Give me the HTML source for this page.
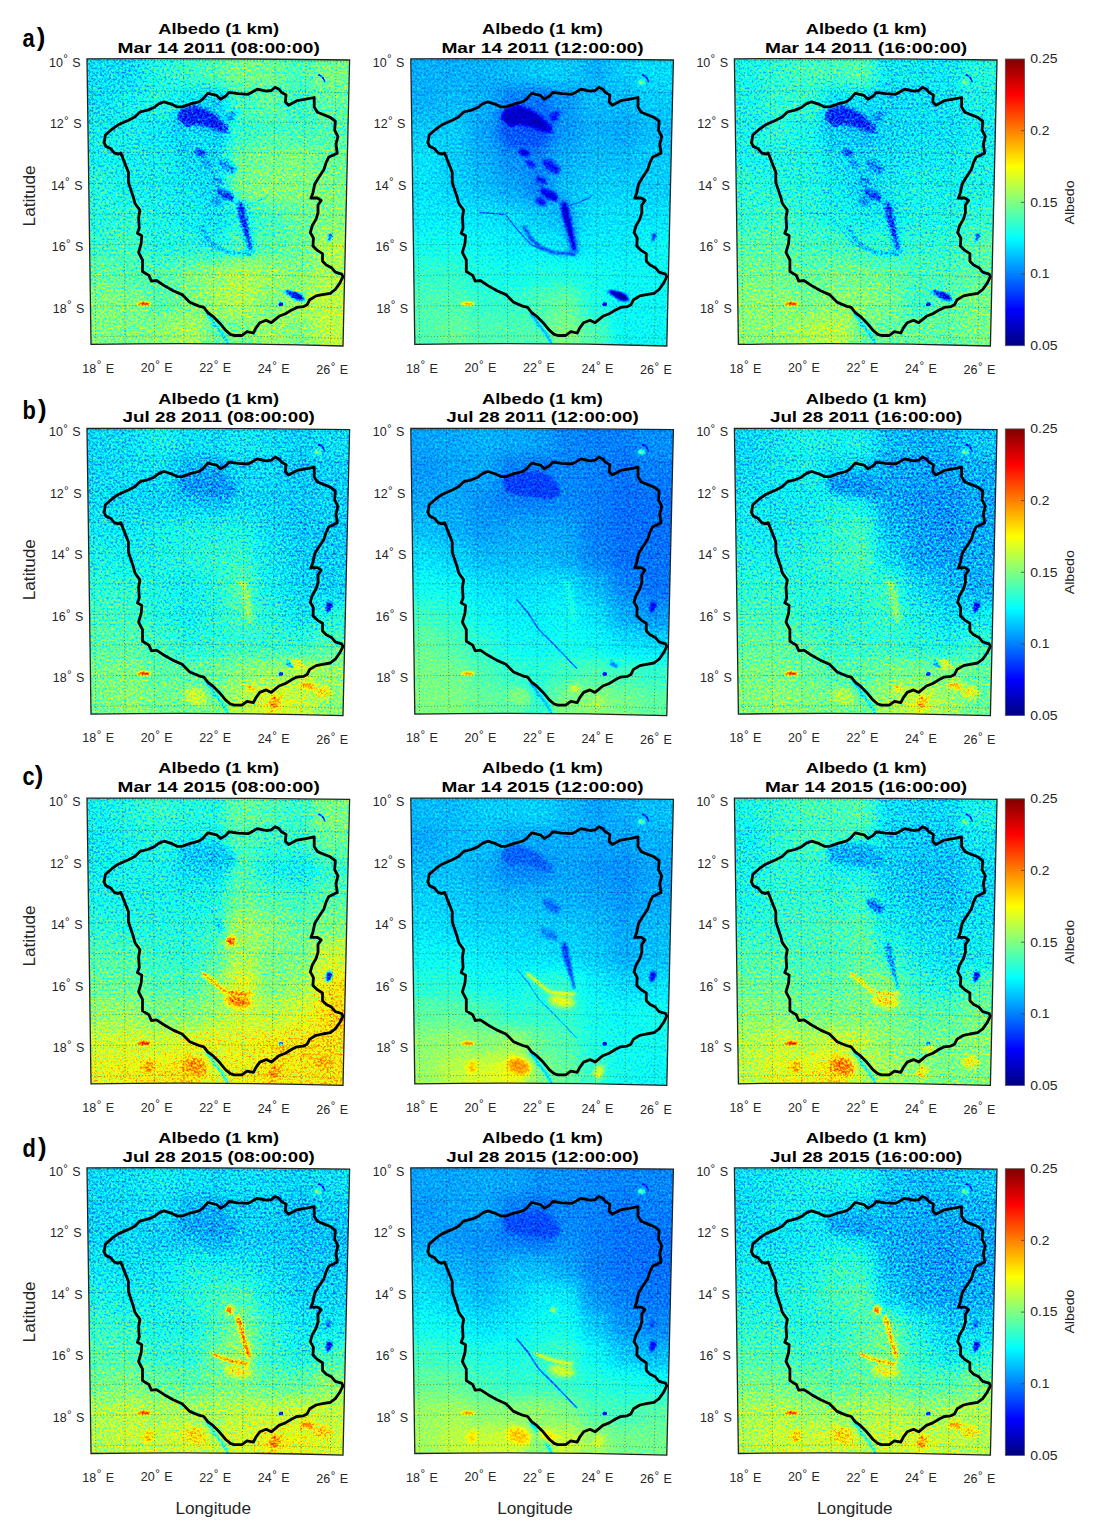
<!DOCTYPE html><html><head><meta charset="utf-8"><title>Albedo</title><style>
html,body{margin:0;padding:0;background:#fff;width:1094px;height:1529px;overflow:hidden}
svg{display:block;font-family:"Liberation Sans",sans-serif}
</style></head><body>
<svg width="1094" height="1529" viewBox="0 0 1094 1529">
<defs>
<filter id="jet" x="-5%" y="-5%" width="110%" height="110%" color-interpolation-filters="sRGB"><feTurbulence type="fractalNoise" baseFrequency="0.45" numOctaves="2" seed="7" result="n"/><feColorMatrix in="n" type="matrix" values="1 0 0 0 0 1 0 0 0 0 1 0 0 0 0 0 0 0 0 1" result="g"/><feComposite in="SourceGraphic" in2="g" operator="arithmetic" k1="0" k2="1" k3="0.420" k4="-0.210"/><feComponentTransfer><feFuncR type="table" tableValues="0 0 0 0 0.5 1 1 1 0.5"/><feFuncG type="table" tableValues="0 0 0.5 1 1 1 0.5 0 0"/><feFuncB type="table" tableValues="0.5 1 1 1 0.5 0 0 0 0"/></feComponentTransfer><feGaussianBlur stdDeviation="0.45"/></filter>
<filter id="jetm" x="-5%" y="-5%" width="110%" height="110%" color-interpolation-filters="sRGB"><feTurbulence type="fractalNoise" baseFrequency="0.45" numOctaves="2" seed="7" result="n"/><feColorMatrix in="n" type="matrix" values="1 0 0 0 0 1 0 0 0 0 1 0 0 0 0 0 0 0 0 1" result="g"/><feComposite in="SourceGraphic" in2="g" operator="arithmetic" k1="0" k2="1" k3="0.210" k4="-0.105"/><feComponentTransfer><feFuncR type="table" tableValues="0 0 0 0 0.5 1 1 1 0.5"/><feFuncG type="table" tableValues="0 0 0.5 1 1 1 0.5 0 0"/><feFuncB type="table" tableValues="0.5 1 1 1 0.5 0 0 0 0"/></feComponentTransfer><feGaussianBlur stdDeviation="0.45"/></filter>
<filter id="bl" x="-10%" y="-10%" width="120%" height="120%" color-interpolation-filters="sRGB"><feGaussianBlur stdDeviation="7.5"/></filter>
<filter id="b1" x="-50%" y="-50%" width="200%" height="200%" color-interpolation-filters="sRGB"><feGaussianBlur stdDeviation="1.2"/></filter>
<filter id="b2" x="-50%" y="-50%" width="200%" height="200%" color-interpolation-filters="sRGB"><feGaussianBlur stdDeviation="2.5"/></filter>
<filter id="b3" x="-50%" y="-50%" width="200%" height="200%" color-interpolation-filters="sRGB"><feGaussianBlur stdDeviation="5"/></filter>
<clipPath id="cq"><path d="M0,0Q131.7,-0.6 262.6,1.2L256,287.2Q130,283.6 4,285.6Z"/></clipPath>
<linearGradient id="cb" x1="0" y1="1" x2="0" y2="0"><stop offset="0.0000" stop-color="#000080"/><stop offset="0.1250" stop-color="#0000ff"/><stop offset="0.2500" stop-color="#0080ff"/><stop offset="0.3750" stop-color="#00ffff"/><stop offset="0.5000" stop-color="#80ff80"/><stop offset="0.6250" stop-color="#ffff00"/><stop offset="0.7500" stop-color="#ff8000"/><stop offset="0.8750" stop-color="#ff0000"/><stop offset="1.0000" stop-color="#800000"/></linearGradient>
<path id="ol" d="M17.1,83.9 18.4,76.2 24.8,70.5 31.2,66.0 41.4,61.5 47.8,58.3 52.9,53.2 60.6,51.3 67.0,48.7 72.1,44.9 77.2,43.0 84.9,45.5 90.0,48.1 95.1,48.1 104.1,44.9 111.8,43.0 115.6,40.4 120.7,34.6 129.7,36.6 133.5,40.4 138.7,37.2 142.1,33.6 151.0,34.9 161.3,35.5 170.2,30.4 179.2,32.3 184.3,31.7 188.1,28.5 192.0,30.4 194.5,33.6 199.0,36.2 198.4,43.2 201.6,46.4 209.9,41.9 217.6,40.6 227.2,38.7 227.2,48.3 230.4,53.4 236.8,56.0 243.2,58.6 248.3,62.4 247.7,71.3 250.9,77.7 249.0,85.4 250.2,94.4 241.9,98.2 239.3,103.3 236.8,111.0 231.7,118.7 227.8,125.1 225.9,134.1 224.0,139.2 230.4,139.2 234.2,141.7 231.0,146.2 231.0,153.9 229.1,160.3 225.3,166.7 223.3,173.7 226.5,179.5 225.9,187.2 230.4,191.6 235.5,194.8 235.5,202.5 239.3,206.3 244.5,208.9 248.3,213.4 254.7,215.3 256.0,217.9 252.8,224.3 248.3,230.7 243.2,234.5 235.5,235.8 229.1,237.1 222.7,240.9 220.1,246.0 216.3,247.9 209.9,248.6 204.8,251.1 198.4,255.0 192.0,257.5 184.3,263.9 179.2,261.4 172.8,263.9 169.0,269.1 166.4,274.2 160.0,272.9 154.9,276.7 147.2,276.7 143.4,275.5 138.7,271.6 132.3,263.9 125.9,257.5 120.7,253.7 116.9,248.6 111.8,247.3 102.8,243.5 95.1,235.8 86.2,231.9 77.2,226.8 69.5,221.7 64.4,222.3 61.9,216.6 55.5,212.7 55.5,201.2 51.6,193.6 54.2,184.6 54.8,176.9 50.4,174.4 52.3,169.2 51.6,159.0 52.9,151.3 49.1,146.2 47.8,144.1 46.5,138.9 44.0,131.3 41.4,123.6 41.4,113.3 38.8,106.9 36.3,100.5 33.7,94.1 31.2,95.4 27.3,94.1 23.5,89.7 19.0,87.7Z"/>
<filter id="f3_0" x="-100%" y="-100%" width="300%" height="300%" color-interpolation-filters="sRGB"><feGaussianBlur stdDeviation="3.0"/></filter>
<filter id="f2_6" x="-100%" y="-100%" width="300%" height="300%" color-interpolation-filters="sRGB"><feGaussianBlur stdDeviation="2.6"/></filter>
<filter id="f2_5" x="-100%" y="-100%" width="300%" height="300%" color-interpolation-filters="sRGB"><feGaussianBlur stdDeviation="2.5"/></filter>
<filter id="f2_2" x="-100%" y="-100%" width="300%" height="300%" color-interpolation-filters="sRGB"><feGaussianBlur stdDeviation="2.2"/></filter>
<filter id="f2_0" x="-100%" y="-100%" width="300%" height="300%" color-interpolation-filters="sRGB"><feGaussianBlur stdDeviation="2.0"/></filter>
<filter id="f1_8" x="-100%" y="-100%" width="300%" height="300%" color-interpolation-filters="sRGB"><feGaussianBlur stdDeviation="1.8"/></filter>
<filter id="f1_5" x="-100%" y="-100%" width="300%" height="300%" color-interpolation-filters="sRGB"><feGaussianBlur stdDeviation="1.5"/></filter>
<filter id="f1_3" x="-100%" y="-100%" width="300%" height="300%" color-interpolation-filters="sRGB"><feGaussianBlur stdDeviation="1.3"/></filter>
<filter id="f1_2" x="-100%" y="-100%" width="300%" height="300%" color-interpolation-filters="sRGB"><feGaussianBlur stdDeviation="1.2"/></filter>
<filter id="f1_1" x="-100%" y="-100%" width="300%" height="300%" color-interpolation-filters="sRGB"><feGaussianBlur stdDeviation="1.1"/></filter>
<filter id="f1_0" x="-100%" y="-100%" width="300%" height="300%" color-interpolation-filters="sRGB"><feGaussianBlur stdDeviation="1.0"/></filter>
<filter id="f0_9" x="-100%" y="-100%" width="300%" height="300%" color-interpolation-filters="sRGB"><feGaussianBlur stdDeviation="0.9"/></filter>
<filter id="f0_8" x="-100%" y="-100%" width="300%" height="300%" color-interpolation-filters="sRGB"><feGaussianBlur stdDeviation="0.8"/></filter>
<filter id="f0_7" x="-100%" y="-100%" width="300%" height="300%" color-interpolation-filters="sRGB"><feGaussianBlur stdDeviation="0.7"/></filter>
<filter id="f0_6" x="-100%" y="-100%" width="300%" height="300%" color-interpolation-filters="sRGB"><feGaussianBlur stdDeviation="0.6"/></filter>
</defs>
<g transform="translate(87.0,58.8)">
<g clip-path="url(#cq)"><g filter="url(#jet)">
<g filter="url(#bl)">
<rect x="-30.3" y="-29.1" width="30.6" height="29.4" fill="#595959"/>
<rect x="-0.3" y="-29.1" width="29.8" height="29.4" fill="#595959"/>
<rect x="28.9" y="-29.1" width="29.8" height="29.4" fill="#595959"/>
<rect x="58.1" y="-29.1" width="29.8" height="29.4" fill="#666666"/>
<rect x="87.3" y="-29.1" width="29.8" height="29.4" fill="#6c6c6c"/>
<rect x="116.5" y="-29.1" width="24.3" height="29.4" fill="#737373"/>
<rect x="140.2" y="-29.1" width="29.6" height="29.4" fill="#7d7d7d"/>
<rect x="169.2" y="-29.1" width="29.6" height="29.4" fill="#797979"/>
<rect x="198.2" y="-29.1" width="29.6" height="29.4" fill="#737373"/>
<rect x="227.2" y="-29.1" width="36.1" height="29.4" fill="#7d7d7d"/>
<rect x="262.7" y="-29.1" width="30.6" height="29.4" fill="#7d7d7d"/>
<rect x="-30.3" y="-0.3" width="30.6" height="29.4" fill="#595959"/>
<rect x="-0.3" y="-0.3" width="29.8" height="29.4" fill="#595959"/>
<rect x="28.9" y="-0.3" width="29.8" height="29.4" fill="#595959"/>
<rect x="58.1" y="-0.3" width="29.8" height="29.4" fill="#666666"/>
<rect x="87.3" y="-0.3" width="29.8" height="29.4" fill="#6c6c6c"/>
<rect x="116.5" y="-0.3" width="24.3" height="29.4" fill="#737373"/>
<rect x="140.2" y="-0.3" width="29.6" height="29.4" fill="#7d7d7d"/>
<rect x="169.2" y="-0.3" width="29.6" height="29.4" fill="#797979"/>
<rect x="198.2" y="-0.3" width="29.6" height="29.4" fill="#737373"/>
<rect x="227.2" y="-0.3" width="36.1" height="29.4" fill="#7d7d7d"/>
<rect x="262.7" y="-0.3" width="30.6" height="29.4" fill="#7d7d7d"/>
<rect x="-30.3" y="28.5" width="30.6" height="29.4" fill="#595959"/>
<rect x="-0.3" y="28.5" width="29.8" height="29.4" fill="#595959"/>
<rect x="28.9" y="28.5" width="29.8" height="29.4" fill="#606060"/>
<rect x="58.1" y="28.5" width="29.8" height="29.4" fill="#666666"/>
<rect x="87.3" y="28.5" width="29.8" height="29.4" fill="#5c5c5c"/>
<rect x="116.5" y="28.5" width="24.3" height="29.4" fill="#535353"/>
<rect x="140.2" y="28.5" width="29.6" height="29.4" fill="#707070"/>
<rect x="169.2" y="28.5" width="29.6" height="29.4" fill="#777777"/>
<rect x="198.2" y="28.5" width="29.6" height="29.4" fill="#6c6c6c"/>
<rect x="227.2" y="28.5" width="36.1" height="29.4" fill="#777777"/>
<rect x="262.7" y="28.5" width="30.6" height="29.4" fill="#777777"/>
<rect x="-30.3" y="57.3" width="30.6" height="29.4" fill="#606060"/>
<rect x="-0.3" y="57.3" width="29.8" height="29.4" fill="#606060"/>
<rect x="28.9" y="57.3" width="29.8" height="29.4" fill="#606060"/>
<rect x="58.1" y="57.3" width="29.8" height="29.4" fill="#5c5c5c"/>
<rect x="87.3" y="57.3" width="29.8" height="29.4" fill="#535353"/>
<rect x="116.5" y="57.3" width="24.3" height="29.4" fill="#4f4f4f"/>
<rect x="140.2" y="57.3" width="29.6" height="29.4" fill="#6c6c6c"/>
<rect x="169.2" y="57.3" width="29.6" height="29.4" fill="#707070"/>
<rect x="198.2" y="57.3" width="29.6" height="29.4" fill="#707070"/>
<rect x="227.2" y="57.3" width="36.1" height="29.4" fill="#737373"/>
<rect x="262.7" y="57.3" width="30.6" height="29.4" fill="#737373"/>
<rect x="-30.3" y="86.1" width="30.6" height="29.4" fill="#606060"/>
<rect x="-0.3" y="86.1" width="29.8" height="29.4" fill="#606060"/>
<rect x="28.9" y="86.1" width="29.8" height="29.4" fill="#606060"/>
<rect x="58.1" y="86.1" width="29.8" height="29.4" fill="#606060"/>
<rect x="87.3" y="86.1" width="29.8" height="29.4" fill="#575757"/>
<rect x="116.5" y="86.1" width="24.3" height="29.4" fill="#575757"/>
<rect x="140.2" y="86.1" width="29.6" height="29.4" fill="#797979"/>
<rect x="169.2" y="86.1" width="29.6" height="29.4" fill="#7d7d7d"/>
<rect x="198.2" y="86.1" width="29.6" height="29.4" fill="#7f7f7f"/>
<rect x="227.2" y="86.1" width="36.1" height="29.4" fill="#797979"/>
<rect x="262.7" y="86.1" width="30.6" height="29.4" fill="#797979"/>
<rect x="-30.3" y="114.9" width="30.6" height="29.4" fill="#666666"/>
<rect x="-0.3" y="114.9" width="29.8" height="29.4" fill="#666666"/>
<rect x="28.9" y="114.9" width="29.8" height="29.4" fill="#606060"/>
<rect x="58.1" y="114.9" width="29.8" height="29.4" fill="#606060"/>
<rect x="87.3" y="114.9" width="29.8" height="29.4" fill="#5c5c5c"/>
<rect x="116.5" y="114.9" width="24.3" height="29.4" fill="#575757"/>
<rect x="140.2" y="114.9" width="29.6" height="29.4" fill="#7d7d7d"/>
<rect x="169.2" y="114.9" width="29.6" height="29.4" fill="#828282"/>
<rect x="198.2" y="114.9" width="29.6" height="29.4" fill="#7f7f7f"/>
<rect x="227.2" y="114.9" width="36.1" height="29.4" fill="#7f7f7f"/>
<rect x="262.7" y="114.9" width="30.6" height="29.4" fill="#7f7f7f"/>
<rect x="-30.3" y="143.7" width="30.6" height="29.4" fill="#666666"/>
<rect x="-0.3" y="143.7" width="29.8" height="29.4" fill="#666666"/>
<rect x="28.9" y="143.7" width="29.8" height="29.4" fill="#6a6a6a"/>
<rect x="58.1" y="143.7" width="29.8" height="29.4" fill="#636363"/>
<rect x="87.3" y="143.7" width="29.8" height="29.4" fill="#606060"/>
<rect x="116.5" y="143.7" width="24.3" height="29.4" fill="#595959"/>
<rect x="140.2" y="143.7" width="29.6" height="29.4" fill="#666666"/>
<rect x="169.2" y="143.7" width="29.6" height="29.4" fill="#707070"/>
<rect x="198.2" y="143.7" width="29.6" height="29.4" fill="#797979"/>
<rect x="227.2" y="143.7" width="36.1" height="29.4" fill="#7f7f7f"/>
<rect x="262.7" y="143.7" width="30.6" height="29.4" fill="#7f7f7f"/>
<rect x="-30.3" y="172.5" width="30.6" height="29.4" fill="#6c6c6c"/>
<rect x="-0.3" y="172.5" width="29.8" height="29.4" fill="#6c6c6c"/>
<rect x="28.9" y="172.5" width="29.8" height="29.4" fill="#707070"/>
<rect x="58.1" y="172.5" width="29.8" height="29.4" fill="#666666"/>
<rect x="87.3" y="172.5" width="29.8" height="29.4" fill="#666666"/>
<rect x="116.5" y="172.5" width="24.3" height="29.4" fill="#636363"/>
<rect x="140.2" y="172.5" width="29.6" height="29.4" fill="#737373"/>
<rect x="169.2" y="172.5" width="29.6" height="29.4" fill="#737373"/>
<rect x="198.2" y="172.5" width="29.6" height="29.4" fill="#797979"/>
<rect x="227.2" y="172.5" width="36.1" height="29.4" fill="#8c8c8c"/>
<rect x="262.7" y="172.5" width="30.6" height="29.4" fill="#8c8c8c"/>
<rect x="-30.3" y="201.3" width="30.6" height="29.4" fill="#797979"/>
<rect x="-0.3" y="201.3" width="29.8" height="29.4" fill="#797979"/>
<rect x="28.9" y="201.3" width="29.8" height="29.4" fill="#737373"/>
<rect x="58.1" y="201.3" width="29.8" height="29.4" fill="#737373"/>
<rect x="87.3" y="201.3" width="29.8" height="29.4" fill="#7d7d7d"/>
<rect x="116.5" y="201.3" width="24.3" height="29.4" fill="#868686"/>
<rect x="140.2" y="201.3" width="29.6" height="29.4" fill="#8c8c8c"/>
<rect x="169.2" y="201.3" width="29.6" height="29.4" fill="#868686"/>
<rect x="198.2" y="201.3" width="29.6" height="29.4" fill="#7f7f7f"/>
<rect x="227.2" y="201.3" width="36.1" height="29.4" fill="#8a8a8a"/>
<rect x="262.7" y="201.3" width="30.6" height="29.4" fill="#8a8a8a"/>
<rect x="-30.3" y="230.1" width="30.6" height="29.4" fill="#7f7f7f"/>
<rect x="-0.3" y="230.1" width="29.8" height="29.4" fill="#7f7f7f"/>
<rect x="28.9" y="230.1" width="29.8" height="29.4" fill="#7f7f7f"/>
<rect x="58.1" y="230.1" width="29.8" height="29.4" fill="#757575"/>
<rect x="87.3" y="230.1" width="29.8" height="29.4" fill="#7d7d7d"/>
<rect x="116.5" y="230.1" width="24.3" height="29.4" fill="#868686"/>
<rect x="140.2" y="230.1" width="29.6" height="29.4" fill="#8c8c8c"/>
<rect x="169.2" y="230.1" width="29.6" height="29.4" fill="#7f7f7f"/>
<rect x="198.2" y="230.1" width="29.6" height="29.4" fill="#8a8a8a"/>
<rect x="227.2" y="230.1" width="36.1" height="29.4" fill="#8f8f8f"/>
<rect x="262.7" y="230.1" width="30.6" height="29.4" fill="#8f8f8f"/>
<rect x="-30.3" y="258.9" width="30.6" height="29.4" fill="#7f7f7f"/>
<rect x="-0.3" y="258.9" width="29.8" height="29.4" fill="#7f7f7f"/>
<rect x="28.9" y="258.9" width="29.8" height="29.4" fill="#7d7d7d"/>
<rect x="58.1" y="258.9" width="29.8" height="29.4" fill="#828282"/>
<rect x="87.3" y="258.9" width="29.8" height="29.4" fill="#8a8a8a"/>
<rect x="116.5" y="258.9" width="24.3" height="29.4" fill="#797979"/>
<rect x="140.2" y="258.9" width="29.6" height="29.4" fill="#7d7d7d"/>
<rect x="169.2" y="258.9" width="29.6" height="29.4" fill="#868686"/>
<rect x="198.2" y="258.9" width="29.6" height="29.4" fill="#7f7f7f"/>
<rect x="227.2" y="258.9" width="36.1" height="29.4" fill="#8f8f8f"/>
<rect x="262.7" y="258.9" width="30.6" height="29.4" fill="#8f8f8f"/>
<rect x="-30.3" y="287.7" width="30.6" height="29.4" fill="#7f7f7f"/>
<rect x="-0.3" y="287.7" width="29.8" height="29.4" fill="#7f7f7f"/>
<rect x="28.9" y="287.7" width="29.8" height="29.4" fill="#7d7d7d"/>
<rect x="58.1" y="287.7" width="29.8" height="29.4" fill="#828282"/>
<rect x="87.3" y="287.7" width="29.8" height="29.4" fill="#8a8a8a"/>
<rect x="116.5" y="287.7" width="24.3" height="29.4" fill="#797979"/>
<rect x="140.2" y="287.7" width="29.6" height="29.4" fill="#7d7d7d"/>
<rect x="169.2" y="287.7" width="29.6" height="29.4" fill="#868686"/>
<rect x="198.2" y="287.7" width="29.6" height="29.4" fill="#7f7f7f"/>
<rect x="227.2" y="287.7" width="36.1" height="29.4" fill="#8f8f8f"/>
<rect x="262.7" y="287.7" width="30.6" height="29.4" fill="#8f8f8f"/>
</g>
<polyline points="120.0,255.0 128.0,266.0 136.0,276.0 142.0,288.0" fill="none" stroke="#464646" stroke-width="2.2" stroke-linecap="round" stroke-linejoin="round" filter="url(#f1_0)"/>
<ellipse cx="57.0" cy="245.0" rx="6.8" ry="1.7" transform="rotate(0 57.0 245.0)" fill="#dfdfdf" filter="url(#f1_0)"/>
<ellipse cx="243.0" cy="178.0" rx="1.6" ry="4.5" transform="rotate(12 243.0 178.0)" fill="#202020" filter="url(#f0_8)"/>
<polyline points="232.0,16.0 236.0,19.0 238.0,23.0" fill="none" stroke="#262626" stroke-width="1.6" stroke-linecap="round" stroke-linejoin="round" filter="url(#f0_6)"/>
<ellipse cx="230.5" cy="23.5" rx="3.5" ry="1.8" transform="rotate(0 230.5 23.5)" fill="#8c8c8c" filter="url(#f1_0)"/>
<polygon points="90.0,68.0 120.0,70.0 130.0,78.0 126.0,90.0 100.0,88.0 93.0,80.0" fill="#595959" filter="url(#f3_0)"/>
<polygon points="94.8,50.1 105.9,45.7 119.3,50.1 131.5,59.0 140.4,67.9 141.5,73.5 131.5,72.4 119.3,67.9 108.1,65.7 99.2,67.9 95.9,64.6 89.2,59.0" fill="#292929" filter="url(#f1_5)"/>
<polygon points="138.0,55.0 149.3,51.2 147.1,60.1 141.0,64.0" fill="#494949" filter="url(#f1_5)"/>
<ellipse cx="113.6" cy="94.0" rx="6.0" ry="3.0" transform="rotate(15 113.6 94.0)" fill="#2d2d2d" filter="url(#f1_2)"/>
<ellipse cx="119.8" cy="105.2" rx="5.5" ry="2.6" transform="rotate(35 119.8 105.2)" fill="#454545" filter="url(#f1_2)"/>
<polygon points="131.5,100.2 140.4,101.3 149.3,109.1 148.2,115.7 140.4,113.5 133.7,108.0" fill="#474747" filter="url(#f1_5)"/>
<ellipse cx="130.4" cy="121.3" rx="6.0" ry="3.0" transform="rotate(30 130.4 121.3)" fill="#474747" filter="url(#f1_2)"/>
<polygon points="129.3,129.1 138.2,131.3 146.0,134.7 148.2,141.3 142.6,142.4 136.0,139.1 130.4,134.7" fill="#2d2d2d" filter="url(#f1_5)"/>
<ellipse cx="130.4" cy="143.0" rx="6.0" ry="3.5" transform="rotate(30 130.4 143.0)" fill="#474747" filter="url(#f1_2)"/>
<polyline points="153.0,144.5 156.0,156.0 159.5,172.0 163.5,191.0" fill="none" stroke="#525252" stroke-width="8.0" stroke-linecap="round" stroke-linejoin="round" filter="url(#f2_0)"/>
<polygon points="151.0,144.7 155.5,143.8 157.8,153.6 161.2,170.2 164.6,189.2 163.0,192.5 159.8,181.4 154.5,164.7 151.2,153.6" fill="#2a2a2a" filter="url(#f1_0)"/>
<polyline points="113.0,168.0 120.0,180.0 130.0,189.0 144.0,194.0 163.5,195.5" fill="none" stroke="#444444" stroke-width="2.6" stroke-linecap="round" stroke-linejoin="round" filter="url(#f0_9)"/>
<polyline points="69.2,153.6 94.8,155.8 105.9,170.2 120.4,185.8 131.5,191.0" fill="none" stroke="#595959" stroke-width="1.2" stroke-linecap="round" stroke-linejoin="round" filter="url(#f0_6)"/>
<polyline points="158.2,146.9 170.0,143.0 180.4,138.0" fill="none" stroke="#595959" stroke-width="1.2" stroke-linecap="round" stroke-linejoin="round" filter="url(#f0_6)"/>
<polygon points="195.7,232.2 203.9,231.8 212.2,234.1 216.7,237.7 218.6,241.4 214.0,242.3 208.5,241.4 203.9,237.7 199.4,235.0" fill="#202020" filter="url(#f1_0)"/>
<ellipse cx="193.9" cy="245.5" rx="2.3" ry="2.0" transform="rotate(0 193.9 245.5)" fill="#131313" filter="url(#f0_6)"/>
</g>
<path d="M5.1,0.0L8.9,285.6M35.6,0.2L38.2,285.8M66.1,0.3L67.5,286.0M96.7,0.4L96.8,286.2M127.2,0.6L126.1,286.4M157.8,0.7L155.4,286.6M188.3,0.9L184.7,286.7M218.9,1.0L214.0,286.9M249.4,1.1L243.3,287.1M0.0,1.9Q131.3,1.2 262.6,3.1M0.5,32.6Q131.2,31.6 261.8,33.8M0.9,63.3Q131.0,62.1 261.1,64.6M1.3,94.0Q130.9,92.6 260.4,95.3M1.7,124.7Q130.7,123.1 259.7,126.1M2.2,155.4Q130.6,153.5 259.0,156.8M2.6,186.1Q130.5,184.0 258.3,187.6M3.0,216.8Q130.3,214.5 257.6,218.3M3.5,247.5Q130.2,245.0 256.9,249.0M3.9,278.2Q130.0,275.5 256.2,279.8" fill="none" stroke="#222" stroke-width="0.9" stroke-dasharray="1.1 2.1" opacity="0.5"/>
</g>
<use href="#ol" fill="none" stroke="#000" stroke-width="2.8" stroke-linejoin="round"/>
<path d="M0,0Q131.7,-0.6 262.6,1.2L256,287.2Q130,283.6 4,285.6Z" fill="none" stroke="#222" stroke-width="1.3"/>
</g>
<g transform="translate(410.8,58.8)">
<g clip-path="url(#cq)"><g filter="url(#jetm)">
<g filter="url(#bl)">
<rect x="-30.3" y="-29.1" width="30.6" height="29.4" fill="#4c4c4c"/>
<rect x="-0.3" y="-29.1" width="29.8" height="29.4" fill="#4c4c4c"/>
<rect x="28.9" y="-29.1" width="29.8" height="29.4" fill="#4c4c4c"/>
<rect x="58.1" y="-29.1" width="29.8" height="29.4" fill="#4c4c4c"/>
<rect x="87.3" y="-29.1" width="29.8" height="29.4" fill="#4f4f4f"/>
<rect x="116.5" y="-29.1" width="24.3" height="29.4" fill="#535353"/>
<rect x="140.2" y="-29.1" width="29.6" height="29.4" fill="#535353"/>
<rect x="169.2" y="-29.1" width="29.6" height="29.4" fill="#4c4c4c"/>
<rect x="198.2" y="-29.1" width="29.6" height="29.4" fill="#535353"/>
<rect x="227.2" y="-29.1" width="36.1" height="29.4" fill="#575757"/>
<rect x="262.7" y="-29.1" width="30.6" height="29.4" fill="#575757"/>
<rect x="-30.3" y="-0.3" width="30.6" height="29.4" fill="#4c4c4c"/>
<rect x="-0.3" y="-0.3" width="29.8" height="29.4" fill="#4c4c4c"/>
<rect x="28.9" y="-0.3" width="29.8" height="29.4" fill="#4c4c4c"/>
<rect x="58.1" y="-0.3" width="29.8" height="29.4" fill="#4c4c4c"/>
<rect x="87.3" y="-0.3" width="29.8" height="29.4" fill="#4f4f4f"/>
<rect x="116.5" y="-0.3" width="24.3" height="29.4" fill="#535353"/>
<rect x="140.2" y="-0.3" width="29.6" height="29.4" fill="#535353"/>
<rect x="169.2" y="-0.3" width="29.6" height="29.4" fill="#4c4c4c"/>
<rect x="198.2" y="-0.3" width="29.6" height="29.4" fill="#535353"/>
<rect x="227.2" y="-0.3" width="36.1" height="29.4" fill="#575757"/>
<rect x="262.7" y="-0.3" width="30.6" height="29.4" fill="#575757"/>
<rect x="-30.3" y="28.5" width="30.6" height="29.4" fill="#4c4c4c"/>
<rect x="-0.3" y="28.5" width="29.8" height="29.4" fill="#4c4c4c"/>
<rect x="28.9" y="28.5" width="29.8" height="29.4" fill="#4f4f4f"/>
<rect x="58.1" y="28.5" width="29.8" height="29.4" fill="#4c4c4c"/>
<rect x="87.3" y="28.5" width="29.8" height="29.4" fill="#404040"/>
<rect x="116.5" y="28.5" width="24.3" height="29.4" fill="#3c3c3c"/>
<rect x="140.2" y="28.5" width="29.6" height="29.4" fill="#464646"/>
<rect x="169.2" y="28.5" width="29.6" height="29.4" fill="#4f4f4f"/>
<rect x="198.2" y="28.5" width="29.6" height="29.4" fill="#4f4f4f"/>
<rect x="227.2" y="28.5" width="36.1" height="29.4" fill="#535353"/>
<rect x="262.7" y="28.5" width="30.6" height="29.4" fill="#535353"/>
<rect x="-30.3" y="57.3" width="30.6" height="29.4" fill="#535353"/>
<rect x="-0.3" y="57.3" width="29.8" height="29.4" fill="#535353"/>
<rect x="28.9" y="57.3" width="29.8" height="29.4" fill="#535353"/>
<rect x="58.1" y="57.3" width="29.8" height="29.4" fill="#494949"/>
<rect x="87.3" y="57.3" width="29.8" height="29.4" fill="#393939"/>
<rect x="116.5" y="57.3" width="24.3" height="29.4" fill="#333333"/>
<rect x="140.2" y="57.3" width="29.6" height="29.4" fill="#464646"/>
<rect x="169.2" y="57.3" width="29.6" height="29.4" fill="#4c4c4c"/>
<rect x="198.2" y="57.3" width="29.6" height="29.4" fill="#4a4a4a"/>
<rect x="227.2" y="57.3" width="36.1" height="29.4" fill="#4f4f4f"/>
<rect x="262.7" y="57.3" width="30.6" height="29.4" fill="#4f4f4f"/>
<rect x="-30.3" y="86.1" width="30.6" height="29.4" fill="#595959"/>
<rect x="-0.3" y="86.1" width="29.8" height="29.4" fill="#595959"/>
<rect x="28.9" y="86.1" width="29.8" height="29.4" fill="#535353"/>
<rect x="58.1" y="86.1" width="29.8" height="29.4" fill="#4c4c4c"/>
<rect x="87.3" y="86.1" width="29.8" height="29.4" fill="#444444"/>
<rect x="116.5" y="86.1" width="24.3" height="29.4" fill="#424242"/>
<rect x="140.2" y="86.1" width="29.6" height="29.4" fill="#4c4c4c"/>
<rect x="169.2" y="86.1" width="29.6" height="29.4" fill="#4f4f4f"/>
<rect x="198.2" y="86.1" width="29.6" height="29.4" fill="#4f4f4f"/>
<rect x="227.2" y="86.1" width="36.1" height="29.4" fill="#535353"/>
<rect x="262.7" y="86.1" width="30.6" height="29.4" fill="#535353"/>
<rect x="-30.3" y="114.9" width="30.6" height="29.4" fill="#595959"/>
<rect x="-0.3" y="114.9" width="29.8" height="29.4" fill="#595959"/>
<rect x="28.9" y="114.9" width="29.8" height="29.4" fill="#555555"/>
<rect x="58.1" y="114.9" width="29.8" height="29.4" fill="#505050"/>
<rect x="87.3" y="114.9" width="29.8" height="29.4" fill="#4a4a4a"/>
<rect x="116.5" y="114.9" width="24.3" height="29.4" fill="#404040"/>
<rect x="140.2" y="114.9" width="29.6" height="29.4" fill="#505050"/>
<rect x="169.2" y="114.9" width="29.6" height="29.4" fill="#545454"/>
<rect x="198.2" y="114.9" width="29.6" height="29.4" fill="#545454"/>
<rect x="227.2" y="114.9" width="36.1" height="29.4" fill="#545454"/>
<rect x="262.7" y="114.9" width="30.6" height="29.4" fill="#545454"/>
<rect x="-30.3" y="143.7" width="30.6" height="29.4" fill="#5c5c5c"/>
<rect x="-0.3" y="143.7" width="29.8" height="29.4" fill="#5c5c5c"/>
<rect x="28.9" y="143.7" width="29.8" height="29.4" fill="#5c5c5c"/>
<rect x="58.1" y="143.7" width="29.8" height="29.4" fill="#595959"/>
<rect x="87.3" y="143.7" width="29.8" height="29.4" fill="#575757"/>
<rect x="116.5" y="143.7" width="24.3" height="29.4" fill="#535353"/>
<rect x="140.2" y="143.7" width="29.6" height="29.4" fill="#4f4f4f"/>
<rect x="169.2" y="143.7" width="29.6" height="29.4" fill="#595959"/>
<rect x="198.2" y="143.7" width="29.6" height="29.4" fill="#595959"/>
<rect x="227.2" y="143.7" width="36.1" height="29.4" fill="#595959"/>
<rect x="262.7" y="143.7" width="30.6" height="29.4" fill="#595959"/>
<rect x="-30.3" y="172.5" width="30.6" height="29.4" fill="#636363"/>
<rect x="-0.3" y="172.5" width="29.8" height="29.4" fill="#636363"/>
<rect x="28.9" y="172.5" width="29.8" height="29.4" fill="#636363"/>
<rect x="58.1" y="172.5" width="29.8" height="29.4" fill="#606060"/>
<rect x="87.3" y="172.5" width="29.8" height="29.4" fill="#5c5c5c"/>
<rect x="116.5" y="172.5" width="24.3" height="29.4" fill="#5c5c5c"/>
<rect x="140.2" y="172.5" width="29.6" height="29.4" fill="#595959"/>
<rect x="169.2" y="172.5" width="29.6" height="29.4" fill="#5c5c5c"/>
<rect x="198.2" y="172.5" width="29.6" height="29.4" fill="#5c5c5c"/>
<rect x="227.2" y="172.5" width="36.1" height="29.4" fill="#606060"/>
<rect x="262.7" y="172.5" width="30.6" height="29.4" fill="#606060"/>
<rect x="-30.3" y="201.3" width="30.6" height="29.4" fill="#6c6c6c"/>
<rect x="-0.3" y="201.3" width="29.8" height="29.4" fill="#6c6c6c"/>
<rect x="28.9" y="201.3" width="29.8" height="29.4" fill="#6c6c6c"/>
<rect x="58.1" y="201.3" width="29.8" height="29.4" fill="#666666"/>
<rect x="87.3" y="201.3" width="29.8" height="29.4" fill="#636363"/>
<rect x="116.5" y="201.3" width="24.3" height="29.4" fill="#666666"/>
<rect x="140.2" y="201.3" width="29.6" height="29.4" fill="#666666"/>
<rect x="169.2" y="201.3" width="29.6" height="29.4" fill="#636363"/>
<rect x="198.2" y="201.3" width="29.6" height="29.4" fill="#606060"/>
<rect x="227.2" y="201.3" width="36.1" height="29.4" fill="#606060"/>
<rect x="262.7" y="201.3" width="30.6" height="29.4" fill="#606060"/>
<rect x="-30.3" y="230.1" width="30.6" height="29.4" fill="#737373"/>
<rect x="-0.3" y="230.1" width="29.8" height="29.4" fill="#737373"/>
<rect x="28.9" y="230.1" width="29.8" height="29.4" fill="#737373"/>
<rect x="58.1" y="230.1" width="29.8" height="29.4" fill="#6c6c6c"/>
<rect x="87.3" y="230.1" width="29.8" height="29.4" fill="#6c6c6c"/>
<rect x="116.5" y="230.1" width="24.3" height="29.4" fill="#737373"/>
<rect x="140.2" y="230.1" width="29.6" height="29.4" fill="#797979"/>
<rect x="169.2" y="230.1" width="29.6" height="29.4" fill="#666666"/>
<rect x="198.2" y="230.1" width="29.6" height="29.4" fill="#606060"/>
<rect x="227.2" y="230.1" width="36.1" height="29.4" fill="#606060"/>
<rect x="262.7" y="230.1" width="30.6" height="29.4" fill="#606060"/>
<rect x="-30.3" y="258.9" width="30.6" height="29.4" fill="#737373"/>
<rect x="-0.3" y="258.9" width="29.8" height="29.4" fill="#737373"/>
<rect x="28.9" y="258.9" width="29.8" height="29.4" fill="#797979"/>
<rect x="58.1" y="258.9" width="29.8" height="29.4" fill="#737373"/>
<rect x="87.3" y="258.9" width="29.8" height="29.4" fill="#737373"/>
<rect x="116.5" y="258.9" width="24.3" height="29.4" fill="#737373"/>
<rect x="140.2" y="258.9" width="29.6" height="29.4" fill="#7f7f7f"/>
<rect x="169.2" y="258.9" width="29.6" height="29.4" fill="#737373"/>
<rect x="198.2" y="258.9" width="29.6" height="29.4" fill="#606060"/>
<rect x="227.2" y="258.9" width="36.1" height="29.4" fill="#606060"/>
<rect x="262.7" y="258.9" width="30.6" height="29.4" fill="#606060"/>
<rect x="-30.3" y="287.7" width="30.6" height="29.4" fill="#737373"/>
<rect x="-0.3" y="287.7" width="29.8" height="29.4" fill="#737373"/>
<rect x="28.9" y="287.7" width="29.8" height="29.4" fill="#797979"/>
<rect x="58.1" y="287.7" width="29.8" height="29.4" fill="#737373"/>
<rect x="87.3" y="287.7" width="29.8" height="29.4" fill="#737373"/>
<rect x="116.5" y="287.7" width="24.3" height="29.4" fill="#737373"/>
<rect x="140.2" y="287.7" width="29.6" height="29.4" fill="#7f7f7f"/>
<rect x="169.2" y="287.7" width="29.6" height="29.4" fill="#737373"/>
<rect x="198.2" y="287.7" width="29.6" height="29.4" fill="#606060"/>
<rect x="227.2" y="287.7" width="36.1" height="29.4" fill="#606060"/>
<rect x="262.7" y="287.7" width="30.6" height="29.4" fill="#606060"/>
</g>
<polyline points="120.0,255.0 128.0,266.0 136.0,276.0 142.0,288.0" fill="none" stroke="#393939" stroke-width="2.2" stroke-linecap="round" stroke-linejoin="round" filter="url(#f1_0)"/>
<ellipse cx="57.0" cy="245.0" rx="6.8" ry="1.7" transform="rotate(0 57.0 245.0)" fill="#bfbfbf" filter="url(#f1_0)"/>
<ellipse cx="243.0" cy="178.0" rx="1.6" ry="4.5" transform="rotate(12 243.0 178.0)" fill="#202020" filter="url(#f0_8)"/>
<polyline points="232.0,16.0 236.0,19.0 238.0,23.0" fill="none" stroke="#262626" stroke-width="1.6" stroke-linecap="round" stroke-linejoin="round" filter="url(#f0_6)"/>
<ellipse cx="230.5" cy="23.5" rx="3.5" ry="1.8" transform="rotate(0 230.5 23.5)" fill="#8c8c8c" filter="url(#f1_0)"/>
<polygon points="90.0,68.0 120.0,70.0 130.0,78.0 126.0,90.0 100.0,88.0 93.0,80.0" fill="#363636" filter="url(#f3_0)"/>
<polygon points="94.8,50.1 105.9,45.7 119.3,50.1 131.5,59.0 140.4,67.9 141.5,73.5 131.5,72.4 119.3,67.9 108.1,65.7 99.2,67.9 95.9,64.6 89.2,59.0" fill="#141414" filter="url(#f1_5)"/>
<polygon points="138.0,55.0 149.3,51.2 147.1,60.1 141.0,64.0" fill="#252525" filter="url(#f1_5)"/>
<ellipse cx="113.6" cy="94.0" rx="6.0" ry="3.0" transform="rotate(15 113.6 94.0)" fill="#181818" filter="url(#f1_2)"/>
<ellipse cx="119.8" cy="105.2" rx="5.5" ry="2.6" transform="rotate(35 119.8 105.2)" fill="#212121" filter="url(#f1_2)"/>
<polygon points="131.5,100.2 140.4,101.3 149.3,109.1 148.2,115.7 140.4,113.5 133.7,108.0" fill="#242424" filter="url(#f1_5)"/>
<ellipse cx="130.4" cy="121.3" rx="6.0" ry="3.0" transform="rotate(30 130.4 121.3)" fill="#242424" filter="url(#f1_2)"/>
<polygon points="129.3,129.1 138.2,131.3 146.0,134.7 148.2,141.3 142.6,142.4 136.0,139.1 130.4,134.7" fill="#181818" filter="url(#f1_5)"/>
<ellipse cx="130.4" cy="143.0" rx="6.0" ry="3.5" transform="rotate(30 130.4 143.0)" fill="#242424" filter="url(#f1_2)"/>
<polyline points="153.0,144.5 156.0,156.0 159.5,172.0 163.5,191.0" fill="none" stroke="#363636" stroke-width="8.0" stroke-linecap="round" stroke-linejoin="round" filter="url(#f2_0)"/>
<polygon points="151.0,144.7 155.5,143.8 157.8,153.6 161.2,170.2 164.6,189.2 163.0,192.5 159.8,181.4 154.5,164.7 151.2,153.6" fill="#161616" filter="url(#f1_0)"/>
<polyline points="113.0,168.0 120.0,180.0 130.0,189.0 144.0,194.0 163.5,195.5" fill="none" stroke="#282828" stroke-width="2.6" stroke-linecap="round" stroke-linejoin="round" filter="url(#f0_9)"/>
<polyline points="69.2,153.6 94.8,155.8 105.9,170.2 120.4,185.8 131.5,191.0" fill="none" stroke="#363636" stroke-width="1.2" stroke-linecap="round" stroke-linejoin="round" filter="url(#f0_6)"/>
<polyline points="158.2,146.9 170.0,143.0 180.4,138.0" fill="none" stroke="#363636" stroke-width="1.2" stroke-linecap="round" stroke-linejoin="round" filter="url(#f0_6)"/>
<polygon points="195.7,232.2 203.9,231.8 212.2,234.1 216.7,237.7 218.6,241.4 214.0,242.3 208.5,241.4 203.9,237.7 199.4,235.0" fill="#0b0b0b" filter="url(#f1_0)"/>
<ellipse cx="193.9" cy="245.5" rx="2.3" ry="2.0" transform="rotate(0 193.9 245.5)" fill="#131313" filter="url(#f0_6)"/>
</g>
<path d="M5.1,0.0L8.9,285.6M35.6,0.2L38.2,285.8M66.1,0.3L67.5,286.0M96.7,0.4L96.8,286.2M127.2,0.6L126.1,286.4M157.8,0.7L155.4,286.6M188.3,0.9L184.7,286.7M218.9,1.0L214.0,286.9M249.4,1.1L243.3,287.1M0.0,1.9Q131.3,1.2 262.6,3.1M0.5,32.6Q131.2,31.6 261.8,33.8M0.9,63.3Q131.0,62.1 261.1,64.6M1.3,94.0Q130.9,92.6 260.4,95.3M1.7,124.7Q130.7,123.1 259.7,126.1M2.2,155.4Q130.6,153.5 259.0,156.8M2.6,186.1Q130.5,184.0 258.3,187.6M3.0,216.8Q130.3,214.5 257.6,218.3M3.5,247.5Q130.2,245.0 256.9,249.0M3.9,278.2Q130.0,275.5 256.2,279.8" fill="none" stroke="#222" stroke-width="0.9" stroke-dasharray="1.1 2.1" opacity="0.5"/>
</g>
<use href="#ol" fill="none" stroke="#000" stroke-width="2.8" stroke-linejoin="round"/>
<path d="M0,0Q131.7,-0.6 262.6,1.2L256,287.2Q130,283.6 4,285.6Z" fill="none" stroke="#222" stroke-width="1.3"/>
</g>
<g transform="translate(734.4,58.8)">
<g clip-path="url(#cq)"><g filter="url(#jet)">
<g filter="url(#bl)">
<rect x="-30.3" y="-29.1" width="30.6" height="29.4" fill="#636363"/>
<rect x="-0.3" y="-29.1" width="29.8" height="29.4" fill="#636363"/>
<rect x="28.9" y="-29.1" width="29.8" height="29.4" fill="#6a6a6a"/>
<rect x="58.1" y="-29.1" width="29.8" height="29.4" fill="#707070"/>
<rect x="87.3" y="-29.1" width="29.8" height="29.4" fill="#707070"/>
<rect x="116.5" y="-29.1" width="24.3" height="29.4" fill="#757575"/>
<rect x="140.2" y="-29.1" width="29.6" height="29.4" fill="#5c5c5c"/>
<rect x="169.2" y="-29.1" width="29.6" height="29.4" fill="#5c5c5c"/>
<rect x="198.2" y="-29.1" width="29.6" height="29.4" fill="#5c5c5c"/>
<rect x="227.2" y="-29.1" width="36.1" height="29.4" fill="#666666"/>
<rect x="262.7" y="-29.1" width="30.6" height="29.4" fill="#666666"/>
<rect x="-30.3" y="-0.3" width="30.6" height="29.4" fill="#636363"/>
<rect x="-0.3" y="-0.3" width="29.8" height="29.4" fill="#636363"/>
<rect x="28.9" y="-0.3" width="29.8" height="29.4" fill="#6a6a6a"/>
<rect x="58.1" y="-0.3" width="29.8" height="29.4" fill="#707070"/>
<rect x="87.3" y="-0.3" width="29.8" height="29.4" fill="#707070"/>
<rect x="116.5" y="-0.3" width="24.3" height="29.4" fill="#757575"/>
<rect x="140.2" y="-0.3" width="29.6" height="29.4" fill="#5c5c5c"/>
<rect x="169.2" y="-0.3" width="29.6" height="29.4" fill="#5c5c5c"/>
<rect x="198.2" y="-0.3" width="29.6" height="29.4" fill="#5c5c5c"/>
<rect x="227.2" y="-0.3" width="36.1" height="29.4" fill="#666666"/>
<rect x="262.7" y="-0.3" width="30.6" height="29.4" fill="#666666"/>
<rect x="-30.3" y="28.5" width="30.6" height="29.4" fill="#626262"/>
<rect x="-0.3" y="28.5" width="29.8" height="29.4" fill="#626262"/>
<rect x="28.9" y="28.5" width="29.8" height="29.4" fill="#6a6a6a"/>
<rect x="58.1" y="28.5" width="29.8" height="29.4" fill="#6a6a6a"/>
<rect x="87.3" y="28.5" width="29.8" height="29.4" fill="#595959"/>
<rect x="116.5" y="28.5" width="24.3" height="29.4" fill="#595959"/>
<rect x="140.2" y="28.5" width="29.6" height="29.4" fill="#575757"/>
<rect x="169.2" y="28.5" width="29.6" height="29.4" fill="#595959"/>
<rect x="198.2" y="28.5" width="29.6" height="29.4" fill="#5c5c5c"/>
<rect x="227.2" y="28.5" width="36.1" height="29.4" fill="#626262"/>
<rect x="262.7" y="28.5" width="30.6" height="29.4" fill="#626262"/>
<rect x="-30.3" y="57.3" width="30.6" height="29.4" fill="#626262"/>
<rect x="-0.3" y="57.3" width="29.8" height="29.4" fill="#626262"/>
<rect x="28.9" y="57.3" width="29.8" height="29.4" fill="#696969"/>
<rect x="58.1" y="57.3" width="29.8" height="29.4" fill="#636363"/>
<rect x="87.3" y="57.3" width="29.8" height="29.4" fill="#535353"/>
<rect x="116.5" y="57.3" width="24.3" height="29.4" fill="#4c4c4c"/>
<rect x="140.2" y="57.3" width="29.6" height="29.4" fill="#575757"/>
<rect x="169.2" y="57.3" width="29.6" height="29.4" fill="#595959"/>
<rect x="198.2" y="57.3" width="29.6" height="29.4" fill="#595959"/>
<rect x="227.2" y="57.3" width="36.1" height="29.4" fill="#5e5e5e"/>
<rect x="262.7" y="57.3" width="30.6" height="29.4" fill="#5e5e5e"/>
<rect x="-30.3" y="86.1" width="30.6" height="29.4" fill="#626262"/>
<rect x="-0.3" y="86.1" width="29.8" height="29.4" fill="#626262"/>
<rect x="28.9" y="86.1" width="29.8" height="29.4" fill="#636363"/>
<rect x="58.1" y="86.1" width="29.8" height="29.4" fill="#636363"/>
<rect x="87.3" y="86.1" width="29.8" height="29.4" fill="#595959"/>
<rect x="116.5" y="86.1" width="24.3" height="29.4" fill="#595959"/>
<rect x="140.2" y="86.1" width="29.6" height="29.4" fill="#595959"/>
<rect x="169.2" y="86.1" width="29.6" height="29.4" fill="#5d5d5d"/>
<rect x="198.2" y="86.1" width="29.6" height="29.4" fill="#5d5d5d"/>
<rect x="227.2" y="86.1" width="36.1" height="29.4" fill="#626262"/>
<rect x="262.7" y="86.1" width="30.6" height="29.4" fill="#626262"/>
<rect x="-30.3" y="114.9" width="30.6" height="29.4" fill="#696969"/>
<rect x="-0.3" y="114.9" width="29.8" height="29.4" fill="#696969"/>
<rect x="28.9" y="114.9" width="29.8" height="29.4" fill="#666666"/>
<rect x="58.1" y="114.9" width="29.8" height="29.4" fill="#666666"/>
<rect x="87.3" y="114.9" width="29.8" height="29.4" fill="#5e5e5e"/>
<rect x="116.5" y="114.9" width="24.3" height="29.4" fill="#545454"/>
<rect x="140.2" y="114.9" width="29.6" height="29.4" fill="#5e5e5e"/>
<rect x="169.2" y="114.9" width="29.6" height="29.4" fill="#636363"/>
<rect x="198.2" y="114.9" width="29.6" height="29.4" fill="#606060"/>
<rect x="227.2" y="114.9" width="36.1" height="29.4" fill="#636363"/>
<rect x="262.7" y="114.9" width="30.6" height="29.4" fill="#636363"/>
<rect x="-30.3" y="143.7" width="30.6" height="29.4" fill="#6a6a6a"/>
<rect x="-0.3" y="143.7" width="29.8" height="29.4" fill="#6a6a6a"/>
<rect x="28.9" y="143.7" width="29.8" height="29.4" fill="#6f6f6f"/>
<rect x="58.1" y="143.7" width="29.8" height="29.4" fill="#696969"/>
<rect x="87.3" y="143.7" width="29.8" height="29.4" fill="#636363"/>
<rect x="116.5" y="143.7" width="24.3" height="29.4" fill="#5e5e5e"/>
<rect x="140.2" y="143.7" width="29.6" height="29.4" fill="#5e5e5e"/>
<rect x="169.2" y="143.7" width="29.6" height="29.4" fill="#636363"/>
<rect x="198.2" y="143.7" width="29.6" height="29.4" fill="#636363"/>
<rect x="227.2" y="143.7" width="36.1" height="29.4" fill="#6a6a6a"/>
<rect x="262.7" y="143.7" width="30.6" height="29.4" fill="#6a6a6a"/>
<rect x="-30.3" y="172.5" width="30.6" height="29.4" fill="#757575"/>
<rect x="-0.3" y="172.5" width="29.8" height="29.4" fill="#757575"/>
<rect x="28.9" y="172.5" width="29.8" height="29.4" fill="#757575"/>
<rect x="58.1" y="172.5" width="29.8" height="29.4" fill="#707070"/>
<rect x="87.3" y="172.5" width="29.8" height="29.4" fill="#6f6f6f"/>
<rect x="116.5" y="172.5" width="24.3" height="29.4" fill="#6a6a6a"/>
<rect x="140.2" y="172.5" width="29.6" height="29.4" fill="#6a6a6a"/>
<rect x="169.2" y="172.5" width="29.6" height="29.4" fill="#6a6a6a"/>
<rect x="198.2" y="172.5" width="29.6" height="29.4" fill="#6a6a6a"/>
<rect x="227.2" y="172.5" width="36.1" height="29.4" fill="#757575"/>
<rect x="262.7" y="172.5" width="30.6" height="29.4" fill="#757575"/>
<rect x="-30.3" y="201.3" width="30.6" height="29.4" fill="#7c7c7c"/>
<rect x="-0.3" y="201.3" width="29.8" height="29.4" fill="#7c7c7c"/>
<rect x="28.9" y="201.3" width="29.8" height="29.4" fill="#7c7c7c"/>
<rect x="58.1" y="201.3" width="29.8" height="29.4" fill="#777777"/>
<rect x="87.3" y="201.3" width="29.8" height="29.4" fill="#7c7c7c"/>
<rect x="116.5" y="201.3" width="24.3" height="29.4" fill="#7c7c7c"/>
<rect x="140.2" y="201.3" width="29.6" height="29.4" fill="#777777"/>
<rect x="169.2" y="201.3" width="29.6" height="29.4" fill="#707070"/>
<rect x="198.2" y="201.3" width="29.6" height="29.4" fill="#707070"/>
<rect x="227.2" y="201.3" width="36.1" height="29.4" fill="#777777"/>
<rect x="262.7" y="201.3" width="30.6" height="29.4" fill="#777777"/>
<rect x="-30.3" y="230.1" width="30.6" height="29.4" fill="#828282"/>
<rect x="-0.3" y="230.1" width="29.8" height="29.4" fill="#828282"/>
<rect x="28.9" y="230.1" width="29.8" height="29.4" fill="#828282"/>
<rect x="58.1" y="230.1" width="29.8" height="29.4" fill="#7d7d7d"/>
<rect x="87.3" y="230.1" width="29.8" height="29.4" fill="#828282"/>
<rect x="116.5" y="230.1" width="24.3" height="29.4" fill="#828282"/>
<rect x="140.2" y="230.1" width="29.6" height="29.4" fill="#7d7d7d"/>
<rect x="169.2" y="230.1" width="29.6" height="29.4" fill="#6c6c6c"/>
<rect x="198.2" y="230.1" width="29.6" height="29.4" fill="#777777"/>
<rect x="227.2" y="230.1" width="36.1" height="29.4" fill="#7d7d7d"/>
<rect x="262.7" y="230.1" width="30.6" height="29.4" fill="#7d7d7d"/>
<rect x="-30.3" y="258.9" width="30.6" height="29.4" fill="#828282"/>
<rect x="-0.3" y="258.9" width="29.8" height="29.4" fill="#828282"/>
<rect x="28.9" y="258.9" width="29.8" height="29.4" fill="#838383"/>
<rect x="58.1" y="258.9" width="29.8" height="29.4" fill="#8a8a8a"/>
<rect x="87.3" y="258.9" width="29.8" height="29.4" fill="#8f8f8f"/>
<rect x="116.5" y="258.9" width="24.3" height="29.4" fill="#797979"/>
<rect x="140.2" y="258.9" width="29.6" height="29.4" fill="#797979"/>
<rect x="169.2" y="258.9" width="29.6" height="29.4" fill="#797979"/>
<rect x="198.2" y="258.9" width="29.6" height="29.4" fill="#777777"/>
<rect x="227.2" y="258.9" width="36.1" height="29.4" fill="#7d7d7d"/>
<rect x="262.7" y="258.9" width="30.6" height="29.4" fill="#7d7d7d"/>
<rect x="-30.3" y="287.7" width="30.6" height="29.4" fill="#828282"/>
<rect x="-0.3" y="287.7" width="29.8" height="29.4" fill="#828282"/>
<rect x="28.9" y="287.7" width="29.8" height="29.4" fill="#838383"/>
<rect x="58.1" y="287.7" width="29.8" height="29.4" fill="#8a8a8a"/>
<rect x="87.3" y="287.7" width="29.8" height="29.4" fill="#8f8f8f"/>
<rect x="116.5" y="287.7" width="24.3" height="29.4" fill="#797979"/>
<rect x="140.2" y="287.7" width="29.6" height="29.4" fill="#797979"/>
<rect x="169.2" y="287.7" width="29.6" height="29.4" fill="#797979"/>
<rect x="198.2" y="287.7" width="29.6" height="29.4" fill="#777777"/>
<rect x="227.2" y="287.7" width="36.1" height="29.4" fill="#7d7d7d"/>
<rect x="262.7" y="287.7" width="30.6" height="29.4" fill="#7d7d7d"/>
</g>
<polyline points="120.0,255.0 128.0,266.0 136.0,276.0 142.0,288.0" fill="none" stroke="#464646" stroke-width="2.2" stroke-linecap="round" stroke-linejoin="round" filter="url(#f1_0)"/>
<ellipse cx="57.0" cy="245.0" rx="6.8" ry="1.7" transform="rotate(0 57.0 245.0)" fill="#dfdfdf" filter="url(#f1_0)"/>
<ellipse cx="243.0" cy="178.0" rx="1.6" ry="4.5" transform="rotate(12 243.0 178.0)" fill="#202020" filter="url(#f0_8)"/>
<polyline points="232.0,16.0 236.0,19.0 238.0,23.0" fill="none" stroke="#262626" stroke-width="1.6" stroke-linecap="round" stroke-linejoin="round" filter="url(#f0_6)"/>
<ellipse cx="230.5" cy="23.5" rx="3.5" ry="1.8" transform="rotate(0 230.5 23.5)" fill="#8c8c8c" filter="url(#f1_0)"/>
<polygon points="90.0,68.0 120.0,70.0 130.0,78.0 126.0,90.0 100.0,88.0 93.0,80.0" fill="#545454" filter="url(#f3_0)"/>
<polygon points="94.8,50.1 105.9,45.7 119.3,50.1 131.5,59.0 140.4,67.9 141.5,73.5 131.5,72.4 119.3,67.9 108.1,65.7 99.2,67.9 95.9,64.6 89.2,59.0" fill="#2b2b2b" filter="url(#f1_5)"/>
<polygon points="138.0,55.0 149.3,51.2 147.1,60.1 141.0,64.0" fill="#444444" filter="url(#f1_5)"/>
<ellipse cx="113.6" cy="94.0" rx="6.0" ry="3.0" transform="rotate(15 113.6 94.0)" fill="#2f2f2f" filter="url(#f1_2)"/>
<ellipse cx="119.8" cy="105.2" rx="5.5" ry="2.6" transform="rotate(35 119.8 105.2)" fill="#404040" filter="url(#f1_2)"/>
<polygon points="131.5,100.2 140.4,101.3 149.3,109.1 148.2,115.7 140.4,113.5 133.7,108.0" fill="#424242" filter="url(#f1_5)"/>
<ellipse cx="130.4" cy="121.3" rx="6.0" ry="3.0" transform="rotate(30 130.4 121.3)" fill="#424242" filter="url(#f1_2)"/>
<polygon points="129.3,129.1 138.2,131.3 146.0,134.7 148.2,141.3 142.6,142.4 136.0,139.1 130.4,134.7" fill="#2f2f2f" filter="url(#f1_5)"/>
<ellipse cx="130.4" cy="143.0" rx="6.0" ry="3.5" transform="rotate(30 130.4 143.0)" fill="#424242" filter="url(#f1_2)"/>
<polyline points="153.0,144.5 156.0,156.0 159.5,172.0 163.5,191.0" fill="none" stroke="#505050" stroke-width="8.0" stroke-linecap="round" stroke-linejoin="round" filter="url(#f2_0)"/>
<polygon points="151.0,144.7 155.5,143.8 157.8,153.6 161.2,170.2 164.6,189.2 163.0,192.5 159.8,181.4 154.5,164.7 151.2,153.6" fill="#2d2d2d" filter="url(#f1_0)"/>
<polyline points="113.0,168.0 120.0,180.0 130.0,189.0 144.0,194.0 163.5,195.5" fill="none" stroke="#424242" stroke-width="2.6" stroke-linecap="round" stroke-linejoin="round" filter="url(#f0_9)"/>
<polyline points="69.2,153.6 94.8,155.8 105.9,170.2 120.4,185.8 131.5,191.0" fill="none" stroke="#545454" stroke-width="1.2" stroke-linecap="round" stroke-linejoin="round" filter="url(#f0_6)"/>
<polyline points="158.2,146.9 170.0,143.0 180.4,138.0" fill="none" stroke="#545454" stroke-width="1.2" stroke-linecap="round" stroke-linejoin="round" filter="url(#f0_6)"/>
<polygon points="195.7,232.2 203.9,231.8 212.2,234.1 216.7,237.7 218.6,241.4 214.0,242.3 208.5,241.4 203.9,237.7 199.4,235.0" fill="#222222" filter="url(#f1_0)"/>
<ellipse cx="193.9" cy="245.5" rx="2.3" ry="2.0" transform="rotate(0 193.9 245.5)" fill="#131313" filter="url(#f0_6)"/>
</g>
<path d="M5.1,0.0L8.9,285.6M35.6,0.2L38.2,285.8M66.1,0.3L67.5,286.0M96.7,0.4L96.8,286.2M127.2,0.6L126.1,286.4M157.8,0.7L155.4,286.6M188.3,0.9L184.7,286.7M218.9,1.0L214.0,286.9M249.4,1.1L243.3,287.1M0.0,1.9Q131.3,1.2 262.6,3.1M0.5,32.6Q131.2,31.6 261.8,33.8M0.9,63.3Q131.0,62.1 261.1,64.6M1.3,94.0Q130.9,92.6 260.4,95.3M1.7,124.7Q130.7,123.1 259.7,126.1M2.2,155.4Q130.6,153.5 259.0,156.8M2.6,186.1Q130.5,184.0 258.3,187.6M3.0,216.8Q130.3,214.5 257.6,218.3M3.5,247.5Q130.2,245.0 256.9,249.0M3.9,278.2Q130.0,275.5 256.2,279.8" fill="none" stroke="#222" stroke-width="0.9" stroke-dasharray="1.1 2.1" opacity="0.5"/>
</g>
<use href="#ol" fill="none" stroke="#000" stroke-width="2.8" stroke-linejoin="round"/>
<path d="M0,0Q131.7,-0.6 262.6,1.2L256,287.2Q130,283.6 4,285.6Z" fill="none" stroke="#222" stroke-width="1.3"/>
</g>
<g transform="translate(87.0,428.5)">
<g clip-path="url(#cq)"><g filter="url(#jet)">
<g filter="url(#bl)">
<rect x="-30.3" y="-29.1" width="30.6" height="29.4" fill="#575757"/>
<rect x="-0.3" y="-29.1" width="29.8" height="29.4" fill="#575757"/>
<rect x="28.9" y="-29.1" width="29.8" height="29.4" fill="#595959"/>
<rect x="58.1" y="-29.1" width="29.8" height="29.4" fill="#606060"/>
<rect x="87.3" y="-29.1" width="29.8" height="29.4" fill="#595959"/>
<rect x="116.5" y="-29.1" width="24.3" height="29.4" fill="#595959"/>
<rect x="140.2" y="-29.1" width="29.6" height="29.4" fill="#5c5c5c"/>
<rect x="169.2" y="-29.1" width="29.6" height="29.4" fill="#595959"/>
<rect x="198.2" y="-29.1" width="29.6" height="29.4" fill="#555555"/>
<rect x="227.2" y="-29.1" width="36.1" height="29.4" fill="#595959"/>
<rect x="262.7" y="-29.1" width="30.6" height="29.4" fill="#595959"/>
<rect x="-30.3" y="-0.3" width="30.6" height="29.4" fill="#575757"/>
<rect x="-0.3" y="-0.3" width="29.8" height="29.4" fill="#575757"/>
<rect x="28.9" y="-0.3" width="29.8" height="29.4" fill="#595959"/>
<rect x="58.1" y="-0.3" width="29.8" height="29.4" fill="#606060"/>
<rect x="87.3" y="-0.3" width="29.8" height="29.4" fill="#595959"/>
<rect x="116.5" y="-0.3" width="24.3" height="29.4" fill="#595959"/>
<rect x="140.2" y="-0.3" width="29.6" height="29.4" fill="#5c5c5c"/>
<rect x="169.2" y="-0.3" width="29.6" height="29.4" fill="#595959"/>
<rect x="198.2" y="-0.3" width="29.6" height="29.4" fill="#555555"/>
<rect x="227.2" y="-0.3" width="36.1" height="29.4" fill="#595959"/>
<rect x="262.7" y="-0.3" width="30.6" height="29.4" fill="#595959"/>
<rect x="-30.3" y="28.5" width="30.6" height="29.4" fill="#575757"/>
<rect x="-0.3" y="28.5" width="29.8" height="29.4" fill="#575757"/>
<rect x="28.9" y="28.5" width="29.8" height="29.4" fill="#595959"/>
<rect x="58.1" y="28.5" width="29.8" height="29.4" fill="#595959"/>
<rect x="87.3" y="28.5" width="29.8" height="29.4" fill="#4f4f4f"/>
<rect x="116.5" y="28.5" width="24.3" height="29.4" fill="#4c4c4c"/>
<rect x="140.2" y="28.5" width="29.6" height="29.4" fill="#575757"/>
<rect x="169.2" y="28.5" width="29.6" height="29.4" fill="#575757"/>
<rect x="198.2" y="28.5" width="29.6" height="29.4" fill="#535353"/>
<rect x="227.2" y="28.5" width="36.1" height="29.4" fill="#555555"/>
<rect x="262.7" y="28.5" width="30.6" height="29.4" fill="#555555"/>
<rect x="-30.3" y="57.3" width="30.6" height="29.4" fill="#595959"/>
<rect x="-0.3" y="57.3" width="29.8" height="29.4" fill="#595959"/>
<rect x="28.9" y="57.3" width="29.8" height="29.4" fill="#575757"/>
<rect x="58.1" y="57.3" width="29.8" height="29.4" fill="#555555"/>
<rect x="87.3" y="57.3" width="29.8" height="29.4" fill="#535353"/>
<rect x="116.5" y="57.3" width="24.3" height="29.4" fill="#4f4f4f"/>
<rect x="140.2" y="57.3" width="29.6" height="29.4" fill="#575757"/>
<rect x="169.2" y="57.3" width="29.6" height="29.4" fill="#555555"/>
<rect x="198.2" y="57.3" width="29.6" height="29.4" fill="#535353"/>
<rect x="227.2" y="57.3" width="36.1" height="29.4" fill="#555555"/>
<rect x="262.7" y="57.3" width="30.6" height="29.4" fill="#555555"/>
<rect x="-30.3" y="86.1" width="30.6" height="29.4" fill="#5c5c5c"/>
<rect x="-0.3" y="86.1" width="29.8" height="29.4" fill="#5c5c5c"/>
<rect x="28.9" y="86.1" width="29.8" height="29.4" fill="#5c5c5c"/>
<rect x="58.1" y="86.1" width="29.8" height="29.4" fill="#606060"/>
<rect x="87.3" y="86.1" width="29.8" height="29.4" fill="#636363"/>
<rect x="116.5" y="86.1" width="24.3" height="29.4" fill="#636363"/>
<rect x="140.2" y="86.1" width="29.6" height="29.4" fill="#636363"/>
<rect x="169.2" y="86.1" width="29.6" height="29.4" fill="#595959"/>
<rect x="198.2" y="86.1" width="29.6" height="29.4" fill="#535353"/>
<rect x="227.2" y="86.1" width="36.1" height="29.4" fill="#535353"/>
<rect x="262.7" y="86.1" width="30.6" height="29.4" fill="#535353"/>
<rect x="-30.3" y="114.9" width="30.6" height="29.4" fill="#626262"/>
<rect x="-0.3" y="114.9" width="29.8" height="29.4" fill="#626262"/>
<rect x="28.9" y="114.9" width="29.8" height="29.4" fill="#606060"/>
<rect x="58.1" y="114.9" width="29.8" height="29.4" fill="#636363"/>
<rect x="87.3" y="114.9" width="29.8" height="29.4" fill="#666666"/>
<rect x="116.5" y="114.9" width="24.3" height="29.4" fill="#6a6a6a"/>
<rect x="140.2" y="114.9" width="29.6" height="29.4" fill="#6c6c6c"/>
<rect x="169.2" y="114.9" width="29.6" height="29.4" fill="#5d5d5d"/>
<rect x="198.2" y="114.9" width="29.6" height="29.4" fill="#555555"/>
<rect x="227.2" y="114.9" width="36.1" height="29.4" fill="#555555"/>
<rect x="262.7" y="114.9" width="30.6" height="29.4" fill="#555555"/>
<rect x="-30.3" y="143.7" width="30.6" height="29.4" fill="#696969"/>
<rect x="-0.3" y="143.7" width="29.8" height="29.4" fill="#696969"/>
<rect x="28.9" y="143.7" width="29.8" height="29.4" fill="#696969"/>
<rect x="58.1" y="143.7" width="29.8" height="29.4" fill="#636363"/>
<rect x="87.3" y="143.7" width="29.8" height="29.4" fill="#606060"/>
<rect x="116.5" y="143.7" width="24.3" height="29.4" fill="#666666"/>
<rect x="140.2" y="143.7" width="29.6" height="29.4" fill="#737373"/>
<rect x="169.2" y="143.7" width="29.6" height="29.4" fill="#606060"/>
<rect x="198.2" y="143.7" width="29.6" height="29.4" fill="#575757"/>
<rect x="227.2" y="143.7" width="36.1" height="29.4" fill="#555555"/>
<rect x="262.7" y="143.7" width="30.6" height="29.4" fill="#555555"/>
<rect x="-30.3" y="172.5" width="30.6" height="29.4" fill="#6f6f6f"/>
<rect x="-0.3" y="172.5" width="29.8" height="29.4" fill="#6f6f6f"/>
<rect x="28.9" y="172.5" width="29.8" height="29.4" fill="#6f6f6f"/>
<rect x="58.1" y="172.5" width="29.8" height="29.4" fill="#666666"/>
<rect x="87.3" y="172.5" width="29.8" height="29.4" fill="#606060"/>
<rect x="116.5" y="172.5" width="24.3" height="29.4" fill="#666666"/>
<rect x="140.2" y="172.5" width="29.6" height="29.4" fill="#6f6f6f"/>
<rect x="169.2" y="172.5" width="29.6" height="29.4" fill="#666666"/>
<rect x="198.2" y="172.5" width="29.6" height="29.4" fill="#5c5c5c"/>
<rect x="227.2" y="172.5" width="36.1" height="29.4" fill="#666666"/>
<rect x="262.7" y="172.5" width="30.6" height="29.4" fill="#666666"/>
<rect x="-30.3" y="201.3" width="30.6" height="29.4" fill="#757575"/>
<rect x="-0.3" y="201.3" width="29.8" height="29.4" fill="#757575"/>
<rect x="28.9" y="201.3" width="29.8" height="29.4" fill="#757575"/>
<rect x="58.1" y="201.3" width="29.8" height="29.4" fill="#6f6f6f"/>
<rect x="87.3" y="201.3" width="29.8" height="29.4" fill="#666666"/>
<rect x="116.5" y="201.3" width="24.3" height="29.4" fill="#6a6a6a"/>
<rect x="140.2" y="201.3" width="29.6" height="29.4" fill="#6c6c6c"/>
<rect x="169.2" y="201.3" width="29.6" height="29.4" fill="#6a6a6a"/>
<rect x="198.2" y="201.3" width="29.6" height="29.4" fill="#6a6a6a"/>
<rect x="227.2" y="201.3" width="36.1" height="29.4" fill="#737373"/>
<rect x="262.7" y="201.3" width="30.6" height="29.4" fill="#737373"/>
<rect x="-30.3" y="230.1" width="30.6" height="29.4" fill="#7c7c7c"/>
<rect x="-0.3" y="230.1" width="29.8" height="29.4" fill="#7c7c7c"/>
<rect x="28.9" y="230.1" width="29.8" height="29.4" fill="#7f7f7f"/>
<rect x="58.1" y="230.1" width="29.8" height="29.4" fill="#777777"/>
<rect x="87.3" y="230.1" width="29.8" height="29.4" fill="#777777"/>
<rect x="116.5" y="230.1" width="24.3" height="29.4" fill="#797979"/>
<rect x="140.2" y="230.1" width="29.6" height="29.4" fill="#828282"/>
<rect x="169.2" y="230.1" width="29.6" height="29.4" fill="#868686"/>
<rect x="198.2" y="230.1" width="29.6" height="29.4" fill="#8c8c8c"/>
<rect x="227.2" y="230.1" width="36.1" height="29.4" fill="#868686"/>
<rect x="262.7" y="230.1" width="30.6" height="29.4" fill="#868686"/>
<rect x="-30.3" y="258.9" width="30.6" height="29.4" fill="#7c7c7c"/>
<rect x="-0.3" y="258.9" width="29.8" height="29.4" fill="#7c7c7c"/>
<rect x="28.9" y="258.9" width="29.8" height="29.4" fill="#828282"/>
<rect x="58.1" y="258.9" width="29.8" height="29.4" fill="#7c7c7c"/>
<rect x="87.3" y="258.9" width="29.8" height="29.4" fill="#7c7c7c"/>
<rect x="116.5" y="258.9" width="24.3" height="29.4" fill="#7d7d7d"/>
<rect x="140.2" y="258.9" width="29.6" height="29.4" fill="#8c8c8c"/>
<rect x="169.2" y="258.9" width="29.6" height="29.4" fill="#999999"/>
<rect x="198.2" y="258.9" width="29.6" height="29.4" fill="#939393"/>
<rect x="227.2" y="258.9" width="36.1" height="29.4" fill="#828282"/>
<rect x="262.7" y="258.9" width="30.6" height="29.4" fill="#828282"/>
<rect x="-30.3" y="287.7" width="30.6" height="29.4" fill="#7c7c7c"/>
<rect x="-0.3" y="287.7" width="29.8" height="29.4" fill="#7c7c7c"/>
<rect x="28.9" y="287.7" width="29.8" height="29.4" fill="#828282"/>
<rect x="58.1" y="287.7" width="29.8" height="29.4" fill="#7c7c7c"/>
<rect x="87.3" y="287.7" width="29.8" height="29.4" fill="#7c7c7c"/>
<rect x="116.5" y="287.7" width="24.3" height="29.4" fill="#7d7d7d"/>
<rect x="140.2" y="287.7" width="29.6" height="29.4" fill="#8c8c8c"/>
<rect x="169.2" y="287.7" width="29.6" height="29.4" fill="#999999"/>
<rect x="198.2" y="287.7" width="29.6" height="29.4" fill="#939393"/>
<rect x="227.2" y="287.7" width="36.1" height="29.4" fill="#828282"/>
<rect x="262.7" y="287.7" width="30.6" height="29.4" fill="#828282"/>
</g>
<polyline points="120.0,255.0 128.0,266.0 136.0,276.0 142.0,288.0" fill="none" stroke="#4c4c4c" stroke-width="2.2" stroke-linecap="round" stroke-linejoin="round" filter="url(#f1_0)"/>
<ellipse cx="57.0" cy="245.0" rx="6.8" ry="1.7" transform="rotate(0 57.0 245.0)" fill="#dfdfdf" filter="url(#f1_0)"/>
<ellipse cx="243.0" cy="178.0" rx="1.6" ry="4.5" transform="rotate(12 243.0 178.0)" fill="#202020" filter="url(#f0_8)"/>
<polyline points="232.0,16.0 236.0,19.0 238.0,23.0" fill="none" stroke="#262626" stroke-width="1.6" stroke-linecap="round" stroke-linejoin="round" filter="url(#f0_6)"/>
<ellipse cx="230.5" cy="23.5" rx="3.5" ry="1.8" transform="rotate(0 230.5 23.5)" fill="#8c8c8c" filter="url(#f1_0)"/>
<ellipse cx="241.5" cy="178.0" rx="2.6" ry="5.5" transform="rotate(12 241.5 178.0)" fill="#202020" filter="url(#f1_0)"/>
<ellipse cx="193.9" cy="245.5" rx="2.3" ry="2.0" transform="rotate(0 193.9 245.5)" fill="#1a1a1a" filter="url(#f0_6)"/>
<ellipse cx="203.0" cy="236.0" rx="5.0" ry="2.0" transform="rotate(25 203.0 236.0)" fill="#393939" filter="url(#f1_2)"/>
<polygon points="92.0,47.0 110.0,44.0 124.0,43.0 140.0,48.0 148.0,58.0 150.0,66.0 140.0,71.0 124.0,69.0 108.0,67.0 95.0,63.0" fill="#464646" filter="url(#f3_0)"/>
<polyline points="156.0,154.0 159.0,170.0 163.0,190.0" fill="none" stroke="#909090" stroke-width="5.0" stroke-linecap="round" stroke-linejoin="round" filter="url(#f2_6)"/>
<ellipse cx="211.0" cy="236.0" rx="7.0" ry="3.0" transform="rotate(20 211.0 236.0)" fill="#b3b3b3" filter="url(#f2_2)"/>
<ellipse cx="221.0" cy="257.0" rx="8.0" ry="3.5" transform="rotate(10 221.0 257.0)" fill="#b9b9b9" filter="url(#f2_2)"/>
<ellipse cx="188.0" cy="274.0" rx="4.0" ry="7.5" transform="rotate(15 188.0 274.0)" fill="#bfbfbf" filter="url(#f2_2)"/>
<ellipse cx="164.0" cy="260.0" rx="6.0" ry="4.0" transform="rotate(0 164.0 260.0)" fill="#a6a6a6" filter="url(#f2_2)"/>
<ellipse cx="236.0" cy="264.0" rx="8.0" ry="6.0" transform="rotate(0 236.0 264.0)" fill="#a6a6a6" filter="url(#f2_2)"/>
<ellipse cx="108.0" cy="268.0" rx="12.0" ry="8.0" transform="rotate(20 108.0 268.0)" fill="#939393" filter="url(#f2_2)"/>
</g>
<path d="M5.1,0.0L8.9,285.6M35.6,0.2L38.2,285.8M66.1,0.3L67.5,286.0M96.7,0.4L96.8,286.2M127.2,0.6L126.1,286.4M157.8,0.7L155.4,286.6M188.3,0.9L184.7,286.7M218.9,1.0L214.0,286.9M249.4,1.1L243.3,287.1M0.0,1.9Q131.3,1.2 262.6,3.1M0.5,32.6Q131.2,31.6 261.8,33.8M0.9,63.3Q131.0,62.1 261.1,64.6M1.3,94.0Q130.9,92.6 260.4,95.3M1.7,124.7Q130.7,123.1 259.7,126.1M2.2,155.4Q130.6,153.5 259.0,156.8M2.6,186.1Q130.5,184.0 258.3,187.6M3.0,216.8Q130.3,214.5 257.6,218.3M3.5,247.5Q130.2,245.0 256.9,249.0M3.9,278.2Q130.0,275.5 256.2,279.8" fill="none" stroke="#222" stroke-width="0.9" stroke-dasharray="1.1 2.1" opacity="0.5"/>
</g>
<use href="#ol" fill="none" stroke="#000" stroke-width="2.8" stroke-linejoin="round"/>
<path d="M0,0Q131.7,-0.6 262.6,1.2L256,287.2Q130,283.6 4,285.6Z" fill="none" stroke="#222" stroke-width="1.3"/>
</g>
<g transform="translate(410.8,428.5)">
<g clip-path="url(#cq)"><g filter="url(#jetm)">
<g filter="url(#bl)">
<rect x="-30.3" y="-29.1" width="30.6" height="29.4" fill="#494949"/>
<rect x="-0.3" y="-29.1" width="29.8" height="29.4" fill="#494949"/>
<rect x="28.9" y="-29.1" width="29.8" height="29.4" fill="#4a4a4a"/>
<rect x="58.1" y="-29.1" width="29.8" height="29.4" fill="#4c4c4c"/>
<rect x="87.3" y="-29.1" width="29.8" height="29.4" fill="#4a4a4a"/>
<rect x="116.5" y="-29.1" width="24.3" height="29.4" fill="#494949"/>
<rect x="140.2" y="-29.1" width="29.6" height="29.4" fill="#424242"/>
<rect x="169.2" y="-29.1" width="29.6" height="29.4" fill="#404040"/>
<rect x="198.2" y="-29.1" width="29.6" height="29.4" fill="#404040"/>
<rect x="227.2" y="-29.1" width="36.1" height="29.4" fill="#444444"/>
<rect x="262.7" y="-29.1" width="30.6" height="29.4" fill="#444444"/>
<rect x="-30.3" y="-0.3" width="30.6" height="29.4" fill="#494949"/>
<rect x="-0.3" y="-0.3" width="29.8" height="29.4" fill="#494949"/>
<rect x="28.9" y="-0.3" width="29.8" height="29.4" fill="#4a4a4a"/>
<rect x="58.1" y="-0.3" width="29.8" height="29.4" fill="#4c4c4c"/>
<rect x="87.3" y="-0.3" width="29.8" height="29.4" fill="#4a4a4a"/>
<rect x="116.5" y="-0.3" width="24.3" height="29.4" fill="#494949"/>
<rect x="140.2" y="-0.3" width="29.6" height="29.4" fill="#424242"/>
<rect x="169.2" y="-0.3" width="29.6" height="29.4" fill="#404040"/>
<rect x="198.2" y="-0.3" width="29.6" height="29.4" fill="#404040"/>
<rect x="227.2" y="-0.3" width="36.1" height="29.4" fill="#444444"/>
<rect x="262.7" y="-0.3" width="30.6" height="29.4" fill="#444444"/>
<rect x="-30.3" y="28.5" width="30.6" height="29.4" fill="#464646"/>
<rect x="-0.3" y="28.5" width="29.8" height="29.4" fill="#464646"/>
<rect x="28.9" y="28.5" width="29.8" height="29.4" fill="#494949"/>
<rect x="58.1" y="28.5" width="29.8" height="29.4" fill="#4a4a4a"/>
<rect x="87.3" y="28.5" width="29.8" height="29.4" fill="#404040"/>
<rect x="116.5" y="28.5" width="24.3" height="29.4" fill="#3d3d3d"/>
<rect x="140.2" y="28.5" width="29.6" height="29.4" fill="#424242"/>
<rect x="169.2" y="28.5" width="29.6" height="29.4" fill="#404040"/>
<rect x="198.2" y="28.5" width="29.6" height="29.4" fill="#3d3d3d"/>
<rect x="227.2" y="28.5" width="36.1" height="29.4" fill="#404040"/>
<rect x="262.7" y="28.5" width="30.6" height="29.4" fill="#404040"/>
<rect x="-30.3" y="57.3" width="30.6" height="29.4" fill="#4a4a4a"/>
<rect x="-0.3" y="57.3" width="29.8" height="29.4" fill="#4a4a4a"/>
<rect x="28.9" y="57.3" width="29.8" height="29.4" fill="#4a4a4a"/>
<rect x="58.1" y="57.3" width="29.8" height="29.4" fill="#454545"/>
<rect x="87.3" y="57.3" width="29.8" height="29.4" fill="#404040"/>
<rect x="116.5" y="57.3" width="24.3" height="29.4" fill="#404040"/>
<rect x="140.2" y="57.3" width="29.6" height="29.4" fill="#424242"/>
<rect x="169.2" y="57.3" width="29.6" height="29.4" fill="#404040"/>
<rect x="198.2" y="57.3" width="29.6" height="29.4" fill="#3c3c3c"/>
<rect x="227.2" y="57.3" width="36.1" height="29.4" fill="#3c3c3c"/>
<rect x="262.7" y="57.3" width="30.6" height="29.4" fill="#3c3c3c"/>
<rect x="-30.3" y="86.1" width="30.6" height="29.4" fill="#505050"/>
<rect x="-0.3" y="86.1" width="29.8" height="29.4" fill="#505050"/>
<rect x="28.9" y="86.1" width="29.8" height="29.4" fill="#4c4c4c"/>
<rect x="58.1" y="86.1" width="29.8" height="29.4" fill="#474747"/>
<rect x="87.3" y="86.1" width="29.8" height="29.4" fill="#4a4a4a"/>
<rect x="116.5" y="86.1" width="24.3" height="29.4" fill="#4a4a4a"/>
<rect x="140.2" y="86.1" width="29.6" height="29.4" fill="#494949"/>
<rect x="169.2" y="86.1" width="29.6" height="29.4" fill="#404040"/>
<rect x="198.2" y="86.1" width="29.6" height="29.4" fill="#3c3c3c"/>
<rect x="227.2" y="86.1" width="36.1" height="29.4" fill="#3c3c3c"/>
<rect x="262.7" y="86.1" width="30.6" height="29.4" fill="#3c3c3c"/>
<rect x="-30.3" y="114.9" width="30.6" height="29.4" fill="#595959"/>
<rect x="-0.3" y="114.9" width="29.8" height="29.4" fill="#595959"/>
<rect x="28.9" y="114.9" width="29.8" height="29.4" fill="#555555"/>
<rect x="58.1" y="114.9" width="29.8" height="29.4" fill="#4f4f4f"/>
<rect x="87.3" y="114.9" width="29.8" height="29.4" fill="#4f4f4f"/>
<rect x="116.5" y="114.9" width="24.3" height="29.4" fill="#4f4f4f"/>
<rect x="140.2" y="114.9" width="29.6" height="29.4" fill="#4c4c4c"/>
<rect x="169.2" y="114.9" width="29.6" height="29.4" fill="#424242"/>
<rect x="198.2" y="114.9" width="29.6" height="29.4" fill="#3c3c3c"/>
<rect x="227.2" y="114.9" width="36.1" height="29.4" fill="#3d3d3d"/>
<rect x="262.7" y="114.9" width="30.6" height="29.4" fill="#3d3d3d"/>
<rect x="-30.3" y="143.7" width="30.6" height="29.4" fill="#626262"/>
<rect x="-0.3" y="143.7" width="29.8" height="29.4" fill="#626262"/>
<rect x="28.9" y="143.7" width="29.8" height="29.4" fill="#606060"/>
<rect x="58.1" y="143.7" width="29.8" height="29.4" fill="#595959"/>
<rect x="87.3" y="143.7" width="29.8" height="29.4" fill="#575757"/>
<rect x="116.5" y="143.7" width="24.3" height="29.4" fill="#595959"/>
<rect x="140.2" y="143.7" width="29.6" height="29.4" fill="#595959"/>
<rect x="169.2" y="143.7" width="29.6" height="29.4" fill="#4f4f4f"/>
<rect x="198.2" y="143.7" width="29.6" height="29.4" fill="#424242"/>
<rect x="227.2" y="143.7" width="36.1" height="29.4" fill="#3d3d3d"/>
<rect x="262.7" y="143.7" width="30.6" height="29.4" fill="#3d3d3d"/>
<rect x="-30.3" y="172.5" width="30.6" height="29.4" fill="#6f6f6f"/>
<rect x="-0.3" y="172.5" width="29.8" height="29.4" fill="#6f6f6f"/>
<rect x="28.9" y="172.5" width="29.8" height="29.4" fill="#6a6a6a"/>
<rect x="58.1" y="172.5" width="29.8" height="29.4" fill="#606060"/>
<rect x="87.3" y="172.5" width="29.8" height="29.4" fill="#5d5d5d"/>
<rect x="116.5" y="172.5" width="24.3" height="29.4" fill="#5d5d5d"/>
<rect x="140.2" y="172.5" width="29.6" height="29.4" fill="#606060"/>
<rect x="169.2" y="172.5" width="29.6" height="29.4" fill="#595959"/>
<rect x="198.2" y="172.5" width="29.6" height="29.4" fill="#4c4c4c"/>
<rect x="227.2" y="172.5" width="36.1" height="29.4" fill="#464646"/>
<rect x="262.7" y="172.5" width="30.6" height="29.4" fill="#464646"/>
<rect x="-30.3" y="201.3" width="30.6" height="29.4" fill="#797979"/>
<rect x="-0.3" y="201.3" width="29.8" height="29.4" fill="#797979"/>
<rect x="28.9" y="201.3" width="29.8" height="29.4" fill="#737373"/>
<rect x="58.1" y="201.3" width="29.8" height="29.4" fill="#6a6a6a"/>
<rect x="87.3" y="201.3" width="29.8" height="29.4" fill="#626262"/>
<rect x="116.5" y="201.3" width="24.3" height="29.4" fill="#606060"/>
<rect x="140.2" y="201.3" width="29.6" height="29.4" fill="#636363"/>
<rect x="169.2" y="201.3" width="29.6" height="29.4" fill="#606060"/>
<rect x="198.2" y="201.3" width="29.6" height="29.4" fill="#595959"/>
<rect x="227.2" y="201.3" width="36.1" height="29.4" fill="#575757"/>
<rect x="262.7" y="201.3" width="30.6" height="29.4" fill="#575757"/>
<rect x="-30.3" y="230.1" width="30.6" height="29.4" fill="#7d7d7d"/>
<rect x="-0.3" y="230.1" width="29.8" height="29.4" fill="#7d7d7d"/>
<rect x="28.9" y="230.1" width="29.8" height="29.4" fill="#7c7c7c"/>
<rect x="58.1" y="230.1" width="29.8" height="29.4" fill="#737373"/>
<rect x="87.3" y="230.1" width="29.8" height="29.4" fill="#6c6c6c"/>
<rect x="116.5" y="230.1" width="24.3" height="29.4" fill="#6a6a6a"/>
<rect x="140.2" y="230.1" width="29.6" height="29.4" fill="#6f6f6f"/>
<rect x="169.2" y="230.1" width="29.6" height="29.4" fill="#737373"/>
<rect x="198.2" y="230.1" width="29.6" height="29.4" fill="#707070"/>
<rect x="227.2" y="230.1" width="36.1" height="29.4" fill="#6c6c6c"/>
<rect x="262.7" y="230.1" width="30.6" height="29.4" fill="#6c6c6c"/>
<rect x="-30.3" y="258.9" width="30.6" height="29.4" fill="#7f7f7f"/>
<rect x="-0.3" y="258.9" width="29.8" height="29.4" fill="#7f7f7f"/>
<rect x="28.9" y="258.9" width="29.8" height="29.4" fill="#7f7f7f"/>
<rect x="58.1" y="258.9" width="29.8" height="29.4" fill="#797979"/>
<rect x="87.3" y="258.9" width="29.8" height="29.4" fill="#777777"/>
<rect x="116.5" y="258.9" width="24.3" height="29.4" fill="#6a6a6a"/>
<rect x="140.2" y="258.9" width="29.6" height="29.4" fill="#7f7f7f"/>
<rect x="169.2" y="258.9" width="29.6" height="29.4" fill="#828282"/>
<rect x="198.2" y="258.9" width="29.6" height="29.4" fill="#7d7d7d"/>
<rect x="227.2" y="258.9" width="36.1" height="29.4" fill="#777777"/>
<rect x="262.7" y="258.9" width="30.6" height="29.4" fill="#777777"/>
<rect x="-30.3" y="287.7" width="30.6" height="29.4" fill="#7f7f7f"/>
<rect x="-0.3" y="287.7" width="29.8" height="29.4" fill="#7f7f7f"/>
<rect x="28.9" y="287.7" width="29.8" height="29.4" fill="#7f7f7f"/>
<rect x="58.1" y="287.7" width="29.8" height="29.4" fill="#797979"/>
<rect x="87.3" y="287.7" width="29.8" height="29.4" fill="#777777"/>
<rect x="116.5" y="287.7" width="24.3" height="29.4" fill="#6a6a6a"/>
<rect x="140.2" y="287.7" width="29.6" height="29.4" fill="#7f7f7f"/>
<rect x="169.2" y="287.7" width="29.6" height="29.4" fill="#828282"/>
<rect x="198.2" y="287.7" width="29.6" height="29.4" fill="#7d7d7d"/>
<rect x="227.2" y="287.7" width="36.1" height="29.4" fill="#777777"/>
<rect x="262.7" y="287.7" width="30.6" height="29.4" fill="#777777"/>
</g>
<polyline points="120.0,255.0 128.0,266.0 136.0,276.0 142.0,288.0" fill="none" stroke="#404040" stroke-width="2.2" stroke-linecap="round" stroke-linejoin="round" filter="url(#f1_0)"/>
<ellipse cx="57.0" cy="245.0" rx="6.8" ry="1.7" transform="rotate(0 57.0 245.0)" fill="#bfbfbf" filter="url(#f1_0)"/>
<ellipse cx="243.0" cy="178.0" rx="1.6" ry="4.5" transform="rotate(12 243.0 178.0)" fill="#202020" filter="url(#f0_8)"/>
<polyline points="232.0,16.0 236.0,19.0 238.0,23.0" fill="none" stroke="#262626" stroke-width="1.6" stroke-linecap="round" stroke-linejoin="round" filter="url(#f0_6)"/>
<ellipse cx="230.5" cy="23.5" rx="3.5" ry="1.8" transform="rotate(0 230.5 23.5)" fill="#8c8c8c" filter="url(#f1_0)"/>
<ellipse cx="241.5" cy="178.0" rx="2.6" ry="5.5" transform="rotate(12 241.5 178.0)" fill="#202020" filter="url(#f1_0)"/>
<ellipse cx="193.9" cy="245.5" rx="2.3" ry="2.0" transform="rotate(0 193.9 245.5)" fill="#1a1a1a" filter="url(#f0_6)"/>
<ellipse cx="203.0" cy="236.0" rx="5.0" ry="2.0" transform="rotate(25 203.0 236.0)" fill="#393939" filter="url(#f1_2)"/>
<polygon points="92.0,47.0 110.0,44.0 124.0,43.0 140.0,48.0 148.0,58.0 150.0,66.0 140.0,71.0 124.0,69.0 108.0,67.0 95.0,63.0" fill="#303030" filter="url(#f1_2)"/>
<polyline points="106.0,171.0 117.0,184.0 128.0,201.0 145.0,218.0 166.0,240.0" fill="none" stroke="#393939" stroke-width="1.6" stroke-linecap="round" stroke-linejoin="round" filter="url(#f0_6)"/>
<polyline points="156.0,154.0 159.0,170.0 163.0,190.0" fill="none" stroke="#6c6c6c" stroke-width="4.0" stroke-linecap="round" stroke-linejoin="round" filter="url(#f2_0)"/>
<ellipse cx="164.0" cy="260.0" rx="6.0" ry="4.0" transform="rotate(0 164.0 260.0)" fill="#939393" filter="url(#f2_2)"/>
<ellipse cx="188.0" cy="274.0" rx="4.0" ry="7.5" transform="rotate(15 188.0 274.0)" fill="#8c8c8c" filter="url(#f2_2)"/>
<ellipse cx="108.0" cy="268.0" rx="12.0" ry="8.0" transform="rotate(20 108.0 268.0)" fill="#7f7f7f" filter="url(#f2_2)"/>
</g>
<path d="M5.1,0.0L8.9,285.6M35.6,0.2L38.2,285.8M66.1,0.3L67.5,286.0M96.7,0.4L96.8,286.2M127.2,0.6L126.1,286.4M157.8,0.7L155.4,286.6M188.3,0.9L184.7,286.7M218.9,1.0L214.0,286.9M249.4,1.1L243.3,287.1M0.0,1.9Q131.3,1.2 262.6,3.1M0.5,32.6Q131.2,31.6 261.8,33.8M0.9,63.3Q131.0,62.1 261.1,64.6M1.3,94.0Q130.9,92.6 260.4,95.3M1.7,124.7Q130.7,123.1 259.7,126.1M2.2,155.4Q130.6,153.5 259.0,156.8M2.6,186.1Q130.5,184.0 258.3,187.6M3.0,216.8Q130.3,214.5 257.6,218.3M3.5,247.5Q130.2,245.0 256.9,249.0M3.9,278.2Q130.0,275.5 256.2,279.8" fill="none" stroke="#222" stroke-width="0.9" stroke-dasharray="1.1 2.1" opacity="0.5"/>
</g>
<use href="#ol" fill="none" stroke="#000" stroke-width="2.8" stroke-linejoin="round"/>
<path d="M0,0Q131.7,-0.6 262.6,1.2L256,287.2Q130,283.6 4,285.6Z" fill="none" stroke="#222" stroke-width="1.3"/>
</g>
<g transform="translate(734.4,428.5)">
<g clip-path="url(#cq)"><g filter="url(#jet)">
<g filter="url(#bl)">
<rect x="-30.3" y="-29.1" width="30.6" height="29.4" fill="#575757"/>
<rect x="-0.3" y="-29.1" width="29.8" height="29.4" fill="#575757"/>
<rect x="28.9" y="-29.1" width="29.8" height="29.4" fill="#5c5c5c"/>
<rect x="58.1" y="-29.1" width="29.8" height="29.4" fill="#626262"/>
<rect x="87.3" y="-29.1" width="29.8" height="29.4" fill="#606060"/>
<rect x="116.5" y="-29.1" width="24.3" height="29.4" fill="#626262"/>
<rect x="140.2" y="-29.1" width="29.6" height="29.4" fill="#505050"/>
<rect x="169.2" y="-29.1" width="29.6" height="29.4" fill="#4c4c4c"/>
<rect x="198.2" y="-29.1" width="29.6" height="29.4" fill="#4c4c4c"/>
<rect x="227.2" y="-29.1" width="36.1" height="29.4" fill="#525252"/>
<rect x="262.7" y="-29.1" width="30.6" height="29.4" fill="#525252"/>
<rect x="-30.3" y="-0.3" width="30.6" height="29.4" fill="#575757"/>
<rect x="-0.3" y="-0.3" width="29.8" height="29.4" fill="#575757"/>
<rect x="28.9" y="-0.3" width="29.8" height="29.4" fill="#5c5c5c"/>
<rect x="58.1" y="-0.3" width="29.8" height="29.4" fill="#626262"/>
<rect x="87.3" y="-0.3" width="29.8" height="29.4" fill="#606060"/>
<rect x="116.5" y="-0.3" width="24.3" height="29.4" fill="#626262"/>
<rect x="140.2" y="-0.3" width="29.6" height="29.4" fill="#505050"/>
<rect x="169.2" y="-0.3" width="29.6" height="29.4" fill="#4c4c4c"/>
<rect x="198.2" y="-0.3" width="29.6" height="29.4" fill="#4c4c4c"/>
<rect x="227.2" y="-0.3" width="36.1" height="29.4" fill="#525252"/>
<rect x="262.7" y="-0.3" width="30.6" height="29.4" fill="#525252"/>
<rect x="-30.3" y="28.5" width="30.6" height="29.4" fill="#575757"/>
<rect x="-0.3" y="28.5" width="29.8" height="29.4" fill="#575757"/>
<rect x="28.9" y="28.5" width="29.8" height="29.4" fill="#5c5c5c"/>
<rect x="58.1" y="28.5" width="29.8" height="29.4" fill="#606060"/>
<rect x="87.3" y="28.5" width="29.8" height="29.4" fill="#575757"/>
<rect x="116.5" y="28.5" width="24.3" height="29.4" fill="#575757"/>
<rect x="140.2" y="28.5" width="29.6" height="29.4" fill="#4a4a4a"/>
<rect x="169.2" y="28.5" width="29.6" height="29.4" fill="#494949"/>
<rect x="198.2" y="28.5" width="29.6" height="29.4" fill="#494949"/>
<rect x="227.2" y="28.5" width="36.1" height="29.4" fill="#4c4c4c"/>
<rect x="262.7" y="28.5" width="30.6" height="29.4" fill="#4c4c4c"/>
<rect x="-30.3" y="57.3" width="30.6" height="29.4" fill="#5c5c5c"/>
<rect x="-0.3" y="57.3" width="29.8" height="29.4" fill="#5c5c5c"/>
<rect x="28.9" y="57.3" width="29.8" height="29.4" fill="#5c5c5c"/>
<rect x="58.1" y="57.3" width="29.8" height="29.4" fill="#5d5d5d"/>
<rect x="87.3" y="57.3" width="29.8" height="29.4" fill="#636363"/>
<rect x="116.5" y="57.3" width="24.3" height="29.4" fill="#606060"/>
<rect x="140.2" y="57.3" width="29.6" height="29.4" fill="#4a4a4a"/>
<rect x="169.2" y="57.3" width="29.6" height="29.4" fill="#464646"/>
<rect x="198.2" y="57.3" width="29.6" height="29.4" fill="#454545"/>
<rect x="227.2" y="57.3" width="36.1" height="29.4" fill="#4a4a4a"/>
<rect x="262.7" y="57.3" width="30.6" height="29.4" fill="#4a4a4a"/>
<rect x="-30.3" y="86.1" width="30.6" height="29.4" fill="#5d5d5d"/>
<rect x="-0.3" y="86.1" width="29.8" height="29.4" fill="#5d5d5d"/>
<rect x="28.9" y="86.1" width="29.8" height="29.4" fill="#5d5d5d"/>
<rect x="58.1" y="86.1" width="29.8" height="29.4" fill="#606060"/>
<rect x="87.3" y="86.1" width="29.8" height="29.4" fill="#6a6a6a"/>
<rect x="116.5" y="86.1" width="24.3" height="29.4" fill="#6f6f6f"/>
<rect x="140.2" y="86.1" width="29.6" height="29.4" fill="#505050"/>
<rect x="169.2" y="86.1" width="29.6" height="29.4" fill="#494949"/>
<rect x="198.2" y="86.1" width="29.6" height="29.4" fill="#454545"/>
<rect x="227.2" y="86.1" width="36.1" height="29.4" fill="#4a4a4a"/>
<rect x="262.7" y="86.1" width="30.6" height="29.4" fill="#4a4a4a"/>
<rect x="-30.3" y="114.9" width="30.6" height="29.4" fill="#626262"/>
<rect x="-0.3" y="114.9" width="29.8" height="29.4" fill="#626262"/>
<rect x="28.9" y="114.9" width="29.8" height="29.4" fill="#626262"/>
<rect x="58.1" y="114.9" width="29.8" height="29.4" fill="#666666"/>
<rect x="87.3" y="114.9" width="29.8" height="29.4" fill="#6c6c6c"/>
<rect x="116.5" y="114.9" width="24.3" height="29.4" fill="#737373"/>
<rect x="140.2" y="114.9" width="29.6" height="29.4" fill="#595959"/>
<rect x="169.2" y="114.9" width="29.6" height="29.4" fill="#4a4a4a"/>
<rect x="198.2" y="114.9" width="29.6" height="29.4" fill="#494949"/>
<rect x="227.2" y="114.9" width="36.1" height="29.4" fill="#4c4c4c"/>
<rect x="262.7" y="114.9" width="30.6" height="29.4" fill="#4c4c4c"/>
<rect x="-30.3" y="143.7" width="30.6" height="29.4" fill="#696969"/>
<rect x="-0.3" y="143.7" width="29.8" height="29.4" fill="#696969"/>
<rect x="28.9" y="143.7" width="29.8" height="29.4" fill="#696969"/>
<rect x="58.1" y="143.7" width="29.8" height="29.4" fill="#666666"/>
<rect x="87.3" y="143.7" width="29.8" height="29.4" fill="#696969"/>
<rect x="116.5" y="143.7" width="24.3" height="29.4" fill="#6a6a6a"/>
<rect x="140.2" y="143.7" width="29.6" height="29.4" fill="#6c6c6c"/>
<rect x="169.2" y="143.7" width="29.6" height="29.4" fill="#595959"/>
<rect x="198.2" y="143.7" width="29.6" height="29.4" fill="#505050"/>
<rect x="227.2" y="143.7" width="36.1" height="29.4" fill="#4c4c4c"/>
<rect x="262.7" y="143.7" width="30.6" height="29.4" fill="#4c4c4c"/>
<rect x="-30.3" y="172.5" width="30.6" height="29.4" fill="#707070"/>
<rect x="-0.3" y="172.5" width="29.8" height="29.4" fill="#707070"/>
<rect x="28.9" y="172.5" width="29.8" height="29.4" fill="#6f6f6f"/>
<rect x="58.1" y="172.5" width="29.8" height="29.4" fill="#696969"/>
<rect x="87.3" y="172.5" width="29.8" height="29.4" fill="#666666"/>
<rect x="116.5" y="172.5" width="24.3" height="29.4" fill="#696969"/>
<rect x="140.2" y="172.5" width="29.6" height="29.4" fill="#6c6c6c"/>
<rect x="169.2" y="172.5" width="29.6" height="29.4" fill="#626262"/>
<rect x="198.2" y="172.5" width="29.6" height="29.4" fill="#595959"/>
<rect x="227.2" y="172.5" width="36.1" height="29.4" fill="#5d5d5d"/>
<rect x="262.7" y="172.5" width="30.6" height="29.4" fill="#5d5d5d"/>
<rect x="-30.3" y="201.3" width="30.6" height="29.4" fill="#777777"/>
<rect x="-0.3" y="201.3" width="29.8" height="29.4" fill="#777777"/>
<rect x="28.9" y="201.3" width="29.8" height="29.4" fill="#777777"/>
<rect x="58.1" y="201.3" width="29.8" height="29.4" fill="#737373"/>
<rect x="87.3" y="201.3" width="29.8" height="29.4" fill="#6c6c6c"/>
<rect x="116.5" y="201.3" width="24.3" height="29.4" fill="#6c6c6c"/>
<rect x="140.2" y="201.3" width="29.6" height="29.4" fill="#6c6c6c"/>
<rect x="169.2" y="201.3" width="29.6" height="29.4" fill="#666666"/>
<rect x="198.2" y="201.3" width="29.6" height="29.4" fill="#636363"/>
<rect x="227.2" y="201.3" width="36.1" height="29.4" fill="#6c6c6c"/>
<rect x="262.7" y="201.3" width="30.6" height="29.4" fill="#6c6c6c"/>
<rect x="-30.3" y="230.1" width="30.6" height="29.4" fill="#7d7d7d"/>
<rect x="-0.3" y="230.1" width="29.8" height="29.4" fill="#7d7d7d"/>
<rect x="28.9" y="230.1" width="29.8" height="29.4" fill="#7d7d7d"/>
<rect x="58.1" y="230.1" width="29.8" height="29.4" fill="#797979"/>
<rect x="87.3" y="230.1" width="29.8" height="29.4" fill="#737373"/>
<rect x="116.5" y="230.1" width="24.3" height="29.4" fill="#777777"/>
<rect x="140.2" y="230.1" width="29.6" height="29.4" fill="#7d7d7d"/>
<rect x="169.2" y="230.1" width="29.6" height="29.4" fill="#7d7d7d"/>
<rect x="198.2" y="230.1" width="29.6" height="29.4" fill="#7f7f7f"/>
<rect x="227.2" y="230.1" width="36.1" height="29.4" fill="#797979"/>
<rect x="262.7" y="230.1" width="30.6" height="29.4" fill="#797979"/>
<rect x="-30.3" y="258.9" width="30.6" height="29.4" fill="#7f7f7f"/>
<rect x="-0.3" y="258.9" width="29.8" height="29.4" fill="#7f7f7f"/>
<rect x="28.9" y="258.9" width="29.8" height="29.4" fill="#838383"/>
<rect x="58.1" y="258.9" width="29.8" height="29.4" fill="#7f7f7f"/>
<rect x="87.3" y="258.9" width="29.8" height="29.4" fill="#7d7d7d"/>
<rect x="116.5" y="258.9" width="24.3" height="29.4" fill="#797979"/>
<rect x="140.2" y="258.9" width="29.6" height="29.4" fill="#888888"/>
<rect x="169.2" y="258.9" width="29.6" height="29.4" fill="#939393"/>
<rect x="198.2" y="258.9" width="29.6" height="29.4" fill="#888888"/>
<rect x="227.2" y="258.9" width="36.1" height="29.4" fill="#797979"/>
<rect x="262.7" y="258.9" width="30.6" height="29.4" fill="#797979"/>
<rect x="-30.3" y="287.7" width="30.6" height="29.4" fill="#7f7f7f"/>
<rect x="-0.3" y="287.7" width="29.8" height="29.4" fill="#7f7f7f"/>
<rect x="28.9" y="287.7" width="29.8" height="29.4" fill="#838383"/>
<rect x="58.1" y="287.7" width="29.8" height="29.4" fill="#7f7f7f"/>
<rect x="87.3" y="287.7" width="29.8" height="29.4" fill="#7d7d7d"/>
<rect x="116.5" y="287.7" width="24.3" height="29.4" fill="#797979"/>
<rect x="140.2" y="287.7" width="29.6" height="29.4" fill="#888888"/>
<rect x="169.2" y="287.7" width="29.6" height="29.4" fill="#939393"/>
<rect x="198.2" y="287.7" width="29.6" height="29.4" fill="#888888"/>
<rect x="227.2" y="287.7" width="36.1" height="29.4" fill="#797979"/>
<rect x="262.7" y="287.7" width="30.6" height="29.4" fill="#797979"/>
</g>
<polyline points="120.0,255.0 128.0,266.0 136.0,276.0 142.0,288.0" fill="none" stroke="#4c4c4c" stroke-width="2.2" stroke-linecap="round" stroke-linejoin="round" filter="url(#f1_0)"/>
<ellipse cx="57.0" cy="245.0" rx="6.8" ry="1.7" transform="rotate(0 57.0 245.0)" fill="#dfdfdf" filter="url(#f1_0)"/>
<ellipse cx="243.0" cy="178.0" rx="1.6" ry="4.5" transform="rotate(12 243.0 178.0)" fill="#202020" filter="url(#f0_8)"/>
<polyline points="232.0,16.0 236.0,19.0 238.0,23.0" fill="none" stroke="#262626" stroke-width="1.6" stroke-linecap="round" stroke-linejoin="round" filter="url(#f0_6)"/>
<ellipse cx="230.5" cy="23.5" rx="3.5" ry="1.8" transform="rotate(0 230.5 23.5)" fill="#8c8c8c" filter="url(#f1_0)"/>
<ellipse cx="241.5" cy="178.0" rx="2.6" ry="5.5" transform="rotate(12 241.5 178.0)" fill="#202020" filter="url(#f1_0)"/>
<ellipse cx="193.9" cy="245.5" rx="2.3" ry="2.0" transform="rotate(0 193.9 245.5)" fill="#1a1a1a" filter="url(#f0_6)"/>
<ellipse cx="203.0" cy="236.0" rx="5.0" ry="2.0" transform="rotate(25 203.0 236.0)" fill="#393939" filter="url(#f1_2)"/>
<polygon points="92.0,47.0 110.0,44.0 124.0,43.0 140.0,48.0 148.0,58.0 150.0,66.0 140.0,71.0 124.0,69.0 108.0,67.0 95.0,63.0" fill="#464646" filter="url(#f3_0)"/>
<polyline points="156.0,154.0 159.0,170.0 163.0,190.0" fill="none" stroke="#909090" stroke-width="5.0" stroke-linecap="round" stroke-linejoin="round" filter="url(#f2_6)"/>
<ellipse cx="211.0" cy="236.0" rx="7.0" ry="3.0" transform="rotate(20 211.0 236.0)" fill="#acacac" filter="url(#f2_2)"/>
<ellipse cx="221.0" cy="257.0" rx="8.0" ry="3.5" transform="rotate(10 221.0 257.0)" fill="#b3b3b3" filter="url(#f2_2)"/>
<ellipse cx="188.0" cy="274.0" rx="4.0" ry="7.5" transform="rotate(15 188.0 274.0)" fill="#b9b9b9" filter="url(#f2_2)"/>
<ellipse cx="164.0" cy="260.0" rx="6.0" ry="4.0" transform="rotate(0 164.0 260.0)" fill="#9f9f9f" filter="url(#f2_2)"/>
<ellipse cx="236.0" cy="264.0" rx="8.0" ry="6.0" transform="rotate(0 236.0 264.0)" fill="#9f9f9f" filter="url(#f2_2)"/>
<ellipse cx="108.0" cy="268.0" rx="12.0" ry="8.0" transform="rotate(20 108.0 268.0)" fill="#8c8c8c" filter="url(#f2_2)"/>
</g>
<path d="M5.1,0.0L8.9,285.6M35.6,0.2L38.2,285.8M66.1,0.3L67.5,286.0M96.7,0.4L96.8,286.2M127.2,0.6L126.1,286.4M157.8,0.7L155.4,286.6M188.3,0.9L184.7,286.7M218.9,1.0L214.0,286.9M249.4,1.1L243.3,287.1M0.0,1.9Q131.3,1.2 262.6,3.1M0.5,32.6Q131.2,31.6 261.8,33.8M0.9,63.3Q131.0,62.1 261.1,64.6M1.3,94.0Q130.9,92.6 260.4,95.3M1.7,124.7Q130.7,123.1 259.7,126.1M2.2,155.4Q130.6,153.5 259.0,156.8M2.6,186.1Q130.5,184.0 258.3,187.6M3.0,216.8Q130.3,214.5 257.6,218.3M3.5,247.5Q130.2,245.0 256.9,249.0M3.9,278.2Q130.0,275.5 256.2,279.8" fill="none" stroke="#222" stroke-width="0.9" stroke-dasharray="1.1 2.1" opacity="0.5"/>
</g>
<use href="#ol" fill="none" stroke="#000" stroke-width="2.8" stroke-linejoin="round"/>
<path d="M0,0Q131.7,-0.6 262.6,1.2L256,287.2Q130,283.6 4,285.6Z" fill="none" stroke="#222" stroke-width="1.3"/>
</g>
<g transform="translate(87.0,798.2)">
<g clip-path="url(#cq)"><g filter="url(#jet)">
<g filter="url(#bl)">
<rect x="-30.3" y="-29.1" width="30.6" height="29.4" fill="#606060"/>
<rect x="-0.3" y="-29.1" width="29.8" height="29.4" fill="#606060"/>
<rect x="28.9" y="-29.1" width="29.8" height="29.4" fill="#666666"/>
<rect x="58.1" y="-29.1" width="29.8" height="29.4" fill="#6c6c6c"/>
<rect x="87.3" y="-29.1" width="29.8" height="29.4" fill="#666666"/>
<rect x="116.5" y="-29.1" width="24.3" height="29.4" fill="#666666"/>
<rect x="140.2" y="-29.1" width="29.6" height="29.4" fill="#797979"/>
<rect x="169.2" y="-29.1" width="29.6" height="29.4" fill="#737373"/>
<rect x="198.2" y="-29.1" width="29.6" height="29.4" fill="#6c6c6c"/>
<rect x="227.2" y="-29.1" width="36.1" height="29.4" fill="#7f7f7f"/>
<rect x="262.7" y="-29.1" width="30.6" height="29.4" fill="#7f7f7f"/>
<rect x="-30.3" y="-0.3" width="30.6" height="29.4" fill="#606060"/>
<rect x="-0.3" y="-0.3" width="29.8" height="29.4" fill="#606060"/>
<rect x="28.9" y="-0.3" width="29.8" height="29.4" fill="#666666"/>
<rect x="58.1" y="-0.3" width="29.8" height="29.4" fill="#6c6c6c"/>
<rect x="87.3" y="-0.3" width="29.8" height="29.4" fill="#666666"/>
<rect x="116.5" y="-0.3" width="24.3" height="29.4" fill="#666666"/>
<rect x="140.2" y="-0.3" width="29.6" height="29.4" fill="#797979"/>
<rect x="169.2" y="-0.3" width="29.6" height="29.4" fill="#737373"/>
<rect x="198.2" y="-0.3" width="29.6" height="29.4" fill="#6c6c6c"/>
<rect x="227.2" y="-0.3" width="36.1" height="29.4" fill="#7f7f7f"/>
<rect x="262.7" y="-0.3" width="30.6" height="29.4" fill="#7f7f7f"/>
<rect x="-30.3" y="28.5" width="30.6" height="29.4" fill="#5c5c5c"/>
<rect x="-0.3" y="28.5" width="29.8" height="29.4" fill="#5c5c5c"/>
<rect x="28.9" y="28.5" width="29.8" height="29.4" fill="#626262"/>
<rect x="58.1" y="28.5" width="29.8" height="29.4" fill="#666666"/>
<rect x="87.3" y="28.5" width="29.8" height="29.4" fill="#626262"/>
<rect x="116.5" y="28.5" width="24.3" height="29.4" fill="#636363"/>
<rect x="140.2" y="28.5" width="29.6" height="29.4" fill="#737373"/>
<rect x="169.2" y="28.5" width="29.6" height="29.4" fill="#6c6c6c"/>
<rect x="198.2" y="28.5" width="29.6" height="29.4" fill="#6c6c6c"/>
<rect x="227.2" y="28.5" width="36.1" height="29.4" fill="#797979"/>
<rect x="262.7" y="28.5" width="30.6" height="29.4" fill="#797979"/>
<rect x="-30.3" y="57.3" width="30.6" height="29.4" fill="#606060"/>
<rect x="-0.3" y="57.3" width="29.8" height="29.4" fill="#606060"/>
<rect x="28.9" y="57.3" width="29.8" height="29.4" fill="#626262"/>
<rect x="58.1" y="57.3" width="29.8" height="29.4" fill="#626262"/>
<rect x="87.3" y="57.3" width="29.8" height="29.4" fill="#595959"/>
<rect x="116.5" y="57.3" width="24.3" height="29.4" fill="#575757"/>
<rect x="140.2" y="57.3" width="29.6" height="29.4" fill="#737373"/>
<rect x="169.2" y="57.3" width="29.6" height="29.4" fill="#626262"/>
<rect x="198.2" y="57.3" width="29.6" height="29.4" fill="#5d5d5d"/>
<rect x="227.2" y="57.3" width="36.1" height="29.4" fill="#6c6c6c"/>
<rect x="262.7" y="57.3" width="30.6" height="29.4" fill="#6c6c6c"/>
<rect x="-30.3" y="86.1" width="30.6" height="29.4" fill="#626262"/>
<rect x="-0.3" y="86.1" width="29.8" height="29.4" fill="#626262"/>
<rect x="28.9" y="86.1" width="29.8" height="29.4" fill="#626262"/>
<rect x="58.1" y="86.1" width="29.8" height="29.4" fill="#626262"/>
<rect x="87.3" y="86.1" width="29.8" height="29.4" fill="#626262"/>
<rect x="116.5" y="86.1" width="24.3" height="29.4" fill="#636363"/>
<rect x="140.2" y="86.1" width="29.6" height="29.4" fill="#797979"/>
<rect x="169.2" y="86.1" width="29.6" height="29.4" fill="#737373"/>
<rect x="198.2" y="86.1" width="29.6" height="29.4" fill="#6f6f6f"/>
<rect x="227.2" y="86.1" width="36.1" height="29.4" fill="#757575"/>
<rect x="262.7" y="86.1" width="30.6" height="29.4" fill="#757575"/>
<rect x="-30.3" y="114.9" width="30.6" height="29.4" fill="#696969"/>
<rect x="-0.3" y="114.9" width="29.8" height="29.4" fill="#696969"/>
<rect x="28.9" y="114.9" width="29.8" height="29.4" fill="#666666"/>
<rect x="58.1" y="114.9" width="29.8" height="29.4" fill="#666666"/>
<rect x="87.3" y="114.9" width="29.8" height="29.4" fill="#666666"/>
<rect x="116.5" y="114.9" width="24.3" height="29.4" fill="#6c6c6c"/>
<rect x="140.2" y="114.9" width="29.6" height="29.4" fill="#8c8c8c"/>
<rect x="169.2" y="114.9" width="29.6" height="29.4" fill="#828282"/>
<rect x="198.2" y="114.9" width="29.6" height="29.4" fill="#797979"/>
<rect x="227.2" y="114.9" width="36.1" height="29.4" fill="#7f7f7f"/>
<rect x="262.7" y="114.9" width="30.6" height="29.4" fill="#7f7f7f"/>
<rect x="-30.3" y="143.7" width="30.6" height="29.4" fill="#737373"/>
<rect x="-0.3" y="143.7" width="29.8" height="29.4" fill="#737373"/>
<rect x="28.9" y="143.7" width="29.8" height="29.4" fill="#737373"/>
<rect x="58.1" y="143.7" width="29.8" height="29.4" fill="#6c6c6c"/>
<rect x="87.3" y="143.7" width="29.8" height="29.4" fill="#696969"/>
<rect x="116.5" y="143.7" width="24.3" height="29.4" fill="#737373"/>
<rect x="140.2" y="143.7" width="29.6" height="29.4" fill="#8c8c8c"/>
<rect x="169.2" y="143.7" width="29.6" height="29.4" fill="#7d7d7d"/>
<rect x="198.2" y="143.7" width="29.6" height="29.4" fill="#7d7d7d"/>
<rect x="227.2" y="143.7" width="36.1" height="29.4" fill="#939393"/>
<rect x="262.7" y="143.7" width="30.6" height="29.4" fill="#939393"/>
<rect x="-30.3" y="172.5" width="30.6" height="29.4" fill="#797979"/>
<rect x="-0.3" y="172.5" width="29.8" height="29.4" fill="#797979"/>
<rect x="28.9" y="172.5" width="29.8" height="29.4" fill="#797979"/>
<rect x="58.1" y="172.5" width="29.8" height="29.4" fill="#737373"/>
<rect x="87.3" y="172.5" width="29.8" height="29.4" fill="#737373"/>
<rect x="116.5" y="172.5" width="24.3" height="29.4" fill="#7f7f7f"/>
<rect x="140.2" y="172.5" width="29.6" height="29.4" fill="#999999"/>
<rect x="169.2" y="172.5" width="29.6" height="29.4" fill="#7f7f7f"/>
<rect x="198.2" y="172.5" width="29.6" height="29.4" fill="#868686"/>
<rect x="227.2" y="172.5" width="36.1" height="29.4" fill="#a3a3a3"/>
<rect x="262.7" y="172.5" width="30.6" height="29.4" fill="#a3a3a3"/>
<rect x="-30.3" y="201.3" width="30.6" height="29.4" fill="#868686"/>
<rect x="-0.3" y="201.3" width="29.8" height="29.4" fill="#868686"/>
<rect x="28.9" y="201.3" width="29.8" height="29.4" fill="#868686"/>
<rect x="58.1" y="201.3" width="29.8" height="29.4" fill="#7f7f7f"/>
<rect x="87.3" y="201.3" width="29.8" height="29.4" fill="#7f7f7f"/>
<rect x="116.5" y="201.3" width="24.3" height="29.4" fill="#868686"/>
<rect x="140.2" y="201.3" width="29.6" height="29.4" fill="#939393"/>
<rect x="169.2" y="201.3" width="29.6" height="29.4" fill="#8c8c8c"/>
<rect x="198.2" y="201.3" width="29.6" height="29.4" fill="#969696"/>
<rect x="227.2" y="201.3" width="36.1" height="29.4" fill="#a8a8a8"/>
<rect x="262.7" y="201.3" width="30.6" height="29.4" fill="#a8a8a8"/>
<rect x="-30.3" y="230.1" width="30.6" height="29.4" fill="#939393"/>
<rect x="-0.3" y="230.1" width="29.8" height="29.4" fill="#939393"/>
<rect x="28.9" y="230.1" width="29.8" height="29.4" fill="#969696"/>
<rect x="58.1" y="230.1" width="29.8" height="29.4" fill="#939393"/>
<rect x="87.3" y="230.1" width="29.8" height="29.4" fill="#999999"/>
<rect x="116.5" y="230.1" width="24.3" height="29.4" fill="#9c9c9c"/>
<rect x="140.2" y="230.1" width="29.6" height="29.4" fill="#9c9c9c"/>
<rect x="169.2" y="230.1" width="29.6" height="29.4" fill="#a3a3a3"/>
<rect x="198.2" y="230.1" width="29.6" height="29.4" fill="#a6a6a6"/>
<rect x="227.2" y="230.1" width="36.1" height="29.4" fill="#a6a6a6"/>
<rect x="262.7" y="230.1" width="30.6" height="29.4" fill="#a6a6a6"/>
<rect x="-30.3" y="258.9" width="30.6" height="29.4" fill="#9c9c9c"/>
<rect x="-0.3" y="258.9" width="29.8" height="29.4" fill="#9c9c9c"/>
<rect x="28.9" y="258.9" width="29.8" height="29.4" fill="#9f9f9f"/>
<rect x="58.1" y="258.9" width="29.8" height="29.4" fill="#a2a2a2"/>
<rect x="87.3" y="258.9" width="29.8" height="29.4" fill="#a8a8a8"/>
<rect x="116.5" y="258.9" width="24.3" height="29.4" fill="#999999"/>
<rect x="140.2" y="258.9" width="29.6" height="29.4" fill="#9f9f9f"/>
<rect x="169.2" y="258.9" width="29.6" height="29.4" fill="#a6a6a6"/>
<rect x="198.2" y="258.9" width="29.6" height="29.4" fill="#a2a2a2"/>
<rect x="227.2" y="258.9" width="36.1" height="29.4" fill="#a6a6a6"/>
<rect x="262.7" y="258.9" width="30.6" height="29.4" fill="#a6a6a6"/>
<rect x="-30.3" y="287.7" width="30.6" height="29.4" fill="#9c9c9c"/>
<rect x="-0.3" y="287.7" width="29.8" height="29.4" fill="#9c9c9c"/>
<rect x="28.9" y="287.7" width="29.8" height="29.4" fill="#9f9f9f"/>
<rect x="58.1" y="287.7" width="29.8" height="29.4" fill="#a2a2a2"/>
<rect x="87.3" y="287.7" width="29.8" height="29.4" fill="#a8a8a8"/>
<rect x="116.5" y="287.7" width="24.3" height="29.4" fill="#999999"/>
<rect x="140.2" y="287.7" width="29.6" height="29.4" fill="#9f9f9f"/>
<rect x="169.2" y="287.7" width="29.6" height="29.4" fill="#a6a6a6"/>
<rect x="198.2" y="287.7" width="29.6" height="29.4" fill="#a2a2a2"/>
<rect x="227.2" y="287.7" width="36.1" height="29.4" fill="#a6a6a6"/>
<rect x="262.7" y="287.7" width="30.6" height="29.4" fill="#a6a6a6"/>
</g>
<polyline points="120.0,255.0 128.0,266.0 136.0,276.0 142.0,288.0" fill="none" stroke="#4c4c4c" stroke-width="2.2" stroke-linecap="round" stroke-linejoin="round" filter="url(#f1_0)"/>
<ellipse cx="57.0" cy="245.0" rx="6.8" ry="1.7" transform="rotate(0 57.0 245.0)" fill="#dfdfdf" filter="url(#f1_0)"/>
<ellipse cx="243.0" cy="178.0" rx="1.6" ry="4.5" transform="rotate(12 243.0 178.0)" fill="#202020" filter="url(#f0_8)"/>
<polyline points="232.0,16.0 236.0,19.0 238.0,23.0" fill="none" stroke="#262626" stroke-width="1.6" stroke-linecap="round" stroke-linejoin="round" filter="url(#f0_6)"/>
<ellipse cx="230.5" cy="23.5" rx="3.5" ry="1.8" transform="rotate(0 230.5 23.5)" fill="#8c8c8c" filter="url(#f1_0)"/>
<ellipse cx="241.5" cy="178.0" rx="2.6" ry="5.5" transform="rotate(12 241.5 178.0)" fill="#202020" filter="url(#f1_0)"/>
<ellipse cx="193.9" cy="245.5" rx="2.3" ry="2.0" transform="rotate(0 193.9 245.5)" fill="#1a1a1a" filter="url(#f0_6)"/>
<polygon points="92.0,47.0 110.0,44.0 124.0,43.0 140.0,48.0 148.0,58.0 150.0,66.0 140.0,71.0 124.0,69.0 108.0,67.0 95.0,63.0" fill="#535353" filter="url(#f3_0)"/>
<polyline points="117.0,176.0 139.0,194.0 163.0,196.0" fill="none" stroke="#b9b9b9" stroke-width="3.5" stroke-linecap="round" stroke-linejoin="round" filter="url(#f1_3)"/>
<polygon points="140.0,124.0 172.0,124.0 172.0,156.0 140.0,156.0" fill="#868686" filter="url(#f3_0)"/>
<ellipse cx="144.0" cy="143.0" rx="4.5" ry="4.5" transform="rotate(0 144.0 143.0)" fill="#cccccc" filter="url(#f1_5)"/>
<ellipse cx="133.0" cy="128.0" rx="3.0" ry="9.0" transform="rotate(-30 133.0 128.0)" fill="#535353" filter="url(#f2_0)"/>
<ellipse cx="151.0" cy="203.0" rx="13.0" ry="6.0" transform="rotate(10 151.0 203.0)" fill="#bfbfbf" filter="url(#f2_2)"/>
<ellipse cx="108.0" cy="268.0" rx="12.0" ry="8.0" transform="rotate(20 108.0 268.0)" fill="#b9b9b9" filter="url(#f2_2)"/>
<ellipse cx="61.0" cy="269.0" rx="3.5" ry="7.0" transform="rotate(10 61.0 269.0)" fill="#bfbfbf" filter="url(#f2_2)"/>
<ellipse cx="188.0" cy="274.0" rx="4.0" ry="7.5" transform="rotate(15 188.0 274.0)" fill="#bfbfbf" filter="url(#f2_2)"/>
<ellipse cx="195.0" cy="250.0" rx="6.0" ry="3.5" transform="rotate(0 195.0 250.0)" fill="#b3b3b3" filter="url(#f2_2)"/>
<ellipse cx="236.0" cy="264.0" rx="8.0" ry="6.0" transform="rotate(0 236.0 264.0)" fill="#b3b3b3" filter="url(#f2_2)"/>
<ellipse cx="221.0" cy="257.0" rx="8.0" ry="3.5" transform="rotate(10 221.0 257.0)" fill="#acacac" filter="url(#f2_2)"/>
</g>
<path d="M5.1,0.0L8.9,285.6M35.6,0.2L38.2,285.8M66.1,0.3L67.5,286.0M96.7,0.4L96.8,286.2M127.2,0.6L126.1,286.4M157.8,0.7L155.4,286.6M188.3,0.9L184.7,286.7M218.9,1.0L214.0,286.9M249.4,1.1L243.3,287.1M0.0,1.9Q131.3,1.2 262.6,3.1M0.5,32.6Q131.2,31.6 261.8,33.8M0.9,63.3Q131.0,62.1 261.1,64.6M1.3,94.0Q130.9,92.6 260.4,95.3M1.7,124.7Q130.7,123.1 259.7,126.1M2.2,155.4Q130.6,153.5 259.0,156.8M2.6,186.1Q130.5,184.0 258.3,187.6M3.0,216.8Q130.3,214.5 257.6,218.3M3.5,247.5Q130.2,245.0 256.9,249.0M3.9,278.2Q130.0,275.5 256.2,279.8" fill="none" stroke="#222" stroke-width="0.9" stroke-dasharray="1.1 2.1" opacity="0.5"/>
</g>
<use href="#ol" fill="none" stroke="#000" stroke-width="2.8" stroke-linejoin="round"/>
<path d="M0,0Q131.7,-0.6 262.6,1.2L256,287.2Q130,283.6 4,285.6Z" fill="none" stroke="#222" stroke-width="1.3"/>
</g>
<g transform="translate(410.8,798.2)">
<g clip-path="url(#cq)"><g filter="url(#jetm)">
<g filter="url(#bl)">
<rect x="-30.3" y="-29.1" width="30.6" height="29.4" fill="#4f4f4f"/>
<rect x="-0.3" y="-29.1" width="29.8" height="29.4" fill="#4f4f4f"/>
<rect x="28.9" y="-29.1" width="29.8" height="29.4" fill="#4f4f4f"/>
<rect x="58.1" y="-29.1" width="29.8" height="29.4" fill="#535353"/>
<rect x="87.3" y="-29.1" width="29.8" height="29.4" fill="#535353"/>
<rect x="116.5" y="-29.1" width="24.3" height="29.4" fill="#555555"/>
<rect x="140.2" y="-29.1" width="29.6" height="29.4" fill="#4f4f4f"/>
<rect x="169.2" y="-29.1" width="29.6" height="29.4" fill="#494949"/>
<rect x="198.2" y="-29.1" width="29.6" height="29.4" fill="#4c4c4c"/>
<rect x="227.2" y="-29.1" width="36.1" height="29.4" fill="#505050"/>
<rect x="262.7" y="-29.1" width="30.6" height="29.4" fill="#505050"/>
<rect x="-30.3" y="-0.3" width="30.6" height="29.4" fill="#4f4f4f"/>
<rect x="-0.3" y="-0.3" width="29.8" height="29.4" fill="#4f4f4f"/>
<rect x="28.9" y="-0.3" width="29.8" height="29.4" fill="#4f4f4f"/>
<rect x="58.1" y="-0.3" width="29.8" height="29.4" fill="#535353"/>
<rect x="87.3" y="-0.3" width="29.8" height="29.4" fill="#535353"/>
<rect x="116.5" y="-0.3" width="24.3" height="29.4" fill="#555555"/>
<rect x="140.2" y="-0.3" width="29.6" height="29.4" fill="#4f4f4f"/>
<rect x="169.2" y="-0.3" width="29.6" height="29.4" fill="#494949"/>
<rect x="198.2" y="-0.3" width="29.6" height="29.4" fill="#4c4c4c"/>
<rect x="227.2" y="-0.3" width="36.1" height="29.4" fill="#505050"/>
<rect x="262.7" y="-0.3" width="30.6" height="29.4" fill="#505050"/>
<rect x="-30.3" y="28.5" width="30.6" height="29.4" fill="#4a4a4a"/>
<rect x="-0.3" y="28.5" width="29.8" height="29.4" fill="#4a4a4a"/>
<rect x="28.9" y="28.5" width="29.8" height="29.4" fill="#4f4f4f"/>
<rect x="58.1" y="28.5" width="29.8" height="29.4" fill="#505050"/>
<rect x="87.3" y="28.5" width="29.8" height="29.4" fill="#4a4a4a"/>
<rect x="116.5" y="28.5" width="24.3" height="29.4" fill="#4a4a4a"/>
<rect x="140.2" y="28.5" width="29.6" height="29.4" fill="#4a4a4a"/>
<rect x="169.2" y="28.5" width="29.6" height="29.4" fill="#494949"/>
<rect x="198.2" y="28.5" width="29.6" height="29.4" fill="#494949"/>
<rect x="227.2" y="28.5" width="36.1" height="29.4" fill="#4c4c4c"/>
<rect x="262.7" y="28.5" width="30.6" height="29.4" fill="#4c4c4c"/>
<rect x="-30.3" y="57.3" width="30.6" height="29.4" fill="#505050"/>
<rect x="-0.3" y="57.3" width="29.8" height="29.4" fill="#505050"/>
<rect x="28.9" y="57.3" width="29.8" height="29.4" fill="#505050"/>
<rect x="58.1" y="57.3" width="29.8" height="29.4" fill="#4c4c4c"/>
<rect x="87.3" y="57.3" width="29.8" height="29.4" fill="#424242"/>
<rect x="116.5" y="57.3" width="24.3" height="29.4" fill="#424242"/>
<rect x="140.2" y="57.3" width="29.6" height="29.4" fill="#494949"/>
<rect x="169.2" y="57.3" width="29.6" height="29.4" fill="#464646"/>
<rect x="198.2" y="57.3" width="29.6" height="29.4" fill="#444444"/>
<rect x="227.2" y="57.3" width="36.1" height="29.4" fill="#494949"/>
<rect x="262.7" y="57.3" width="30.6" height="29.4" fill="#494949"/>
<rect x="-30.3" y="86.1" width="30.6" height="29.4" fill="#555555"/>
<rect x="-0.3" y="86.1" width="29.8" height="29.4" fill="#555555"/>
<rect x="28.9" y="86.1" width="29.8" height="29.4" fill="#535353"/>
<rect x="58.1" y="86.1" width="29.8" height="29.4" fill="#505050"/>
<rect x="87.3" y="86.1" width="29.8" height="29.4" fill="#4f4f4f"/>
<rect x="116.5" y="86.1" width="24.3" height="29.4" fill="#4f4f4f"/>
<rect x="140.2" y="86.1" width="29.6" height="29.4" fill="#4c4c4c"/>
<rect x="169.2" y="86.1" width="29.6" height="29.4" fill="#4a4a4a"/>
<rect x="198.2" y="86.1" width="29.6" height="29.4" fill="#464646"/>
<rect x="227.2" y="86.1" width="36.1" height="29.4" fill="#4a4a4a"/>
<rect x="262.7" y="86.1" width="30.6" height="29.4" fill="#4a4a4a"/>
<rect x="-30.3" y="114.9" width="30.6" height="29.4" fill="#595959"/>
<rect x="-0.3" y="114.9" width="29.8" height="29.4" fill="#595959"/>
<rect x="28.9" y="114.9" width="29.8" height="29.4" fill="#575757"/>
<rect x="58.1" y="114.9" width="29.8" height="29.4" fill="#555555"/>
<rect x="87.3" y="114.9" width="29.8" height="29.4" fill="#555555"/>
<rect x="116.5" y="114.9" width="24.3" height="29.4" fill="#535353"/>
<rect x="140.2" y="114.9" width="29.6" height="29.4" fill="#535353"/>
<rect x="169.2" y="114.9" width="29.6" height="29.4" fill="#505050"/>
<rect x="198.2" y="114.9" width="29.6" height="29.4" fill="#4a4a4a"/>
<rect x="227.2" y="114.9" width="36.1" height="29.4" fill="#4f4f4f"/>
<rect x="262.7" y="114.9" width="30.6" height="29.4" fill="#4f4f4f"/>
<rect x="-30.3" y="143.7" width="30.6" height="29.4" fill="#606060"/>
<rect x="-0.3" y="143.7" width="29.8" height="29.4" fill="#606060"/>
<rect x="28.9" y="143.7" width="29.8" height="29.4" fill="#606060"/>
<rect x="58.1" y="143.7" width="29.8" height="29.4" fill="#5c5c5c"/>
<rect x="87.3" y="143.7" width="29.8" height="29.4" fill="#595959"/>
<rect x="116.5" y="143.7" width="24.3" height="29.4" fill="#595959"/>
<rect x="140.2" y="143.7" width="29.6" height="29.4" fill="#575757"/>
<rect x="169.2" y="143.7" width="29.6" height="29.4" fill="#535353"/>
<rect x="198.2" y="143.7" width="29.6" height="29.4" fill="#4c4c4c"/>
<rect x="227.2" y="143.7" width="36.1" height="29.4" fill="#505050"/>
<rect x="262.7" y="143.7" width="30.6" height="29.4" fill="#505050"/>
<rect x="-30.3" y="172.5" width="30.6" height="29.4" fill="#696969"/>
<rect x="-0.3" y="172.5" width="29.8" height="29.4" fill="#696969"/>
<rect x="28.9" y="172.5" width="29.8" height="29.4" fill="#696969"/>
<rect x="58.1" y="172.5" width="29.8" height="29.4" fill="#636363"/>
<rect x="87.3" y="172.5" width="29.8" height="29.4" fill="#626262"/>
<rect x="116.5" y="172.5" width="24.3" height="29.4" fill="#696969"/>
<rect x="140.2" y="172.5" width="29.6" height="29.4" fill="#6c6c6c"/>
<rect x="169.2" y="172.5" width="29.6" height="29.4" fill="#5d5d5d"/>
<rect x="198.2" y="172.5" width="29.6" height="29.4" fill="#575757"/>
<rect x="227.2" y="172.5" width="36.1" height="29.4" fill="#595959"/>
<rect x="262.7" y="172.5" width="30.6" height="29.4" fill="#595959"/>
<rect x="-30.3" y="201.3" width="30.6" height="29.4" fill="#777777"/>
<rect x="-0.3" y="201.3" width="29.8" height="29.4" fill="#777777"/>
<rect x="28.9" y="201.3" width="29.8" height="29.4" fill="#777777"/>
<rect x="58.1" y="201.3" width="29.8" height="29.4" fill="#737373"/>
<rect x="87.3" y="201.3" width="29.8" height="29.4" fill="#6a6a6a"/>
<rect x="116.5" y="201.3" width="24.3" height="29.4" fill="#6a6a6a"/>
<rect x="140.2" y="201.3" width="29.6" height="29.4" fill="#6c6c6c"/>
<rect x="169.2" y="201.3" width="29.6" height="29.4" fill="#636363"/>
<rect x="198.2" y="201.3" width="29.6" height="29.4" fill="#606060"/>
<rect x="227.2" y="201.3" width="36.1" height="29.4" fill="#636363"/>
<rect x="262.7" y="201.3" width="30.6" height="29.4" fill="#636363"/>
<rect x="-30.3" y="230.1" width="30.6" height="29.4" fill="#838383"/>
<rect x="-0.3" y="230.1" width="29.8" height="29.4" fill="#838383"/>
<rect x="28.9" y="230.1" width="29.8" height="29.4" fill="#868686"/>
<rect x="58.1" y="230.1" width="29.8" height="29.4" fill="#828282"/>
<rect x="87.3" y="230.1" width="29.8" height="29.4" fill="#868686"/>
<rect x="116.5" y="230.1" width="24.3" height="29.4" fill="#797979"/>
<rect x="140.2" y="230.1" width="29.6" height="29.4" fill="#737373"/>
<rect x="169.2" y="230.1" width="29.6" height="29.4" fill="#666666"/>
<rect x="198.2" y="230.1" width="29.6" height="29.4" fill="#626262"/>
<rect x="227.2" y="230.1" width="36.1" height="29.4" fill="#626262"/>
<rect x="262.7" y="230.1" width="30.6" height="29.4" fill="#626262"/>
<rect x="-30.3" y="258.9" width="30.6" height="29.4" fill="#868686"/>
<rect x="-0.3" y="258.9" width="29.8" height="29.4" fill="#868686"/>
<rect x="28.9" y="258.9" width="29.8" height="29.4" fill="#8f8f8f"/>
<rect x="58.1" y="258.9" width="29.8" height="29.4" fill="#969696"/>
<rect x="87.3" y="258.9" width="29.8" height="29.4" fill="#9c9c9c"/>
<rect x="116.5" y="258.9" width="24.3" height="29.4" fill="#7f7f7f"/>
<rect x="140.2" y="258.9" width="29.6" height="29.4" fill="#797979"/>
<rect x="169.2" y="258.9" width="29.6" height="29.4" fill="#6c6c6c"/>
<rect x="198.2" y="258.9" width="29.6" height="29.4" fill="#636363"/>
<rect x="227.2" y="258.9" width="36.1" height="29.4" fill="#606060"/>
<rect x="262.7" y="258.9" width="30.6" height="29.4" fill="#606060"/>
<rect x="-30.3" y="287.7" width="30.6" height="29.4" fill="#868686"/>
<rect x="-0.3" y="287.7" width="29.8" height="29.4" fill="#868686"/>
<rect x="28.9" y="287.7" width="29.8" height="29.4" fill="#8f8f8f"/>
<rect x="58.1" y="287.7" width="29.8" height="29.4" fill="#969696"/>
<rect x="87.3" y="287.7" width="29.8" height="29.4" fill="#9c9c9c"/>
<rect x="116.5" y="287.7" width="24.3" height="29.4" fill="#7f7f7f"/>
<rect x="140.2" y="287.7" width="29.6" height="29.4" fill="#797979"/>
<rect x="169.2" y="287.7" width="29.6" height="29.4" fill="#6c6c6c"/>
<rect x="198.2" y="287.7" width="29.6" height="29.4" fill="#636363"/>
<rect x="227.2" y="287.7" width="36.1" height="29.4" fill="#606060"/>
<rect x="262.7" y="287.7" width="30.6" height="29.4" fill="#606060"/>
</g>
<polyline points="120.0,255.0 128.0,266.0 136.0,276.0 142.0,288.0" fill="none" stroke="#404040" stroke-width="2.2" stroke-linecap="round" stroke-linejoin="round" filter="url(#f1_0)"/>
<ellipse cx="57.0" cy="245.0" rx="6.8" ry="1.7" transform="rotate(0 57.0 245.0)" fill="#c6c6c6" filter="url(#f1_0)"/>
<ellipse cx="243.0" cy="178.0" rx="1.6" ry="4.5" transform="rotate(12 243.0 178.0)" fill="#202020" filter="url(#f0_8)"/>
<polyline points="232.0,16.0 236.0,19.0 238.0,23.0" fill="none" stroke="#262626" stroke-width="1.6" stroke-linecap="round" stroke-linejoin="round" filter="url(#f0_6)"/>
<ellipse cx="230.5" cy="23.5" rx="3.5" ry="1.8" transform="rotate(0 230.5 23.5)" fill="#8c8c8c" filter="url(#f1_0)"/>
<ellipse cx="241.5" cy="178.0" rx="2.6" ry="5.5" transform="rotate(12 241.5 178.0)" fill="#202020" filter="url(#f1_0)"/>
<ellipse cx="193.9" cy="245.5" rx="2.3" ry="2.0" transform="rotate(0 193.9 245.5)" fill="#1a1a1a" filter="url(#f0_6)"/>
<polygon points="94.8,50.1 105.9,45.7 119.3,50.1 131.5,59.0 140.4,67.9 141.5,73.5 131.5,72.4 119.3,67.9 108.1,65.7 99.2,67.9 95.9,64.6 89.2,59.0" fill="#393939" filter="url(#f1_8)"/>
<polygon points="131.5,100.2 140.4,101.3 149.3,109.1 148.2,115.7 140.4,113.5 133.7,108.0" fill="#3b3b3b" filter="url(#f1_5)"/>
<polygon points="129.3,129.1 138.2,131.3 146.0,134.7 148.2,141.3 142.6,142.4 136.0,139.1 130.4,134.7" fill="#404040" filter="url(#f1_5)"/>
<polygon points="151.0,144.7 155.5,143.8 157.8,153.6 161.2,170.2 164.6,189.2 163.0,192.5 159.8,181.4 154.5,164.7 151.2,153.6" fill="#303030" filter="url(#f1_2)"/>
<polyline points="117.0,176.0 139.0,194.0 163.0,196.0" fill="none" stroke="#9f9f9f" stroke-width="3.0" stroke-linecap="round" stroke-linejoin="round" filter="url(#f1_3)"/>
<polyline points="106.0,171.0 117.0,184.0 128.0,201.0 145.0,218.0 166.0,240.0" fill="none" stroke="#464646" stroke-width="1.2" stroke-linecap="round" stroke-linejoin="round" filter="url(#f0_6)"/>
<ellipse cx="108.0" cy="268.0" rx="12.0" ry="8.0" transform="rotate(20 108.0 268.0)" fill="#b9b9b9" filter="url(#f2_2)"/>
<ellipse cx="61.0" cy="269.0" rx="3.5" ry="7.0" transform="rotate(10 61.0 269.0)" fill="#b3b3b3" filter="url(#f2_2)"/>
<ellipse cx="151.0" cy="203.0" rx="13.0" ry="6.0" transform="rotate(10 151.0 203.0)" fill="#999999" filter="url(#f2_2)"/>
<ellipse cx="188.0" cy="274.0" rx="4.0" ry="7.5" transform="rotate(15 188.0 274.0)" fill="#9f9f9f" filter="url(#f2_2)"/>
</g>
<path d="M5.1,0.0L8.9,285.6M35.6,0.2L38.2,285.8M66.1,0.3L67.5,286.0M96.7,0.4L96.8,286.2M127.2,0.6L126.1,286.4M157.8,0.7L155.4,286.6M188.3,0.9L184.7,286.7M218.9,1.0L214.0,286.9M249.4,1.1L243.3,287.1M0.0,1.9Q131.3,1.2 262.6,3.1M0.5,32.6Q131.2,31.6 261.8,33.8M0.9,63.3Q131.0,62.1 261.1,64.6M1.3,94.0Q130.9,92.6 260.4,95.3M1.7,124.7Q130.7,123.1 259.7,126.1M2.2,155.4Q130.6,153.5 259.0,156.8M2.6,186.1Q130.5,184.0 258.3,187.6M3.0,216.8Q130.3,214.5 257.6,218.3M3.5,247.5Q130.2,245.0 256.9,249.0M3.9,278.2Q130.0,275.5 256.2,279.8" fill="none" stroke="#222" stroke-width="0.9" stroke-dasharray="1.1 2.1" opacity="0.5"/>
</g>
<use href="#ol" fill="none" stroke="#000" stroke-width="2.8" stroke-linejoin="round"/>
<path d="M0,0Q131.7,-0.6 262.6,1.2L256,287.2Q130,283.6 4,285.6Z" fill="none" stroke="#222" stroke-width="1.3"/>
</g>
<g transform="translate(734.4,798.2)">
<g clip-path="url(#cq)"><g filter="url(#jet)">
<g filter="url(#bl)">
<rect x="-30.3" y="-29.1" width="30.6" height="29.4" fill="#636363"/>
<rect x="-0.3" y="-29.1" width="29.8" height="29.4" fill="#636363"/>
<rect x="28.9" y="-29.1" width="29.8" height="29.4" fill="#6a6a6a"/>
<rect x="58.1" y="-29.1" width="29.8" height="29.4" fill="#707070"/>
<rect x="87.3" y="-29.1" width="29.8" height="29.4" fill="#707070"/>
<rect x="116.5" y="-29.1" width="24.3" height="29.4" fill="#757575"/>
<rect x="140.2" y="-29.1" width="29.6" height="29.4" fill="#595959"/>
<rect x="169.2" y="-29.1" width="29.6" height="29.4" fill="#575757"/>
<rect x="198.2" y="-29.1" width="29.6" height="29.4" fill="#575757"/>
<rect x="227.2" y="-29.1" width="36.1" height="29.4" fill="#626262"/>
<rect x="262.7" y="-29.1" width="30.6" height="29.4" fill="#626262"/>
<rect x="-30.3" y="-0.3" width="30.6" height="29.4" fill="#636363"/>
<rect x="-0.3" y="-0.3" width="29.8" height="29.4" fill="#636363"/>
<rect x="28.9" y="-0.3" width="29.8" height="29.4" fill="#6a6a6a"/>
<rect x="58.1" y="-0.3" width="29.8" height="29.4" fill="#707070"/>
<rect x="87.3" y="-0.3" width="29.8" height="29.4" fill="#707070"/>
<rect x="116.5" y="-0.3" width="24.3" height="29.4" fill="#757575"/>
<rect x="140.2" y="-0.3" width="29.6" height="29.4" fill="#595959"/>
<rect x="169.2" y="-0.3" width="29.6" height="29.4" fill="#575757"/>
<rect x="198.2" y="-0.3" width="29.6" height="29.4" fill="#575757"/>
<rect x="227.2" y="-0.3" width="36.1" height="29.4" fill="#626262"/>
<rect x="262.7" y="-0.3" width="30.6" height="29.4" fill="#626262"/>
<rect x="-30.3" y="28.5" width="30.6" height="29.4" fill="#5e5e5e"/>
<rect x="-0.3" y="28.5" width="29.8" height="29.4" fill="#5e5e5e"/>
<rect x="28.9" y="28.5" width="29.8" height="29.4" fill="#696969"/>
<rect x="58.1" y="28.5" width="29.8" height="29.4" fill="#6f6f6f"/>
<rect x="87.3" y="28.5" width="29.8" height="29.4" fill="#6f6f6f"/>
<rect x="116.5" y="28.5" width="24.3" height="29.4" fill="#6f6f6f"/>
<rect x="140.2" y="28.5" width="29.6" height="29.4" fill="#555555"/>
<rect x="169.2" y="28.5" width="29.6" height="29.4" fill="#535353"/>
<rect x="198.2" y="28.5" width="29.6" height="29.4" fill="#535353"/>
<rect x="227.2" y="28.5" width="36.1" height="29.4" fill="#5c5c5c"/>
<rect x="262.7" y="28.5" width="30.6" height="29.4" fill="#5c5c5c"/>
<rect x="-30.3" y="57.3" width="30.6" height="29.4" fill="#626262"/>
<rect x="-0.3" y="57.3" width="29.8" height="29.4" fill="#626262"/>
<rect x="28.9" y="57.3" width="29.8" height="29.4" fill="#696969"/>
<rect x="58.1" y="57.3" width="29.8" height="29.4" fill="#696969"/>
<rect x="87.3" y="57.3" width="29.8" height="29.4" fill="#636363"/>
<rect x="116.5" y="57.3" width="24.3" height="29.4" fill="#636363"/>
<rect x="140.2" y="57.3" width="29.6" height="29.4" fill="#555555"/>
<rect x="169.2" y="57.3" width="29.6" height="29.4" fill="#505050"/>
<rect x="198.2" y="57.3" width="29.6" height="29.4" fill="#4f4f4f"/>
<rect x="227.2" y="57.3" width="36.1" height="29.4" fill="#575757"/>
<rect x="262.7" y="57.3" width="30.6" height="29.4" fill="#575757"/>
<rect x="-30.3" y="86.1" width="30.6" height="29.4" fill="#636363"/>
<rect x="-0.3" y="86.1" width="29.8" height="29.4" fill="#636363"/>
<rect x="28.9" y="86.1" width="29.8" height="29.4" fill="#6a6a6a"/>
<rect x="58.1" y="86.1" width="29.8" height="29.4" fill="#6a6a6a"/>
<rect x="87.3" y="86.1" width="29.8" height="29.4" fill="#6a6a6a"/>
<rect x="116.5" y="86.1" width="24.3" height="29.4" fill="#6f6f6f"/>
<rect x="140.2" y="86.1" width="29.6" height="29.4" fill="#595959"/>
<rect x="169.2" y="86.1" width="29.6" height="29.4" fill="#535353"/>
<rect x="198.2" y="86.1" width="29.6" height="29.4" fill="#505050"/>
<rect x="227.2" y="86.1" width="36.1" height="29.4" fill="#575757"/>
<rect x="262.7" y="86.1" width="30.6" height="29.4" fill="#575757"/>
<rect x="-30.3" y="114.9" width="30.6" height="29.4" fill="#696969"/>
<rect x="-0.3" y="114.9" width="29.8" height="29.4" fill="#696969"/>
<rect x="28.9" y="114.9" width="29.8" height="29.4" fill="#6a6a6a"/>
<rect x="58.1" y="114.9" width="29.8" height="29.4" fill="#6f6f6f"/>
<rect x="87.3" y="114.9" width="29.8" height="29.4" fill="#707070"/>
<rect x="116.5" y="114.9" width="24.3" height="29.4" fill="#757575"/>
<rect x="140.2" y="114.9" width="29.6" height="29.4" fill="#606060"/>
<rect x="169.2" y="114.9" width="29.6" height="29.4" fill="#595959"/>
<rect x="198.2" y="114.9" width="29.6" height="29.4" fill="#575757"/>
<rect x="227.2" y="114.9" width="36.1" height="29.4" fill="#5c5c5c"/>
<rect x="262.7" y="114.9" width="30.6" height="29.4" fill="#5c5c5c"/>
<rect x="-30.3" y="143.7" width="30.6" height="29.4" fill="#737373"/>
<rect x="-0.3" y="143.7" width="29.8" height="29.4" fill="#737373"/>
<rect x="28.9" y="143.7" width="29.8" height="29.4" fill="#737373"/>
<rect x="58.1" y="143.7" width="29.8" height="29.4" fill="#707070"/>
<rect x="87.3" y="143.7" width="29.8" height="29.4" fill="#707070"/>
<rect x="116.5" y="143.7" width="24.3" height="29.4" fill="#777777"/>
<rect x="140.2" y="143.7" width="29.6" height="29.4" fill="#6c6c6c"/>
<rect x="169.2" y="143.7" width="29.6" height="29.4" fill="#606060"/>
<rect x="198.2" y="143.7" width="29.6" height="29.4" fill="#595959"/>
<rect x="227.2" y="143.7" width="36.1" height="29.4" fill="#5d5d5d"/>
<rect x="262.7" y="143.7" width="30.6" height="29.4" fill="#5d5d5d"/>
<rect x="-30.3" y="172.5" width="30.6" height="29.4" fill="#797979"/>
<rect x="-0.3" y="172.5" width="29.8" height="29.4" fill="#797979"/>
<rect x="28.9" y="172.5" width="29.8" height="29.4" fill="#797979"/>
<rect x="58.1" y="172.5" width="29.8" height="29.4" fill="#757575"/>
<rect x="87.3" y="172.5" width="29.8" height="29.4" fill="#777777"/>
<rect x="116.5" y="172.5" width="24.3" height="29.4" fill="#7d7d7d"/>
<rect x="140.2" y="172.5" width="29.6" height="29.4" fill="#7f7f7f"/>
<rect x="169.2" y="172.5" width="29.6" height="29.4" fill="#6a6a6a"/>
<rect x="198.2" y="172.5" width="29.6" height="29.4" fill="#636363"/>
<rect x="227.2" y="172.5" width="36.1" height="29.4" fill="#737373"/>
<rect x="262.7" y="172.5" width="30.6" height="29.4" fill="#737373"/>
<rect x="-30.3" y="201.3" width="30.6" height="29.4" fill="#828282"/>
<rect x="-0.3" y="201.3" width="29.8" height="29.4" fill="#828282"/>
<rect x="28.9" y="201.3" width="29.8" height="29.4" fill="#828282"/>
<rect x="58.1" y="201.3" width="29.8" height="29.4" fill="#7d7d7d"/>
<rect x="87.3" y="201.3" width="29.8" height="29.4" fill="#7d7d7d"/>
<rect x="116.5" y="201.3" width="24.3" height="29.4" fill="#7f7f7f"/>
<rect x="140.2" y="201.3" width="29.6" height="29.4" fill="#7d7d7d"/>
<rect x="169.2" y="201.3" width="29.6" height="29.4" fill="#757575"/>
<rect x="198.2" y="201.3" width="29.6" height="29.4" fill="#757575"/>
<rect x="227.2" y="201.3" width="36.1" height="29.4" fill="#7c7c7c"/>
<rect x="262.7" y="201.3" width="30.6" height="29.4" fill="#7c7c7c"/>
<rect x="-30.3" y="230.1" width="30.6" height="29.4" fill="#8c8c8c"/>
<rect x="-0.3" y="230.1" width="29.8" height="29.4" fill="#8c8c8c"/>
<rect x="28.9" y="230.1" width="29.8" height="29.4" fill="#939393"/>
<rect x="58.1" y="230.1" width="29.8" height="29.4" fill="#8c8c8c"/>
<rect x="87.3" y="230.1" width="29.8" height="29.4" fill="#939393"/>
<rect x="116.5" y="230.1" width="24.3" height="29.4" fill="#8f8f8f"/>
<rect x="140.2" y="230.1" width="29.6" height="29.4" fill="#828282"/>
<rect x="169.2" y="230.1" width="29.6" height="29.4" fill="#7d7d7d"/>
<rect x="198.2" y="230.1" width="29.6" height="29.4" fill="#7c7c7c"/>
<rect x="227.2" y="230.1" width="36.1" height="29.4" fill="#828282"/>
<rect x="262.7" y="230.1" width="30.6" height="29.4" fill="#828282"/>
<rect x="-30.3" y="258.9" width="30.6" height="29.4" fill="#8f8f8f"/>
<rect x="-0.3" y="258.9" width="29.8" height="29.4" fill="#8f8f8f"/>
<rect x="28.9" y="258.9" width="29.8" height="29.4" fill="#999999"/>
<rect x="58.1" y="258.9" width="29.8" height="29.4" fill="#9c9c9c"/>
<rect x="87.3" y="258.9" width="29.8" height="29.4" fill="#a6a6a6"/>
<rect x="116.5" y="258.9" width="24.3" height="29.4" fill="#8c8c8c"/>
<rect x="140.2" y="258.9" width="29.6" height="29.4" fill="#888888"/>
<rect x="169.2" y="258.9" width="29.6" height="29.4" fill="#828282"/>
<rect x="198.2" y="258.9" width="29.6" height="29.4" fill="#7f7f7f"/>
<rect x="227.2" y="258.9" width="36.1" height="29.4" fill="#7f7f7f"/>
<rect x="262.7" y="258.9" width="30.6" height="29.4" fill="#7f7f7f"/>
<rect x="-30.3" y="287.7" width="30.6" height="29.4" fill="#8f8f8f"/>
<rect x="-0.3" y="287.7" width="29.8" height="29.4" fill="#8f8f8f"/>
<rect x="28.9" y="287.7" width="29.8" height="29.4" fill="#999999"/>
<rect x="58.1" y="287.7" width="29.8" height="29.4" fill="#9c9c9c"/>
<rect x="87.3" y="287.7" width="29.8" height="29.4" fill="#a6a6a6"/>
<rect x="116.5" y="287.7" width="24.3" height="29.4" fill="#8c8c8c"/>
<rect x="140.2" y="287.7" width="29.6" height="29.4" fill="#888888"/>
<rect x="169.2" y="287.7" width="29.6" height="29.4" fill="#828282"/>
<rect x="198.2" y="287.7" width="29.6" height="29.4" fill="#7f7f7f"/>
<rect x="227.2" y="287.7" width="36.1" height="29.4" fill="#7f7f7f"/>
<rect x="262.7" y="287.7" width="30.6" height="29.4" fill="#7f7f7f"/>
</g>
<polyline points="120.0,255.0 128.0,266.0 136.0,276.0 142.0,288.0" fill="none" stroke="#4c4c4c" stroke-width="2.2" stroke-linecap="round" stroke-linejoin="round" filter="url(#f1_0)"/>
<ellipse cx="57.0" cy="245.0" rx="6.8" ry="1.7" transform="rotate(0 57.0 245.0)" fill="#dfdfdf" filter="url(#f1_0)"/>
<ellipse cx="243.0" cy="178.0" rx="1.6" ry="4.5" transform="rotate(12 243.0 178.0)" fill="#202020" filter="url(#f0_8)"/>
<polyline points="232.0,16.0 236.0,19.0 238.0,23.0" fill="none" stroke="#262626" stroke-width="1.6" stroke-linecap="round" stroke-linejoin="round" filter="url(#f0_6)"/>
<ellipse cx="230.5" cy="23.5" rx="3.5" ry="1.8" transform="rotate(0 230.5 23.5)" fill="#8c8c8c" filter="url(#f1_0)"/>
<ellipse cx="241.5" cy="178.0" rx="2.6" ry="5.5" transform="rotate(12 241.5 178.0)" fill="#202020" filter="url(#f1_0)"/>
<ellipse cx="193.9" cy="245.5" rx="2.3" ry="2.0" transform="rotate(0 193.9 245.5)" fill="#1a1a1a" filter="url(#f0_6)"/>
<polygon points="92.0,47.0 110.0,44.0 124.0,43.0 140.0,48.0 148.0,58.0 150.0,66.0 140.0,71.0 124.0,69.0 108.0,67.0 95.0,63.0" fill="#4c4c4c" filter="url(#f2_5)"/>
<polygon points="131.5,100.2 140.4,101.3 149.3,109.1 148.2,115.7 140.4,113.5 133.7,108.0" fill="#3c3c3c" filter="url(#f1_5)"/>
<polygon points="151.0,144.7 155.5,143.8 157.8,153.6 161.2,170.2 164.6,189.2 163.0,192.5 159.8,181.4 154.5,164.7 151.2,153.6" fill="#464646" filter="url(#f1_2)"/>
<polyline points="117.0,176.0 139.0,194.0 163.0,196.0" fill="none" stroke="#acacac" stroke-width="3.0" stroke-linecap="round" stroke-linejoin="round" filter="url(#f1_3)"/>
<ellipse cx="108.0" cy="268.0" rx="12.0" ry="8.0" transform="rotate(20 108.0 268.0)" fill="#bfbfbf" filter="url(#f2_2)"/>
<ellipse cx="61.0" cy="269.0" rx="3.5" ry="7.0" transform="rotate(10 61.0 269.0)" fill="#b9b9b9" filter="url(#f2_2)"/>
<ellipse cx="151.0" cy="203.0" rx="13.0" ry="6.0" transform="rotate(10 151.0 203.0)" fill="#a6a6a6" filter="url(#f2_2)"/>
<ellipse cx="188.0" cy="274.0" rx="4.0" ry="7.5" transform="rotate(15 188.0 274.0)" fill="#acacac" filter="url(#f2_2)"/>
<ellipse cx="195.0" cy="250.0" rx="6.0" ry="3.5" transform="rotate(0 195.0 250.0)" fill="#9f9f9f" filter="url(#f2_2)"/>
<ellipse cx="236.0" cy="264.0" rx="8.0" ry="6.0" transform="rotate(0 236.0 264.0)" fill="#9f9f9f" filter="url(#f2_2)"/>
</g>
<path d="M5.1,0.0L8.9,285.6M35.6,0.2L38.2,285.8M66.1,0.3L67.5,286.0M96.7,0.4L96.8,286.2M127.2,0.6L126.1,286.4M157.8,0.7L155.4,286.6M188.3,0.9L184.7,286.7M218.9,1.0L214.0,286.9M249.4,1.1L243.3,287.1M0.0,1.9Q131.3,1.2 262.6,3.1M0.5,32.6Q131.2,31.6 261.8,33.8M0.9,63.3Q131.0,62.1 261.1,64.6M1.3,94.0Q130.9,92.6 260.4,95.3M1.7,124.7Q130.7,123.1 259.7,126.1M2.2,155.4Q130.6,153.5 259.0,156.8M2.6,186.1Q130.5,184.0 258.3,187.6M3.0,216.8Q130.3,214.5 257.6,218.3M3.5,247.5Q130.2,245.0 256.9,249.0M3.9,278.2Q130.0,275.5 256.2,279.8" fill="none" stroke="#222" stroke-width="0.9" stroke-dasharray="1.1 2.1" opacity="0.5"/>
</g>
<use href="#ol" fill="none" stroke="#000" stroke-width="2.8" stroke-linejoin="round"/>
<path d="M0,0Q131.7,-0.6 262.6,1.2L256,287.2Q130,283.6 4,285.6Z" fill="none" stroke="#222" stroke-width="1.3"/>
</g>
<g transform="translate(87.0,1167.9)">
<g clip-path="url(#cq)"><g filter="url(#jet)">
<g filter="url(#bl)">
<rect x="-30.3" y="-29.1" width="30.6" height="29.4" fill="#575757"/>
<rect x="-0.3" y="-29.1" width="29.8" height="29.4" fill="#575757"/>
<rect x="28.9" y="-29.1" width="29.8" height="29.4" fill="#595959"/>
<rect x="58.1" y="-29.1" width="29.8" height="29.4" fill="#5d5d5d"/>
<rect x="87.3" y="-29.1" width="29.8" height="29.4" fill="#595959"/>
<rect x="116.5" y="-29.1" width="24.3" height="29.4" fill="#575757"/>
<rect x="140.2" y="-29.1" width="29.6" height="29.4" fill="#595959"/>
<rect x="169.2" y="-29.1" width="29.6" height="29.4" fill="#575757"/>
<rect x="198.2" y="-29.1" width="29.6" height="29.4" fill="#555555"/>
<rect x="227.2" y="-29.1" width="36.1" height="29.4" fill="#595959"/>
<rect x="262.7" y="-29.1" width="30.6" height="29.4" fill="#595959"/>
<rect x="-30.3" y="-0.3" width="30.6" height="29.4" fill="#575757"/>
<rect x="-0.3" y="-0.3" width="29.8" height="29.4" fill="#575757"/>
<rect x="28.9" y="-0.3" width="29.8" height="29.4" fill="#595959"/>
<rect x="58.1" y="-0.3" width="29.8" height="29.4" fill="#5d5d5d"/>
<rect x="87.3" y="-0.3" width="29.8" height="29.4" fill="#595959"/>
<rect x="116.5" y="-0.3" width="24.3" height="29.4" fill="#575757"/>
<rect x="140.2" y="-0.3" width="29.6" height="29.4" fill="#595959"/>
<rect x="169.2" y="-0.3" width="29.6" height="29.4" fill="#575757"/>
<rect x="198.2" y="-0.3" width="29.6" height="29.4" fill="#555555"/>
<rect x="227.2" y="-0.3" width="36.1" height="29.4" fill="#595959"/>
<rect x="262.7" y="-0.3" width="30.6" height="29.4" fill="#595959"/>
<rect x="-30.3" y="28.5" width="30.6" height="29.4" fill="#555555"/>
<rect x="-0.3" y="28.5" width="29.8" height="29.4" fill="#555555"/>
<rect x="28.9" y="28.5" width="29.8" height="29.4" fill="#575757"/>
<rect x="58.1" y="28.5" width="29.8" height="29.4" fill="#595959"/>
<rect x="87.3" y="28.5" width="29.8" height="29.4" fill="#505050"/>
<rect x="116.5" y="28.5" width="24.3" height="29.4" fill="#4c4c4c"/>
<rect x="140.2" y="28.5" width="29.6" height="29.4" fill="#545454"/>
<rect x="169.2" y="28.5" width="29.6" height="29.4" fill="#545454"/>
<rect x="198.2" y="28.5" width="29.6" height="29.4" fill="#505050"/>
<rect x="227.2" y="28.5" width="36.1" height="29.4" fill="#535353"/>
<rect x="262.7" y="28.5" width="30.6" height="29.4" fill="#535353"/>
<rect x="-30.3" y="57.3" width="30.6" height="29.4" fill="#575757"/>
<rect x="-0.3" y="57.3" width="29.8" height="29.4" fill="#575757"/>
<rect x="28.9" y="57.3" width="29.8" height="29.4" fill="#575757"/>
<rect x="58.1" y="57.3" width="29.8" height="29.4" fill="#545454"/>
<rect x="87.3" y="57.3" width="29.8" height="29.4" fill="#535353"/>
<rect x="116.5" y="57.3" width="24.3" height="29.4" fill="#4c4c4c"/>
<rect x="140.2" y="57.3" width="29.6" height="29.4" fill="#545454"/>
<rect x="169.2" y="57.3" width="29.6" height="29.4" fill="#535353"/>
<rect x="198.2" y="57.3" width="29.6" height="29.4" fill="#505050"/>
<rect x="227.2" y="57.3" width="36.1" height="29.4" fill="#505050"/>
<rect x="262.7" y="57.3" width="30.6" height="29.4" fill="#505050"/>
<rect x="-30.3" y="86.1" width="30.6" height="29.4" fill="#5c5c5c"/>
<rect x="-0.3" y="86.1" width="29.8" height="29.4" fill="#5c5c5c"/>
<rect x="28.9" y="86.1" width="29.8" height="29.4" fill="#595959"/>
<rect x="58.1" y="86.1" width="29.8" height="29.4" fill="#5c5c5c"/>
<rect x="87.3" y="86.1" width="29.8" height="29.4" fill="#636363"/>
<rect x="116.5" y="86.1" width="24.3" height="29.4" fill="#636363"/>
<rect x="140.2" y="86.1" width="29.6" height="29.4" fill="#606060"/>
<rect x="169.2" y="86.1" width="29.6" height="29.4" fill="#595959"/>
<rect x="198.2" y="86.1" width="29.6" height="29.4" fill="#535353"/>
<rect x="227.2" y="86.1" width="36.1" height="29.4" fill="#535353"/>
<rect x="262.7" y="86.1" width="30.6" height="29.4" fill="#535353"/>
<rect x="-30.3" y="114.9" width="30.6" height="29.4" fill="#626262"/>
<rect x="-0.3" y="114.9" width="29.8" height="29.4" fill="#626262"/>
<rect x="28.9" y="114.9" width="29.8" height="29.4" fill="#606060"/>
<rect x="58.1" y="114.9" width="29.8" height="29.4" fill="#606060"/>
<rect x="87.3" y="114.9" width="29.8" height="29.4" fill="#666666"/>
<rect x="116.5" y="114.9" width="24.3" height="29.4" fill="#6f6f6f"/>
<rect x="140.2" y="114.9" width="29.6" height="29.4" fill="#737373"/>
<rect x="169.2" y="114.9" width="29.6" height="29.4" fill="#606060"/>
<rect x="198.2" y="114.9" width="29.6" height="29.4" fill="#575757"/>
<rect x="227.2" y="114.9" width="36.1" height="29.4" fill="#575757"/>
<rect x="262.7" y="114.9" width="30.6" height="29.4" fill="#575757"/>
<rect x="-30.3" y="143.7" width="30.6" height="29.4" fill="#6c6c6c"/>
<rect x="-0.3" y="143.7" width="29.8" height="29.4" fill="#6c6c6c"/>
<rect x="28.9" y="143.7" width="29.8" height="29.4" fill="#6a6a6a"/>
<rect x="58.1" y="143.7" width="29.8" height="29.4" fill="#636363"/>
<rect x="87.3" y="143.7" width="29.8" height="29.4" fill="#636363"/>
<rect x="116.5" y="143.7" width="24.3" height="29.4" fill="#6f6f6f"/>
<rect x="140.2" y="143.7" width="29.6" height="29.4" fill="#7f7f7f"/>
<rect x="169.2" y="143.7" width="29.6" height="29.4" fill="#6a6a6a"/>
<rect x="198.2" y="143.7" width="29.6" height="29.4" fill="#5d5d5d"/>
<rect x="227.2" y="143.7" width="36.1" height="29.4" fill="#5c5c5c"/>
<rect x="262.7" y="143.7" width="30.6" height="29.4" fill="#5c5c5c"/>
<rect x="-30.3" y="172.5" width="30.6" height="29.4" fill="#737373"/>
<rect x="-0.3" y="172.5" width="29.8" height="29.4" fill="#737373"/>
<rect x="28.9" y="172.5" width="29.8" height="29.4" fill="#737373"/>
<rect x="58.1" y="172.5" width="29.8" height="29.4" fill="#6a6a6a"/>
<rect x="87.3" y="172.5" width="29.8" height="29.4" fill="#6a6a6a"/>
<rect x="116.5" y="172.5" width="24.3" height="29.4" fill="#797979"/>
<rect x="140.2" y="172.5" width="29.6" height="29.4" fill="#868686"/>
<rect x="169.2" y="172.5" width="29.6" height="29.4" fill="#6c6c6c"/>
<rect x="198.2" y="172.5" width="29.6" height="29.4" fill="#636363"/>
<rect x="227.2" y="172.5" width="36.1" height="29.4" fill="#6f6f6f"/>
<rect x="262.7" y="172.5" width="30.6" height="29.4" fill="#6f6f6f"/>
<rect x="-30.3" y="201.3" width="30.6" height="29.4" fill="#7c7c7c"/>
<rect x="-0.3" y="201.3" width="29.8" height="29.4" fill="#7c7c7c"/>
<rect x="28.9" y="201.3" width="29.8" height="29.4" fill="#7f7f7f"/>
<rect x="58.1" y="201.3" width="29.8" height="29.4" fill="#797979"/>
<rect x="87.3" y="201.3" width="29.8" height="29.4" fill="#757575"/>
<rect x="116.5" y="201.3" width="24.3" height="29.4" fill="#7c7c7c"/>
<rect x="140.2" y="201.3" width="29.6" height="29.4" fill="#7d7d7d"/>
<rect x="169.2" y="201.3" width="29.6" height="29.4" fill="#777777"/>
<rect x="198.2" y="201.3" width="29.6" height="29.4" fill="#777777"/>
<rect x="227.2" y="201.3" width="36.1" height="29.4" fill="#828282"/>
<rect x="262.7" y="201.3" width="30.6" height="29.4" fill="#828282"/>
<rect x="-30.3" y="230.1" width="30.6" height="29.4" fill="#8a8a8a"/>
<rect x="-0.3" y="230.1" width="29.8" height="29.4" fill="#8a8a8a"/>
<rect x="28.9" y="230.1" width="29.8" height="29.4" fill="#8f8f8f"/>
<rect x="58.1" y="230.1" width="29.8" height="29.4" fill="#8a8a8a"/>
<rect x="87.3" y="230.1" width="29.8" height="29.4" fill="#8a8a8a"/>
<rect x="116.5" y="230.1" width="24.3" height="29.4" fill="#8a8a8a"/>
<rect x="140.2" y="230.1" width="29.6" height="29.4" fill="#8f8f8f"/>
<rect x="169.2" y="230.1" width="29.6" height="29.4" fill="#909090"/>
<rect x="198.2" y="230.1" width="29.6" height="29.4" fill="#959595"/>
<rect x="227.2" y="230.1" width="36.1" height="29.4" fill="#909090"/>
<rect x="262.7" y="230.1" width="30.6" height="29.4" fill="#909090"/>
<rect x="-30.3" y="258.9" width="30.6" height="29.4" fill="#8c8c8c"/>
<rect x="-0.3" y="258.9" width="29.8" height="29.4" fill="#8c8c8c"/>
<rect x="28.9" y="258.9" width="29.8" height="29.4" fill="#909090"/>
<rect x="58.1" y="258.9" width="29.8" height="29.4" fill="#909090"/>
<rect x="87.3" y="258.9" width="29.8" height="29.4" fill="#959595"/>
<rect x="116.5" y="258.9" width="24.3" height="29.4" fill="#909090"/>
<rect x="140.2" y="258.9" width="29.6" height="29.4" fill="#969696"/>
<rect x="169.2" y="258.9" width="29.6" height="29.4" fill="#9f9f9f"/>
<rect x="198.2" y="258.9" width="29.6" height="29.4" fill="#9c9c9c"/>
<rect x="227.2" y="258.9" width="36.1" height="29.4" fill="#959595"/>
<rect x="262.7" y="258.9" width="30.6" height="29.4" fill="#959595"/>
<rect x="-30.3" y="287.7" width="30.6" height="29.4" fill="#8c8c8c"/>
<rect x="-0.3" y="287.7" width="29.8" height="29.4" fill="#8c8c8c"/>
<rect x="28.9" y="287.7" width="29.8" height="29.4" fill="#909090"/>
<rect x="58.1" y="287.7" width="29.8" height="29.4" fill="#909090"/>
<rect x="87.3" y="287.7" width="29.8" height="29.4" fill="#959595"/>
<rect x="116.5" y="287.7" width="24.3" height="29.4" fill="#909090"/>
<rect x="140.2" y="287.7" width="29.6" height="29.4" fill="#969696"/>
<rect x="169.2" y="287.7" width="29.6" height="29.4" fill="#9f9f9f"/>
<rect x="198.2" y="287.7" width="29.6" height="29.4" fill="#9c9c9c"/>
<rect x="227.2" y="287.7" width="36.1" height="29.4" fill="#959595"/>
<rect x="262.7" y="287.7" width="30.6" height="29.4" fill="#959595"/>
</g>
<polyline points="120.0,255.0 128.0,266.0 136.0,276.0 142.0,288.0" fill="none" stroke="#4c4c4c" stroke-width="2.2" stroke-linecap="round" stroke-linejoin="round" filter="url(#f1_0)"/>
<ellipse cx="57.0" cy="245.0" rx="6.8" ry="1.7" transform="rotate(0 57.0 245.0)" fill="#dfdfdf" filter="url(#f1_0)"/>
<ellipse cx="243.0" cy="178.0" rx="1.6" ry="4.5" transform="rotate(12 243.0 178.0)" fill="#202020" filter="url(#f0_8)"/>
<polyline points="232.0,16.0 236.0,19.0 238.0,23.0" fill="none" stroke="#262626" stroke-width="1.6" stroke-linecap="round" stroke-linejoin="round" filter="url(#f0_6)"/>
<ellipse cx="230.5" cy="23.5" rx="3.5" ry="1.8" transform="rotate(0 230.5 23.5)" fill="#8c8c8c" filter="url(#f1_0)"/>
<ellipse cx="241.5" cy="178.0" rx="2.6" ry="5.5" transform="rotate(12 241.5 178.0)" fill="#202020" filter="url(#f1_0)"/>
<ellipse cx="193.9" cy="245.5" rx="2.3" ry="2.0" transform="rotate(0 193.9 245.5)" fill="#1a1a1a" filter="url(#f0_6)"/>
<ellipse cx="241.0" cy="156.0" rx="2.0" ry="3.5" transform="rotate(10 241.0 156.0)" fill="#2d2d2d" filter="url(#f0_8)"/>
<polygon points="92.0,47.0 110.0,44.0 124.0,43.0 140.0,48.0 148.0,58.0 150.0,66.0 140.0,71.0 124.0,69.0 108.0,67.0 95.0,63.0" fill="#4a4a4a" filter="url(#f3_0)"/>
<polyline points="151.0,150.0 156.0,168.0 162.0,188.0" fill="none" stroke="#bfbfbf" stroke-width="4.5" stroke-linecap="round" stroke-linejoin="round" filter="url(#f1_3)"/>
<polyline points="126.0,186.0 140.0,192.0 161.0,196.0" fill="none" stroke="#bfbfbf" stroke-width="3.2" stroke-linecap="round" stroke-linejoin="round" filter="url(#f1_1)"/>
<ellipse cx="142.7" cy="142.0" rx="4.0" ry="4.5" transform="rotate(0 142.7 142.0)" fill="#bfbfbf" filter="url(#f1_5)"/>
<ellipse cx="221.0" cy="257.0" rx="8.0" ry="3.5" transform="rotate(10 221.0 257.0)" fill="#bfbfbf" filter="url(#f2_2)"/>
<ellipse cx="188.0" cy="274.0" rx="4.0" ry="7.5" transform="rotate(15 188.0 274.0)" fill="#c6c6c6" filter="url(#f2_2)"/>
<ellipse cx="108.0" cy="268.0" rx="12.0" ry="8.0" transform="rotate(20 108.0 268.0)" fill="#a6a6a6" filter="url(#f2_2)"/>
<ellipse cx="61.0" cy="269.0" rx="3.5" ry="7.0" transform="rotate(10 61.0 269.0)" fill="#b3b3b3" filter="url(#f2_2)"/>
<ellipse cx="236.0" cy="264.0" rx="8.0" ry="6.0" transform="rotate(0 236.0 264.0)" fill="#acacac" filter="url(#f2_2)"/>
<ellipse cx="151.0" cy="203.0" rx="13.0" ry="6.0" transform="rotate(10 151.0 203.0)" fill="#9f9f9f" filter="url(#f2_2)"/>
</g>
<path d="M5.1,0.0L8.9,285.6M35.6,0.2L38.2,285.8M66.1,0.3L67.5,286.0M96.7,0.4L96.8,286.2M127.2,0.6L126.1,286.4M157.8,0.7L155.4,286.6M188.3,0.9L184.7,286.7M218.9,1.0L214.0,286.9M249.4,1.1L243.3,287.1M0.0,1.9Q131.3,1.2 262.6,3.1M0.5,32.6Q131.2,31.6 261.8,33.8M0.9,63.3Q131.0,62.1 261.1,64.6M1.3,94.0Q130.9,92.6 260.4,95.3M1.7,124.7Q130.7,123.1 259.7,126.1M2.2,155.4Q130.6,153.5 259.0,156.8M2.6,186.1Q130.5,184.0 258.3,187.6M3.0,216.8Q130.3,214.5 257.6,218.3M3.5,247.5Q130.2,245.0 256.9,249.0M3.9,278.2Q130.0,275.5 256.2,279.8" fill="none" stroke="#222" stroke-width="0.9" stroke-dasharray="1.1 2.1" opacity="0.5"/>
</g>
<use href="#ol" fill="none" stroke="#000" stroke-width="2.8" stroke-linejoin="round"/>
<path d="M0,0Q131.7,-0.6 262.6,1.2L256,287.2Q130,283.6 4,285.6Z" fill="none" stroke="#222" stroke-width="1.3"/>
</g>
<g transform="translate(410.8,1167.9)">
<g clip-path="url(#cq)"><g filter="url(#jetm)">
<g filter="url(#bl)">
<rect x="-30.3" y="-29.1" width="30.6" height="29.4" fill="#494949"/>
<rect x="-0.3" y="-29.1" width="29.8" height="29.4" fill="#494949"/>
<rect x="28.9" y="-29.1" width="29.8" height="29.4" fill="#494949"/>
<rect x="58.1" y="-29.1" width="29.8" height="29.4" fill="#4a4a4a"/>
<rect x="87.3" y="-29.1" width="29.8" height="29.4" fill="#494949"/>
<rect x="116.5" y="-29.1" width="24.3" height="29.4" fill="#444444"/>
<rect x="140.2" y="-29.1" width="29.6" height="29.4" fill="#444444"/>
<rect x="169.2" y="-29.1" width="29.6" height="29.4" fill="#424242"/>
<rect x="198.2" y="-29.1" width="29.6" height="29.4" fill="#414141"/>
<rect x="227.2" y="-29.1" width="36.1" height="29.4" fill="#424242"/>
<rect x="262.7" y="-29.1" width="30.6" height="29.4" fill="#424242"/>
<rect x="-30.3" y="-0.3" width="30.6" height="29.4" fill="#494949"/>
<rect x="-0.3" y="-0.3" width="29.8" height="29.4" fill="#494949"/>
<rect x="28.9" y="-0.3" width="29.8" height="29.4" fill="#494949"/>
<rect x="58.1" y="-0.3" width="29.8" height="29.4" fill="#4a4a4a"/>
<rect x="87.3" y="-0.3" width="29.8" height="29.4" fill="#494949"/>
<rect x="116.5" y="-0.3" width="24.3" height="29.4" fill="#444444"/>
<rect x="140.2" y="-0.3" width="29.6" height="29.4" fill="#444444"/>
<rect x="169.2" y="-0.3" width="29.6" height="29.4" fill="#424242"/>
<rect x="198.2" y="-0.3" width="29.6" height="29.4" fill="#414141"/>
<rect x="227.2" y="-0.3" width="36.1" height="29.4" fill="#424242"/>
<rect x="262.7" y="-0.3" width="30.6" height="29.4" fill="#424242"/>
<rect x="-30.3" y="28.5" width="30.6" height="29.4" fill="#464646"/>
<rect x="-0.3" y="28.5" width="29.8" height="29.4" fill="#464646"/>
<rect x="28.9" y="28.5" width="29.8" height="29.4" fill="#494949"/>
<rect x="58.1" y="28.5" width="29.8" height="29.4" fill="#4a4a4a"/>
<rect x="87.3" y="28.5" width="29.8" height="29.4" fill="#404040"/>
<rect x="116.5" y="28.5" width="24.3" height="29.4" fill="#3c3c3c"/>
<rect x="140.2" y="28.5" width="29.6" height="29.4" fill="#424242"/>
<rect x="169.2" y="28.5" width="29.6" height="29.4" fill="#404040"/>
<rect x="198.2" y="28.5" width="29.6" height="29.4" fill="#3e3e3e"/>
<rect x="227.2" y="28.5" width="36.1" height="29.4" fill="#404040"/>
<rect x="262.7" y="28.5" width="30.6" height="29.4" fill="#404040"/>
<rect x="-30.3" y="57.3" width="30.6" height="29.4" fill="#4a4a4a"/>
<rect x="-0.3" y="57.3" width="29.8" height="29.4" fill="#4a4a4a"/>
<rect x="28.9" y="57.3" width="29.8" height="29.4" fill="#464646"/>
<rect x="58.1" y="57.3" width="29.8" height="29.4" fill="#444444"/>
<rect x="87.3" y="57.3" width="29.8" height="29.4" fill="#404040"/>
<rect x="116.5" y="57.3" width="24.3" height="29.4" fill="#3d3d3d"/>
<rect x="140.2" y="57.3" width="29.6" height="29.4" fill="#444444"/>
<rect x="169.2" y="57.3" width="29.6" height="29.4" fill="#404040"/>
<rect x="198.2" y="57.3" width="29.6" height="29.4" fill="#3d3d3d"/>
<rect x="227.2" y="57.3" width="36.1" height="29.4" fill="#3c3c3c"/>
<rect x="262.7" y="57.3" width="30.6" height="29.4" fill="#3c3c3c"/>
<rect x="-30.3" y="86.1" width="30.6" height="29.4" fill="#535353"/>
<rect x="-0.3" y="86.1" width="29.8" height="29.4" fill="#535353"/>
<rect x="28.9" y="86.1" width="29.8" height="29.4" fill="#4c4c4c"/>
<rect x="58.1" y="86.1" width="29.8" height="29.4" fill="#494949"/>
<rect x="87.3" y="86.1" width="29.8" height="29.4" fill="#505050"/>
<rect x="116.5" y="86.1" width="24.3" height="29.4" fill="#505050"/>
<rect x="140.2" y="86.1" width="29.6" height="29.4" fill="#4a4a4a"/>
<rect x="169.2" y="86.1" width="29.6" height="29.4" fill="#404040"/>
<rect x="198.2" y="86.1" width="29.6" height="29.4" fill="#3d3d3d"/>
<rect x="227.2" y="86.1" width="36.1" height="29.4" fill="#3c3c3c"/>
<rect x="262.7" y="86.1" width="30.6" height="29.4" fill="#3c3c3c"/>
<rect x="-30.3" y="114.9" width="30.6" height="29.4" fill="#595959"/>
<rect x="-0.3" y="114.9" width="29.8" height="29.4" fill="#595959"/>
<rect x="28.9" y="114.9" width="29.8" height="29.4" fill="#555555"/>
<rect x="58.1" y="114.9" width="29.8" height="29.4" fill="#4f4f4f"/>
<rect x="87.3" y="114.9" width="29.8" height="29.4" fill="#555555"/>
<rect x="116.5" y="114.9" width="24.3" height="29.4" fill="#5c5c5c"/>
<rect x="140.2" y="114.9" width="29.6" height="29.4" fill="#5c5c5c"/>
<rect x="169.2" y="114.9" width="29.6" height="29.4" fill="#464646"/>
<rect x="198.2" y="114.9" width="29.6" height="29.4" fill="#404040"/>
<rect x="227.2" y="114.9" width="36.1" height="29.4" fill="#3e3e3e"/>
<rect x="262.7" y="114.9" width="30.6" height="29.4" fill="#3e3e3e"/>
<rect x="-30.3" y="143.7" width="30.6" height="29.4" fill="#626262"/>
<rect x="-0.3" y="143.7" width="29.8" height="29.4" fill="#626262"/>
<rect x="28.9" y="143.7" width="29.8" height="29.4" fill="#606060"/>
<rect x="58.1" y="143.7" width="29.8" height="29.4" fill="#595959"/>
<rect x="87.3" y="143.7" width="29.8" height="29.4" fill="#5c5c5c"/>
<rect x="116.5" y="143.7" width="24.3" height="29.4" fill="#626262"/>
<rect x="140.2" y="143.7" width="29.6" height="29.4" fill="#636363"/>
<rect x="169.2" y="143.7" width="29.6" height="29.4" fill="#535353"/>
<rect x="198.2" y="143.7" width="29.6" height="29.4" fill="#464646"/>
<rect x="227.2" y="143.7" width="36.1" height="29.4" fill="#424242"/>
<rect x="262.7" y="143.7" width="30.6" height="29.4" fill="#424242"/>
<rect x="-30.3" y="172.5" width="30.6" height="29.4" fill="#6f6f6f"/>
<rect x="-0.3" y="172.5" width="29.8" height="29.4" fill="#6f6f6f"/>
<rect x="28.9" y="172.5" width="29.8" height="29.4" fill="#6c6c6c"/>
<rect x="58.1" y="172.5" width="29.8" height="29.4" fill="#666666"/>
<rect x="87.3" y="172.5" width="29.8" height="29.4" fill="#666666"/>
<rect x="116.5" y="172.5" width="24.3" height="29.4" fill="#6a6a6a"/>
<rect x="140.2" y="172.5" width="29.6" height="29.4" fill="#6f6f6f"/>
<rect x="169.2" y="172.5" width="29.6" height="29.4" fill="#606060"/>
<rect x="198.2" y="172.5" width="29.6" height="29.4" fill="#535353"/>
<rect x="227.2" y="172.5" width="36.1" height="29.4" fill="#4f4f4f"/>
<rect x="262.7" y="172.5" width="30.6" height="29.4" fill="#4f4f4f"/>
<rect x="-30.3" y="201.3" width="30.6" height="29.4" fill="#797979"/>
<rect x="-0.3" y="201.3" width="29.8" height="29.4" fill="#797979"/>
<rect x="28.9" y="201.3" width="29.8" height="29.4" fill="#797979"/>
<rect x="58.1" y="201.3" width="29.8" height="29.4" fill="#707070"/>
<rect x="87.3" y="201.3" width="29.8" height="29.4" fill="#6c6c6c"/>
<rect x="116.5" y="201.3" width="24.3" height="29.4" fill="#6c6c6c"/>
<rect x="140.2" y="201.3" width="29.6" height="29.4" fill="#6c6c6c"/>
<rect x="169.2" y="201.3" width="29.6" height="29.4" fill="#696969"/>
<rect x="198.2" y="201.3" width="29.6" height="29.4" fill="#666666"/>
<rect x="227.2" y="201.3" width="36.1" height="29.4" fill="#636363"/>
<rect x="262.7" y="201.3" width="30.6" height="29.4" fill="#636363"/>
<rect x="-30.3" y="230.1" width="30.6" height="29.4" fill="#868686"/>
<rect x="-0.3" y="230.1" width="29.8" height="29.4" fill="#868686"/>
<rect x="28.9" y="230.1" width="29.8" height="29.4" fill="#888888"/>
<rect x="58.1" y="230.1" width="29.8" height="29.4" fill="#828282"/>
<rect x="87.3" y="230.1" width="29.8" height="29.4" fill="#828282"/>
<rect x="116.5" y="230.1" width="24.3" height="29.4" fill="#868686"/>
<rect x="140.2" y="230.1" width="29.6" height="29.4" fill="#7f7f7f"/>
<rect x="169.2" y="230.1" width="29.6" height="29.4" fill="#737373"/>
<rect x="198.2" y="230.1" width="29.6" height="29.4" fill="#707070"/>
<rect x="227.2" y="230.1" width="36.1" height="29.4" fill="#757575"/>
<rect x="262.7" y="230.1" width="30.6" height="29.4" fill="#757575"/>
<rect x="-30.3" y="258.9" width="30.6" height="29.4" fill="#888888"/>
<rect x="-0.3" y="258.9" width="29.8" height="29.4" fill="#888888"/>
<rect x="28.9" y="258.9" width="29.8" height="29.4" fill="#8f8f8f"/>
<rect x="58.1" y="258.9" width="29.8" height="29.4" fill="#939393"/>
<rect x="87.3" y="258.9" width="29.8" height="29.4" fill="#939393"/>
<rect x="116.5" y="258.9" width="24.3" height="29.4" fill="#7f7f7f"/>
<rect x="140.2" y="258.9" width="29.6" height="29.4" fill="#939393"/>
<rect x="169.2" y="258.9" width="29.6" height="29.4" fill="#868686"/>
<rect x="198.2" y="258.9" width="29.6" height="29.4" fill="#7d7d7d"/>
<rect x="227.2" y="258.9" width="36.1" height="29.4" fill="#7c7c7c"/>
<rect x="262.7" y="258.9" width="30.6" height="29.4" fill="#7c7c7c"/>
<rect x="-30.3" y="287.7" width="30.6" height="29.4" fill="#888888"/>
<rect x="-0.3" y="287.7" width="29.8" height="29.4" fill="#888888"/>
<rect x="28.9" y="287.7" width="29.8" height="29.4" fill="#8f8f8f"/>
<rect x="58.1" y="287.7" width="29.8" height="29.4" fill="#939393"/>
<rect x="87.3" y="287.7" width="29.8" height="29.4" fill="#939393"/>
<rect x="116.5" y="287.7" width="24.3" height="29.4" fill="#7f7f7f"/>
<rect x="140.2" y="287.7" width="29.6" height="29.4" fill="#939393"/>
<rect x="169.2" y="287.7" width="29.6" height="29.4" fill="#868686"/>
<rect x="198.2" y="287.7" width="29.6" height="29.4" fill="#7d7d7d"/>
<rect x="227.2" y="287.7" width="36.1" height="29.4" fill="#7c7c7c"/>
<rect x="262.7" y="287.7" width="30.6" height="29.4" fill="#7c7c7c"/>
</g>
<polyline points="120.0,255.0 128.0,266.0 136.0,276.0 142.0,288.0" fill="none" stroke="#404040" stroke-width="2.2" stroke-linecap="round" stroke-linejoin="round" filter="url(#f1_0)"/>
<ellipse cx="57.0" cy="245.0" rx="6.8" ry="1.7" transform="rotate(0 57.0 245.0)" fill="#c6c6c6" filter="url(#f1_0)"/>
<ellipse cx="243.0" cy="178.0" rx="1.6" ry="4.5" transform="rotate(12 243.0 178.0)" fill="#202020" filter="url(#f0_8)"/>
<polyline points="232.0,16.0 236.0,19.0 238.0,23.0" fill="none" stroke="#262626" stroke-width="1.6" stroke-linecap="round" stroke-linejoin="round" filter="url(#f0_6)"/>
<ellipse cx="230.5" cy="23.5" rx="3.5" ry="1.8" transform="rotate(0 230.5 23.5)" fill="#8c8c8c" filter="url(#f1_0)"/>
<ellipse cx="241.5" cy="178.0" rx="2.6" ry="5.5" transform="rotate(12 241.5 178.0)" fill="#202020" filter="url(#f1_0)"/>
<ellipse cx="193.9" cy="245.5" rx="2.3" ry="2.0" transform="rotate(0 193.9 245.5)" fill="#1a1a1a" filter="url(#f0_6)"/>
<ellipse cx="241.0" cy="156.0" rx="2.0" ry="3.5" transform="rotate(10 241.0 156.0)" fill="#2d2d2d" filter="url(#f0_8)"/>
<polygon points="92.0,47.0 110.0,44.0 124.0,43.0 140.0,48.0 148.0,58.0 150.0,66.0 140.0,71.0 124.0,69.0 108.0,67.0 95.0,63.0" fill="#333333" filter="url(#f2_0)"/>
<polyline points="106.0,171.0 117.0,184.0 128.0,201.0 145.0,218.0 166.0,240.0" fill="none" stroke="#393939" stroke-width="1.8" stroke-linecap="round" stroke-linejoin="round" filter="url(#f0_7)"/>
<polyline points="126.0,186.0 140.0,192.0 161.0,196.0" fill="none" stroke="#9f9f9f" stroke-width="3.0" stroke-linecap="round" stroke-linejoin="round" filter="url(#f1_2)"/>
<ellipse cx="142.7" cy="142.0" rx="3.0" ry="3.0" transform="rotate(0 142.7 142.0)" fill="#8c8c8c" filter="url(#f1_5)"/>
<ellipse cx="108.0" cy="268.0" rx="12.0" ry="8.0" transform="rotate(20 108.0 268.0)" fill="#acacac" filter="url(#f2_2)"/>
<ellipse cx="61.0" cy="269.0" rx="3.5" ry="7.0" transform="rotate(10 61.0 269.0)" fill="#acacac" filter="url(#f2_2)"/>
<ellipse cx="151.0" cy="203.0" rx="13.0" ry="6.0" transform="rotate(10 151.0 203.0)" fill="#939393" filter="url(#f2_2)"/>
<ellipse cx="188.0" cy="274.0" rx="4.0" ry="7.5" transform="rotate(15 188.0 274.0)" fill="#999999" filter="url(#f2_2)"/>
<ellipse cx="137.0" cy="268.0" rx="11.0" ry="6.0" transform="rotate(20 137.0 268.0)" fill="#a3a3a3" filter="url(#f2_5)"/>
</g>
<path d="M5.1,0.0L8.9,285.6M35.6,0.2L38.2,285.8M66.1,0.3L67.5,286.0M96.7,0.4L96.8,286.2M127.2,0.6L126.1,286.4M157.8,0.7L155.4,286.6M188.3,0.9L184.7,286.7M218.9,1.0L214.0,286.9M249.4,1.1L243.3,287.1M0.0,1.9Q131.3,1.2 262.6,3.1M0.5,32.6Q131.2,31.6 261.8,33.8M0.9,63.3Q131.0,62.1 261.1,64.6M1.3,94.0Q130.9,92.6 260.4,95.3M1.7,124.7Q130.7,123.1 259.7,126.1M2.2,155.4Q130.6,153.5 259.0,156.8M2.6,186.1Q130.5,184.0 258.3,187.6M3.0,216.8Q130.3,214.5 257.6,218.3M3.5,247.5Q130.2,245.0 256.9,249.0M3.9,278.2Q130.0,275.5 256.2,279.8" fill="none" stroke="#222" stroke-width="0.9" stroke-dasharray="1.1 2.1" opacity="0.5"/>
</g>
<use href="#ol" fill="none" stroke="#000" stroke-width="2.8" stroke-linejoin="round"/>
<path d="M0,0Q131.7,-0.6 262.6,1.2L256,287.2Q130,283.6 4,285.6Z" fill="none" stroke="#222" stroke-width="1.3"/>
</g>
<g transform="translate(734.4,1167.9)">
<g clip-path="url(#cq)"><g filter="url(#jet)">
<g filter="url(#bl)">
<rect x="-30.3" y="-29.1" width="30.6" height="29.4" fill="#595959"/>
<rect x="-0.3" y="-29.1" width="29.8" height="29.4" fill="#595959"/>
<rect x="28.9" y="-29.1" width="29.8" height="29.4" fill="#5c5c5c"/>
<rect x="58.1" y="-29.1" width="29.8" height="29.4" fill="#606060"/>
<rect x="87.3" y="-29.1" width="29.8" height="29.4" fill="#606060"/>
<rect x="116.5" y="-29.1" width="24.3" height="29.4" fill="#606060"/>
<rect x="140.2" y="-29.1" width="29.6" height="29.4" fill="#535353"/>
<rect x="169.2" y="-29.1" width="29.6" height="29.4" fill="#4f4f4f"/>
<rect x="198.2" y="-29.1" width="29.6" height="29.4" fill="#4f4f4f"/>
<rect x="227.2" y="-29.1" width="36.1" height="29.4" fill="#525252"/>
<rect x="262.7" y="-29.1" width="30.6" height="29.4" fill="#525252"/>
<rect x="-30.3" y="-0.3" width="30.6" height="29.4" fill="#595959"/>
<rect x="-0.3" y="-0.3" width="29.8" height="29.4" fill="#595959"/>
<rect x="28.9" y="-0.3" width="29.8" height="29.4" fill="#5c5c5c"/>
<rect x="58.1" y="-0.3" width="29.8" height="29.4" fill="#606060"/>
<rect x="87.3" y="-0.3" width="29.8" height="29.4" fill="#606060"/>
<rect x="116.5" y="-0.3" width="24.3" height="29.4" fill="#606060"/>
<rect x="140.2" y="-0.3" width="29.6" height="29.4" fill="#535353"/>
<rect x="169.2" y="-0.3" width="29.6" height="29.4" fill="#4f4f4f"/>
<rect x="198.2" y="-0.3" width="29.6" height="29.4" fill="#4f4f4f"/>
<rect x="227.2" y="-0.3" width="36.1" height="29.4" fill="#525252"/>
<rect x="262.7" y="-0.3" width="30.6" height="29.4" fill="#525252"/>
<rect x="-30.3" y="28.5" width="30.6" height="29.4" fill="#575757"/>
<rect x="-0.3" y="28.5" width="29.8" height="29.4" fill="#575757"/>
<rect x="28.9" y="28.5" width="29.8" height="29.4" fill="#5d5d5d"/>
<rect x="58.1" y="28.5" width="29.8" height="29.4" fill="#5e5e5e"/>
<rect x="87.3" y="28.5" width="29.8" height="29.4" fill="#595959"/>
<rect x="116.5" y="28.5" width="24.3" height="29.4" fill="#575757"/>
<rect x="140.2" y="28.5" width="29.6" height="29.4" fill="#4c4c4c"/>
<rect x="169.2" y="28.5" width="29.6" height="29.4" fill="#4b4b4b"/>
<rect x="198.2" y="28.5" width="29.6" height="29.4" fill="#4b4b4b"/>
<rect x="227.2" y="28.5" width="36.1" height="29.4" fill="#4c4c4c"/>
<rect x="262.7" y="28.5" width="30.6" height="29.4" fill="#4c4c4c"/>
<rect x="-30.3" y="57.3" width="30.6" height="29.4" fill="#595959"/>
<rect x="-0.3" y="57.3" width="29.8" height="29.4" fill="#595959"/>
<rect x="28.9" y="57.3" width="29.8" height="29.4" fill="#595959"/>
<rect x="58.1" y="57.3" width="29.8" height="29.4" fill="#5c5c5c"/>
<rect x="87.3" y="57.3" width="29.8" height="29.4" fill="#606060"/>
<rect x="116.5" y="57.3" width="24.3" height="29.4" fill="#5c5c5c"/>
<rect x="140.2" y="57.3" width="29.6" height="29.4" fill="#4c4c4c"/>
<rect x="169.2" y="57.3" width="29.6" height="29.4" fill="#494949"/>
<rect x="198.2" y="57.3" width="29.6" height="29.4" fill="#474747"/>
<rect x="227.2" y="57.3" width="36.1" height="29.4" fill="#4a4a4a"/>
<rect x="262.7" y="57.3" width="30.6" height="29.4" fill="#4a4a4a"/>
<rect x="-30.3" y="86.1" width="30.6" height="29.4" fill="#5d5d5d"/>
<rect x="-0.3" y="86.1" width="29.8" height="29.4" fill="#5d5d5d"/>
<rect x="28.9" y="86.1" width="29.8" height="29.4" fill="#5e5e5e"/>
<rect x="58.1" y="86.1" width="29.8" height="29.4" fill="#626262"/>
<rect x="87.3" y="86.1" width="29.8" height="29.4" fill="#6c6c6c"/>
<rect x="116.5" y="86.1" width="24.3" height="29.4" fill="#6c6c6c"/>
<rect x="140.2" y="86.1" width="29.6" height="29.4" fill="#4f4f4f"/>
<rect x="169.2" y="86.1" width="29.6" height="29.4" fill="#494949"/>
<rect x="198.2" y="86.1" width="29.6" height="29.4" fill="#474747"/>
<rect x="227.2" y="86.1" width="36.1" height="29.4" fill="#4a4a4a"/>
<rect x="262.7" y="86.1" width="30.6" height="29.4" fill="#4a4a4a"/>
<rect x="-30.3" y="114.9" width="30.6" height="29.4" fill="#616161"/>
<rect x="-0.3" y="114.9" width="29.8" height="29.4" fill="#616161"/>
<rect x="28.9" y="114.9" width="29.8" height="29.4" fill="#626262"/>
<rect x="58.1" y="114.9" width="29.8" height="29.4" fill="#666666"/>
<rect x="87.3" y="114.9" width="29.8" height="29.4" fill="#6f6f6f"/>
<rect x="116.5" y="114.9" width="24.3" height="29.4" fill="#757575"/>
<rect x="140.2" y="114.9" width="29.6" height="29.4" fill="#575757"/>
<rect x="169.2" y="114.9" width="29.6" height="29.4" fill="#4c4c4c"/>
<rect x="198.2" y="114.9" width="29.6" height="29.4" fill="#4a4a4a"/>
<rect x="227.2" y="114.9" width="36.1" height="29.4" fill="#4c4c4c"/>
<rect x="262.7" y="114.9" width="30.6" height="29.4" fill="#4c4c4c"/>
<rect x="-30.3" y="143.7" width="30.6" height="29.4" fill="#696969"/>
<rect x="-0.3" y="143.7" width="29.8" height="29.4" fill="#696969"/>
<rect x="28.9" y="143.7" width="29.8" height="29.4" fill="#696969"/>
<rect x="58.1" y="143.7" width="29.8" height="29.4" fill="#666666"/>
<rect x="87.3" y="143.7" width="29.8" height="29.4" fill="#6a6a6a"/>
<rect x="116.5" y="143.7" width="24.3" height="29.4" fill="#737373"/>
<rect x="140.2" y="143.7" width="29.6" height="29.4" fill="#797979"/>
<rect x="169.2" y="143.7" width="29.6" height="29.4" fill="#626262"/>
<rect x="198.2" y="143.7" width="29.6" height="29.4" fill="#555555"/>
<rect x="227.2" y="143.7" width="36.1" height="29.4" fill="#555555"/>
<rect x="262.7" y="143.7" width="30.6" height="29.4" fill="#555555"/>
<rect x="-30.3" y="172.5" width="30.6" height="29.4" fill="#737373"/>
<rect x="-0.3" y="172.5" width="29.8" height="29.4" fill="#737373"/>
<rect x="28.9" y="172.5" width="29.8" height="29.4" fill="#707070"/>
<rect x="58.1" y="172.5" width="29.8" height="29.4" fill="#6c6c6c"/>
<rect x="87.3" y="172.5" width="29.8" height="29.4" fill="#6f6f6f"/>
<rect x="116.5" y="172.5" width="24.3" height="29.4" fill="#777777"/>
<rect x="140.2" y="172.5" width="29.6" height="29.4" fill="#7d7d7d"/>
<rect x="169.2" y="172.5" width="29.6" height="29.4" fill="#6a6a6a"/>
<rect x="198.2" y="172.5" width="29.6" height="29.4" fill="#5d5d5d"/>
<rect x="227.2" y="172.5" width="36.1" height="29.4" fill="#666666"/>
<rect x="262.7" y="172.5" width="30.6" height="29.4" fill="#666666"/>
<rect x="-30.3" y="201.3" width="30.6" height="29.4" fill="#7d7d7d"/>
<rect x="-0.3" y="201.3" width="29.8" height="29.4" fill="#7d7d7d"/>
<rect x="28.9" y="201.3" width="29.8" height="29.4" fill="#7d7d7d"/>
<rect x="58.1" y="201.3" width="29.8" height="29.4" fill="#797979"/>
<rect x="87.3" y="201.3" width="29.8" height="29.4" fill="#757575"/>
<rect x="116.5" y="201.3" width="24.3" height="29.4" fill="#797979"/>
<rect x="140.2" y="201.3" width="29.6" height="29.4" fill="#797979"/>
<rect x="169.2" y="201.3" width="29.6" height="29.4" fill="#737373"/>
<rect x="198.2" y="201.3" width="29.6" height="29.4" fill="#737373"/>
<rect x="227.2" y="201.3" width="36.1" height="29.4" fill="#7d7d7d"/>
<rect x="262.7" y="201.3" width="30.6" height="29.4" fill="#7d7d7d"/>
<rect x="-30.3" y="230.1" width="30.6" height="29.4" fill="#8a8a8a"/>
<rect x="-0.3" y="230.1" width="29.8" height="29.4" fill="#8a8a8a"/>
<rect x="28.9" y="230.1" width="29.8" height="29.4" fill="#8c8c8c"/>
<rect x="58.1" y="230.1" width="29.8" height="29.4" fill="#868686"/>
<rect x="87.3" y="230.1" width="29.8" height="29.4" fill="#868686"/>
<rect x="116.5" y="230.1" width="24.3" height="29.4" fill="#8a8a8a"/>
<rect x="140.2" y="230.1" width="29.6" height="29.4" fill="#8c8c8c"/>
<rect x="169.2" y="230.1" width="29.6" height="29.4" fill="#868686"/>
<rect x="198.2" y="230.1" width="29.6" height="29.4" fill="#8a8a8a"/>
<rect x="227.2" y="230.1" width="36.1" height="29.4" fill="#8a8a8a"/>
<rect x="262.7" y="230.1" width="30.6" height="29.4" fill="#8a8a8a"/>
<rect x="-30.3" y="258.9" width="30.6" height="29.4" fill="#8c8c8c"/>
<rect x="-0.3" y="258.9" width="29.8" height="29.4" fill="#8c8c8c"/>
<rect x="28.9" y="258.9" width="29.8" height="29.4" fill="#939393"/>
<rect x="58.1" y="258.9" width="29.8" height="29.4" fill="#939393"/>
<rect x="87.3" y="258.9" width="29.8" height="29.4" fill="#939393"/>
<rect x="116.5" y="258.9" width="24.3" height="29.4" fill="#8f8f8f"/>
<rect x="140.2" y="258.9" width="29.6" height="29.4" fill="#939393"/>
<rect x="169.2" y="258.9" width="29.6" height="29.4" fill="#969696"/>
<rect x="198.2" y="258.9" width="29.6" height="29.4" fill="#909090"/>
<rect x="227.2" y="258.9" width="36.1" height="29.4" fill="#8c8c8c"/>
<rect x="262.7" y="258.9" width="30.6" height="29.4" fill="#8c8c8c"/>
<rect x="-30.3" y="287.7" width="30.6" height="29.4" fill="#8c8c8c"/>
<rect x="-0.3" y="287.7" width="29.8" height="29.4" fill="#8c8c8c"/>
<rect x="28.9" y="287.7" width="29.8" height="29.4" fill="#939393"/>
<rect x="58.1" y="287.7" width="29.8" height="29.4" fill="#939393"/>
<rect x="87.3" y="287.7" width="29.8" height="29.4" fill="#939393"/>
<rect x="116.5" y="287.7" width="24.3" height="29.4" fill="#8f8f8f"/>
<rect x="140.2" y="287.7" width="29.6" height="29.4" fill="#939393"/>
<rect x="169.2" y="287.7" width="29.6" height="29.4" fill="#969696"/>
<rect x="198.2" y="287.7" width="29.6" height="29.4" fill="#909090"/>
<rect x="227.2" y="287.7" width="36.1" height="29.4" fill="#8c8c8c"/>
<rect x="262.7" y="287.7" width="30.6" height="29.4" fill="#8c8c8c"/>
</g>
<polyline points="120.0,255.0 128.0,266.0 136.0,276.0 142.0,288.0" fill="none" stroke="#4c4c4c" stroke-width="2.2" stroke-linecap="round" stroke-linejoin="round" filter="url(#f1_0)"/>
<ellipse cx="57.0" cy="245.0" rx="6.8" ry="1.7" transform="rotate(0 57.0 245.0)" fill="#dfdfdf" filter="url(#f1_0)"/>
<ellipse cx="243.0" cy="178.0" rx="1.6" ry="4.5" transform="rotate(12 243.0 178.0)" fill="#202020" filter="url(#f0_8)"/>
<polyline points="232.0,16.0 236.0,19.0 238.0,23.0" fill="none" stroke="#262626" stroke-width="1.6" stroke-linecap="round" stroke-linejoin="round" filter="url(#f0_6)"/>
<ellipse cx="230.5" cy="23.5" rx="3.5" ry="1.8" transform="rotate(0 230.5 23.5)" fill="#8c8c8c" filter="url(#f1_0)"/>
<ellipse cx="241.5" cy="178.0" rx="2.6" ry="5.5" transform="rotate(12 241.5 178.0)" fill="#202020" filter="url(#f1_0)"/>
<ellipse cx="193.9" cy="245.5" rx="2.3" ry="2.0" transform="rotate(0 193.9 245.5)" fill="#1a1a1a" filter="url(#f0_6)"/>
<ellipse cx="241.0" cy="156.0" rx="2.0" ry="3.5" transform="rotate(10 241.0 156.0)" fill="#2d2d2d" filter="url(#f0_8)"/>
<polygon points="92.0,47.0 110.0,44.0 124.0,43.0 140.0,48.0 148.0,58.0 150.0,66.0 140.0,71.0 124.0,69.0 108.0,67.0 95.0,63.0" fill="#4a4a4a" filter="url(#f3_0)"/>
<polyline points="151.0,150.0 156.0,168.0 162.0,188.0" fill="none" stroke="#b3b3b3" stroke-width="4.5" stroke-linecap="round" stroke-linejoin="round" filter="url(#f1_3)"/>
<polyline points="126.0,186.0 140.0,192.0 161.0,196.0" fill="none" stroke="#b9b9b9" stroke-width="3.2" stroke-linecap="round" stroke-linejoin="round" filter="url(#f1_1)"/>
<ellipse cx="142.7" cy="142.0" rx="4.0" ry="4.5" transform="rotate(0 142.7 142.0)" fill="#bfbfbf" filter="url(#f1_5)"/>
<ellipse cx="221.0" cy="257.0" rx="8.0" ry="3.5" transform="rotate(10 221.0 257.0)" fill="#b9b9b9" filter="url(#f2_2)"/>
<ellipse cx="188.0" cy="274.0" rx="4.0" ry="7.5" transform="rotate(15 188.0 274.0)" fill="#bfbfbf" filter="url(#f2_2)"/>
<ellipse cx="108.0" cy="268.0" rx="12.0" ry="8.0" transform="rotate(20 108.0 268.0)" fill="#a8a8a8" filter="url(#f2_2)"/>
<ellipse cx="61.0" cy="269.0" rx="3.5" ry="7.0" transform="rotate(10 61.0 269.0)" fill="#b3b3b3" filter="url(#f2_2)"/>
<ellipse cx="236.0" cy="264.0" rx="8.0" ry="6.0" transform="rotate(0 236.0 264.0)" fill="#a6a6a6" filter="url(#f2_2)"/>
<ellipse cx="151.0" cy="203.0" rx="13.0" ry="6.0" transform="rotate(10 151.0 203.0)" fill="#9c9c9c" filter="url(#f2_2)"/>
</g>
<path d="M5.1,0.0L8.9,285.6M35.6,0.2L38.2,285.8M66.1,0.3L67.5,286.0M96.7,0.4L96.8,286.2M127.2,0.6L126.1,286.4M157.8,0.7L155.4,286.6M188.3,0.9L184.7,286.7M218.9,1.0L214.0,286.9M249.4,1.1L243.3,287.1M0.0,1.9Q131.3,1.2 262.6,3.1M0.5,32.6Q131.2,31.6 261.8,33.8M0.9,63.3Q131.0,62.1 261.1,64.6M1.3,94.0Q130.9,92.6 260.4,95.3M1.7,124.7Q130.7,123.1 259.7,126.1M2.2,155.4Q130.6,153.5 259.0,156.8M2.6,186.1Q130.5,184.0 258.3,187.6M3.0,216.8Q130.3,214.5 257.6,218.3M3.5,247.5Q130.2,245.0 256.9,249.0M3.9,278.2Q130.0,275.5 256.2,279.8" fill="none" stroke="#222" stroke-width="0.9" stroke-dasharray="1.1 2.1" opacity="0.5"/>
</g>
<use href="#ol" fill="none" stroke="#000" stroke-width="2.8" stroke-linejoin="round"/>
<path d="M0,0Q131.7,-0.6 262.6,1.2L256,287.2Q130,283.6 4,285.6Z" fill="none" stroke="#222" stroke-width="1.3"/>
</g>
<text transform="translate(22.6,46.8) scale(0.84,1)" font-size="26" font-weight="bold" fill="#000">a</text>
<text x="36.7" y="46.1" font-size="25.6" font-weight="bold" fill="#000">)</text>
<text transform="translate(35.2,195.9) rotate(-90)" font-size="16" fill="#262626" text-anchor="middle" textLength="61" lengthAdjust="spacingAndGlyphs">Latitude</text>
<text x="218.7" y="33.9" font-size="15" font-weight="bold" fill="#000" text-anchor="middle" textLength="120.8" lengthAdjust="spacingAndGlyphs">Albedo (1 km)</text>
<text x="218.7" y="52.7" font-size="15" font-weight="bold" fill="#000" text-anchor="middle" textLength="202.2" lengthAdjust="spacingAndGlyphs">Mar 14 2011 (08:00:00)</text>
<text y="66.7" font-size="12.5" fill="#262626"><tspan x="49.0">10</tspan><tspan x="63.2" y="62.4" font-size="11.5">&#176;</tspan><tspan x="72.3" y="66.7">S</tspan></text>
<text y="128.2" font-size="12.5" fill="#262626"><tspan x="49.9">12</tspan><tspan x="64.1" y="123.9" font-size="11.5">&#176;</tspan><tspan x="73.2" y="128.2">S</tspan></text>
<text y="189.7" font-size="12.5" fill="#262626"><tspan x="50.9">14</tspan><tspan x="65.1" y="185.4" font-size="11.5">&#176;</tspan><tspan x="74.2" y="189.7">S</tspan></text>
<text y="251.2" font-size="12.5" fill="#262626"><tspan x="51.8">16</tspan><tspan x="66.0" y="246.9" font-size="11.5">&#176;</tspan><tspan x="75.1" y="251.2">S</tspan></text>
<text y="312.7" font-size="12.5" fill="#262626"><tspan x="52.7">18</tspan><tspan x="66.9" y="308.4" font-size="11.5">&#176;</tspan><tspan x="76.0" y="312.7">S</tspan></text>
<text y="372.5" font-size="12.5" fill="#262626"><tspan x="82.2">18</tspan><tspan x="96.7" y="368.2" font-size="11.5">&#176;</tspan><tspan x="105.7" y="372.5">E</tspan></text>
<text y="372.2" font-size="12.5" fill="#262626"><tspan x="140.7">20</tspan><tspan x="155.2" y="367.9" font-size="11.5">&#176;</tspan><tspan x="164.2" y="372.2">E</tspan></text>
<text y="372.4" font-size="12.5" fill="#262626"><tspan x="199.2">22</tspan><tspan x="213.7" y="368.1" font-size="11.5">&#176;</tspan><tspan x="222.7" y="372.4">E</tspan></text>
<text y="373.2" font-size="12.5" fill="#262626"><tspan x="257.7">24</tspan><tspan x="272.2" y="368.9" font-size="11.5">&#176;</tspan><tspan x="281.2" y="373.2">E</tspan></text>
<text y="374.3" font-size="12.5" fill="#262626"><tspan x="316.2">26</tspan><tspan x="330.7" y="370.0" font-size="11.5">&#176;</tspan><tspan x="339.7" y="374.3">E</tspan></text>
<text x="542.5" y="33.9" font-size="15" font-weight="bold" fill="#000" text-anchor="middle" textLength="120.8" lengthAdjust="spacingAndGlyphs">Albedo (1 km)</text>
<text x="542.5" y="52.7" font-size="15" font-weight="bold" fill="#000" text-anchor="middle" textLength="202.2" lengthAdjust="spacingAndGlyphs">Mar 14 2011 (12:00:00)</text>
<text y="66.7" font-size="12.5" fill="#262626"><tspan x="372.8">10</tspan><tspan x="387.0" y="62.4" font-size="11.5">&#176;</tspan><tspan x="396.1" y="66.7">S</tspan></text>
<text y="128.2" font-size="12.5" fill="#262626"><tspan x="373.7">12</tspan><tspan x="387.9" y="123.9" font-size="11.5">&#176;</tspan><tspan x="397.0" y="128.2">S</tspan></text>
<text y="189.7" font-size="12.5" fill="#262626"><tspan x="374.7">14</tspan><tspan x="388.9" y="185.4" font-size="11.5">&#176;</tspan><tspan x="398.0" y="189.7">S</tspan></text>
<text y="251.2" font-size="12.5" fill="#262626"><tspan x="375.6">16</tspan><tspan x="389.8" y="246.9" font-size="11.5">&#176;</tspan><tspan x="398.9" y="251.2">S</tspan></text>
<text y="312.7" font-size="12.5" fill="#262626"><tspan x="376.5">18</tspan><tspan x="390.7" y="308.4" font-size="11.5">&#176;</tspan><tspan x="399.8" y="312.7">S</tspan></text>
<text y="372.5" font-size="12.5" fill="#262626"><tspan x="406.0">18</tspan><tspan x="420.5" y="368.2" font-size="11.5">&#176;</tspan><tspan x="429.5" y="372.5">E</tspan></text>
<text y="372.2" font-size="12.5" fill="#262626"><tspan x="464.5">20</tspan><tspan x="479.0" y="367.9" font-size="11.5">&#176;</tspan><tspan x="488.0" y="372.2">E</tspan></text>
<text y="372.4" font-size="12.5" fill="#262626"><tspan x="523.0">22</tspan><tspan x="537.5" y="368.1" font-size="11.5">&#176;</tspan><tspan x="546.5" y="372.4">E</tspan></text>
<text y="373.2" font-size="12.5" fill="#262626"><tspan x="581.5">24</tspan><tspan x="596.0" y="368.9" font-size="11.5">&#176;</tspan><tspan x="605.0" y="373.2">E</tspan></text>
<text y="374.3" font-size="12.5" fill="#262626"><tspan x="640.0">26</tspan><tspan x="654.5" y="370.0" font-size="11.5">&#176;</tspan><tspan x="663.5" y="374.3">E</tspan></text>
<text x="866.1" y="33.9" font-size="15" font-weight="bold" fill="#000" text-anchor="middle" textLength="120.8" lengthAdjust="spacingAndGlyphs">Albedo (1 km)</text>
<text x="866.1" y="52.7" font-size="15" font-weight="bold" fill="#000" text-anchor="middle" textLength="202.2" lengthAdjust="spacingAndGlyphs">Mar 14 2011 (16:00:00)</text>
<text y="66.7" font-size="12.5" fill="#262626"><tspan x="696.4">10</tspan><tspan x="710.6" y="62.4" font-size="11.5">&#176;</tspan><tspan x="719.7" y="66.7">S</tspan></text>
<text y="128.2" font-size="12.5" fill="#262626"><tspan x="697.3">12</tspan><tspan x="711.5" y="123.9" font-size="11.5">&#176;</tspan><tspan x="720.6" y="128.2">S</tspan></text>
<text y="189.7" font-size="12.5" fill="#262626"><tspan x="698.3">14</tspan><tspan x="712.5" y="185.4" font-size="11.5">&#176;</tspan><tspan x="721.6" y="189.7">S</tspan></text>
<text y="251.2" font-size="12.5" fill="#262626"><tspan x="699.2">16</tspan><tspan x="713.4" y="246.9" font-size="11.5">&#176;</tspan><tspan x="722.5" y="251.2">S</tspan></text>
<text y="312.7" font-size="12.5" fill="#262626"><tspan x="700.1">18</tspan><tspan x="714.3" y="308.4" font-size="11.5">&#176;</tspan><tspan x="723.4" y="312.7">S</tspan></text>
<text y="372.5" font-size="12.5" fill="#262626"><tspan x="729.6">18</tspan><tspan x="744.1" y="368.2" font-size="11.5">&#176;</tspan><tspan x="753.1" y="372.5">E</tspan></text>
<text y="372.2" font-size="12.5" fill="#262626"><tspan x="788.1">20</tspan><tspan x="802.6" y="367.9" font-size="11.5">&#176;</tspan><tspan x="811.6" y="372.2">E</tspan></text>
<text y="372.4" font-size="12.5" fill="#262626"><tspan x="846.6">22</tspan><tspan x="861.1" y="368.1" font-size="11.5">&#176;</tspan><tspan x="870.1" y="372.4">E</tspan></text>
<text y="373.2" font-size="12.5" fill="#262626"><tspan x="905.1">24</tspan><tspan x="919.6" y="368.9" font-size="11.5">&#176;</tspan><tspan x="928.6" y="373.2">E</tspan></text>
<text y="374.3" font-size="12.5" fill="#262626"><tspan x="963.6">26</tspan><tspan x="978.1" y="370.0" font-size="11.5">&#176;</tspan><tspan x="987.1" y="374.3">E</tspan></text>
<rect x="1005.3" y="59.0" width="19.3" height="286.7" fill="url(#cb)" stroke="#555" stroke-width="0.8"/>
<text x="1030.2" y="63.3" font-size="12.5" fill="#262626" textLength="27.3" lengthAdjust="spacingAndGlyphs">0.25</text>
<line x1="1021" y1="130.7" x2="1024.6" y2="130.7" stroke="#444" stroke-width="0.8"/>
<text x="1030.2" y="135.0" font-size="12.5" fill="#262626" textLength="19.2" lengthAdjust="spacingAndGlyphs">0.2</text>
<line x1="1021" y1="202.4" x2="1024.6" y2="202.4" stroke="#444" stroke-width="0.8"/>
<text x="1030.2" y="206.7" font-size="12.5" fill="#262626" textLength="27.3" lengthAdjust="spacingAndGlyphs">0.15</text>
<line x1="1021" y1="274.1" x2="1024.6" y2="274.1" stroke="#444" stroke-width="0.8"/>
<text x="1030.2" y="278.4" font-size="12.5" fill="#262626" textLength="19.2" lengthAdjust="spacingAndGlyphs">0.1</text>
<text x="1030.2" y="350.1" font-size="12.5" fill="#262626" textLength="27.3" lengthAdjust="spacingAndGlyphs">0.05</text>
<text transform="translate(1073.8,202.5) rotate(-90)" font-size="13" fill="#262626" text-anchor="middle" textLength="44" lengthAdjust="spacingAndGlyphs">Albedo</text>
<text transform="translate(22.6,418.5) scale(0.84,1)" font-size="26" font-weight="bold" fill="#000">b</text>
<text x="38.1" y="417.8" font-size="25.6" font-weight="bold" fill="#000">)</text>
<text transform="translate(35.2,569.7) rotate(-90)" font-size="16" fill="#262626" text-anchor="middle" textLength="61" lengthAdjust="spacingAndGlyphs">Latitude</text>
<text x="218.7" y="403.6" font-size="15" font-weight="bold" fill="#000" text-anchor="middle" textLength="120.8" lengthAdjust="spacingAndGlyphs">Albedo (1 km)</text>
<text x="218.7" y="422.4" font-size="15" font-weight="bold" fill="#000" text-anchor="middle" textLength="192.3" lengthAdjust="spacingAndGlyphs">Jul 28 2011 (08:00:00)</text>
<text y="436.4" font-size="12.5" fill="#262626"><tspan x="49.0">10</tspan><tspan x="63.2" y="432.1" font-size="11.5">&#176;</tspan><tspan x="72.3" y="436.4">S</tspan></text>
<text y="497.9" font-size="12.5" fill="#262626"><tspan x="49.9">12</tspan><tspan x="64.1" y="493.6" font-size="11.5">&#176;</tspan><tspan x="73.2" y="497.9">S</tspan></text>
<text y="559.4" font-size="12.5" fill="#262626"><tspan x="50.9">14</tspan><tspan x="65.1" y="555.1" font-size="11.5">&#176;</tspan><tspan x="74.2" y="559.4">S</tspan></text>
<text y="620.9" font-size="12.5" fill="#262626"><tspan x="51.8">16</tspan><tspan x="66.0" y="616.6" font-size="11.5">&#176;</tspan><tspan x="75.1" y="620.9">S</tspan></text>
<text y="682.4" font-size="12.5" fill="#262626"><tspan x="52.7">18</tspan><tspan x="66.9" y="678.1" font-size="11.5">&#176;</tspan><tspan x="76.0" y="682.4">S</tspan></text>
<text y="742.2" font-size="12.5" fill="#262626"><tspan x="82.2">18</tspan><tspan x="96.7" y="737.9" font-size="11.5">&#176;</tspan><tspan x="105.7" y="742.2">E</tspan></text>
<text y="741.9" font-size="12.5" fill="#262626"><tspan x="140.7">20</tspan><tspan x="155.2" y="737.6" font-size="11.5">&#176;</tspan><tspan x="164.2" y="741.9">E</tspan></text>
<text y="742.1" font-size="12.5" fill="#262626"><tspan x="199.2">22</tspan><tspan x="213.7" y="737.8" font-size="11.5">&#176;</tspan><tspan x="222.7" y="742.1">E</tspan></text>
<text y="742.9" font-size="12.5" fill="#262626"><tspan x="257.7">24</tspan><tspan x="272.2" y="738.6" font-size="11.5">&#176;</tspan><tspan x="281.2" y="742.9">E</tspan></text>
<text y="744.0" font-size="12.5" fill="#262626"><tspan x="316.2">26</tspan><tspan x="330.7" y="739.7" font-size="11.5">&#176;</tspan><tspan x="339.7" y="744.0">E</tspan></text>
<text x="542.5" y="403.6" font-size="15" font-weight="bold" fill="#000" text-anchor="middle" textLength="120.8" lengthAdjust="spacingAndGlyphs">Albedo (1 km)</text>
<text x="542.5" y="422.4" font-size="15" font-weight="bold" fill="#000" text-anchor="middle" textLength="192.3" lengthAdjust="spacingAndGlyphs">Jul 28 2011 (12:00:00)</text>
<text y="436.4" font-size="12.5" fill="#262626"><tspan x="372.8">10</tspan><tspan x="387.0" y="432.1" font-size="11.5">&#176;</tspan><tspan x="396.1" y="436.4">S</tspan></text>
<text y="497.9" font-size="12.5" fill="#262626"><tspan x="373.7">12</tspan><tspan x="387.9" y="493.6" font-size="11.5">&#176;</tspan><tspan x="397.0" y="497.9">S</tspan></text>
<text y="559.4" font-size="12.5" fill="#262626"><tspan x="374.7">14</tspan><tspan x="388.9" y="555.1" font-size="11.5">&#176;</tspan><tspan x="398.0" y="559.4">S</tspan></text>
<text y="620.9" font-size="12.5" fill="#262626"><tspan x="375.6">16</tspan><tspan x="389.8" y="616.6" font-size="11.5">&#176;</tspan><tspan x="398.9" y="620.9">S</tspan></text>
<text y="682.4" font-size="12.5" fill="#262626"><tspan x="376.5">18</tspan><tspan x="390.7" y="678.1" font-size="11.5">&#176;</tspan><tspan x="399.8" y="682.4">S</tspan></text>
<text y="742.2" font-size="12.5" fill="#262626"><tspan x="406.0">18</tspan><tspan x="420.5" y="737.9" font-size="11.5">&#176;</tspan><tspan x="429.5" y="742.2">E</tspan></text>
<text y="741.9" font-size="12.5" fill="#262626"><tspan x="464.5">20</tspan><tspan x="479.0" y="737.6" font-size="11.5">&#176;</tspan><tspan x="488.0" y="741.9">E</tspan></text>
<text y="742.1" font-size="12.5" fill="#262626"><tspan x="523.0">22</tspan><tspan x="537.5" y="737.8" font-size="11.5">&#176;</tspan><tspan x="546.5" y="742.1">E</tspan></text>
<text y="742.9" font-size="12.5" fill="#262626"><tspan x="581.5">24</tspan><tspan x="596.0" y="738.6" font-size="11.5">&#176;</tspan><tspan x="605.0" y="742.9">E</tspan></text>
<text y="744.0" font-size="12.5" fill="#262626"><tspan x="640.0">26</tspan><tspan x="654.5" y="739.7" font-size="11.5">&#176;</tspan><tspan x="663.5" y="744.0">E</tspan></text>
<text x="866.1" y="403.6" font-size="15" font-weight="bold" fill="#000" text-anchor="middle" textLength="120.8" lengthAdjust="spacingAndGlyphs">Albedo (1 km)</text>
<text x="866.1" y="422.4" font-size="15" font-weight="bold" fill="#000" text-anchor="middle" textLength="192.3" lengthAdjust="spacingAndGlyphs">Jul 28 2011 (16:00:00)</text>
<text y="436.4" font-size="12.5" fill="#262626"><tspan x="696.4">10</tspan><tspan x="710.6" y="432.1" font-size="11.5">&#176;</tspan><tspan x="719.7" y="436.4">S</tspan></text>
<text y="497.9" font-size="12.5" fill="#262626"><tspan x="697.3">12</tspan><tspan x="711.5" y="493.6" font-size="11.5">&#176;</tspan><tspan x="720.6" y="497.9">S</tspan></text>
<text y="559.4" font-size="12.5" fill="#262626"><tspan x="698.3">14</tspan><tspan x="712.5" y="555.1" font-size="11.5">&#176;</tspan><tspan x="721.6" y="559.4">S</tspan></text>
<text y="620.9" font-size="12.5" fill="#262626"><tspan x="699.2">16</tspan><tspan x="713.4" y="616.6" font-size="11.5">&#176;</tspan><tspan x="722.5" y="620.9">S</tspan></text>
<text y="682.4" font-size="12.5" fill="#262626"><tspan x="700.1">18</tspan><tspan x="714.3" y="678.1" font-size="11.5">&#176;</tspan><tspan x="723.4" y="682.4">S</tspan></text>
<text y="742.2" font-size="12.5" fill="#262626"><tspan x="729.6">18</tspan><tspan x="744.1" y="737.9" font-size="11.5">&#176;</tspan><tspan x="753.1" y="742.2">E</tspan></text>
<text y="741.9" font-size="12.5" fill="#262626"><tspan x="788.1">20</tspan><tspan x="802.6" y="737.6" font-size="11.5">&#176;</tspan><tspan x="811.6" y="741.9">E</tspan></text>
<text y="742.1" font-size="12.5" fill="#262626"><tspan x="846.6">22</tspan><tspan x="861.1" y="737.8" font-size="11.5">&#176;</tspan><tspan x="870.1" y="742.1">E</tspan></text>
<text y="742.9" font-size="12.5" fill="#262626"><tspan x="905.1">24</tspan><tspan x="919.6" y="738.6" font-size="11.5">&#176;</tspan><tspan x="928.6" y="742.9">E</tspan></text>
<text y="744.0" font-size="12.5" fill="#262626"><tspan x="963.6">26</tspan><tspan x="978.1" y="739.7" font-size="11.5">&#176;</tspan><tspan x="987.1" y="744.0">E</tspan></text>
<rect x="1005.3" y="428.9" width="19.3" height="286.7" fill="url(#cb)" stroke="#555" stroke-width="0.8"/>
<text x="1030.2" y="433.2" font-size="12.5" fill="#262626" textLength="27.3" lengthAdjust="spacingAndGlyphs">0.25</text>
<line x1="1021" y1="500.6" x2="1024.6" y2="500.6" stroke="#444" stroke-width="0.8"/>
<text x="1030.2" y="504.9" font-size="12.5" fill="#262626" textLength="19.2" lengthAdjust="spacingAndGlyphs">0.2</text>
<line x1="1021" y1="572.3" x2="1024.6" y2="572.3" stroke="#444" stroke-width="0.8"/>
<text x="1030.2" y="576.6" font-size="12.5" fill="#262626" textLength="27.3" lengthAdjust="spacingAndGlyphs">0.15</text>
<line x1="1021" y1="644.0" x2="1024.6" y2="644.0" stroke="#444" stroke-width="0.8"/>
<text x="1030.2" y="648.3" font-size="12.5" fill="#262626" textLength="19.2" lengthAdjust="spacingAndGlyphs">0.1</text>
<text x="1030.2" y="720.0" font-size="12.5" fill="#262626" textLength="27.3" lengthAdjust="spacingAndGlyphs">0.05</text>
<text transform="translate(1073.8,572.2) rotate(-90)" font-size="13" fill="#262626" text-anchor="middle" textLength="44" lengthAdjust="spacingAndGlyphs">Albedo</text>
<text transform="translate(22.6,784.9) scale(0.84,1)" font-size="26" font-weight="bold" fill="#000">c</text>
<text x="34.8" y="784.2" font-size="25.6" font-weight="bold" fill="#000">)</text>
<text transform="translate(35.2,936.0) rotate(-90)" font-size="16" fill="#262626" text-anchor="middle" textLength="61" lengthAdjust="spacingAndGlyphs">Latitude</text>
<text x="218.7" y="773.3" font-size="15" font-weight="bold" fill="#000" text-anchor="middle" textLength="120.8" lengthAdjust="spacingAndGlyphs">Albedo (1 km)</text>
<text x="218.7" y="792.1" font-size="15" font-weight="bold" fill="#000" text-anchor="middle" textLength="202.2" lengthAdjust="spacingAndGlyphs">Mar 14 2015 (08:00:00)</text>
<text y="806.1" font-size="12.5" fill="#262626"><tspan x="49.0">10</tspan><tspan x="63.2" y="801.8" font-size="11.5">&#176;</tspan><tspan x="72.3" y="806.1">S</tspan></text>
<text y="867.6" font-size="12.5" fill="#262626"><tspan x="49.9">12</tspan><tspan x="64.1" y="863.3" font-size="11.5">&#176;</tspan><tspan x="73.2" y="867.6">S</tspan></text>
<text y="929.1" font-size="12.5" fill="#262626"><tspan x="50.9">14</tspan><tspan x="65.1" y="924.8" font-size="11.5">&#176;</tspan><tspan x="74.2" y="929.1">S</tspan></text>
<text y="990.6" font-size="12.5" fill="#262626"><tspan x="51.8">16</tspan><tspan x="66.0" y="986.3" font-size="11.5">&#176;</tspan><tspan x="75.1" y="990.6">S</tspan></text>
<text y="1052.1" font-size="12.5" fill="#262626"><tspan x="52.7">18</tspan><tspan x="66.9" y="1047.8" font-size="11.5">&#176;</tspan><tspan x="76.0" y="1052.1">S</tspan></text>
<text y="1111.9" font-size="12.5" fill="#262626"><tspan x="82.2">18</tspan><tspan x="96.7" y="1107.6" font-size="11.5">&#176;</tspan><tspan x="105.7" y="1111.9">E</tspan></text>
<text y="1111.6" font-size="12.5" fill="#262626"><tspan x="140.7">20</tspan><tspan x="155.2" y="1107.3" font-size="11.5">&#176;</tspan><tspan x="164.2" y="1111.6">E</tspan></text>
<text y="1111.8" font-size="12.5" fill="#262626"><tspan x="199.2">22</tspan><tspan x="213.7" y="1107.5" font-size="11.5">&#176;</tspan><tspan x="222.7" y="1111.8">E</tspan></text>
<text y="1112.6" font-size="12.5" fill="#262626"><tspan x="257.7">24</tspan><tspan x="272.2" y="1108.3" font-size="11.5">&#176;</tspan><tspan x="281.2" y="1112.6">E</tspan></text>
<text y="1113.7" font-size="12.5" fill="#262626"><tspan x="316.2">26</tspan><tspan x="330.7" y="1109.4" font-size="11.5">&#176;</tspan><tspan x="339.7" y="1113.7">E</tspan></text>
<text x="542.5" y="773.3" font-size="15" font-weight="bold" fill="#000" text-anchor="middle" textLength="120.8" lengthAdjust="spacingAndGlyphs">Albedo (1 km)</text>
<text x="542.5" y="792.1" font-size="15" font-weight="bold" fill="#000" text-anchor="middle" textLength="202.2" lengthAdjust="spacingAndGlyphs">Mar 14 2015 (12:00:00)</text>
<text y="806.1" font-size="12.5" fill="#262626"><tspan x="372.8">10</tspan><tspan x="387.0" y="801.8" font-size="11.5">&#176;</tspan><tspan x="396.1" y="806.1">S</tspan></text>
<text y="867.6" font-size="12.5" fill="#262626"><tspan x="373.7">12</tspan><tspan x="387.9" y="863.3" font-size="11.5">&#176;</tspan><tspan x="397.0" y="867.6">S</tspan></text>
<text y="929.1" font-size="12.5" fill="#262626"><tspan x="374.7">14</tspan><tspan x="388.9" y="924.8" font-size="11.5">&#176;</tspan><tspan x="398.0" y="929.1">S</tspan></text>
<text y="990.6" font-size="12.5" fill="#262626"><tspan x="375.6">16</tspan><tspan x="389.8" y="986.3" font-size="11.5">&#176;</tspan><tspan x="398.9" y="990.6">S</tspan></text>
<text y="1052.1" font-size="12.5" fill="#262626"><tspan x="376.5">18</tspan><tspan x="390.7" y="1047.8" font-size="11.5">&#176;</tspan><tspan x="399.8" y="1052.1">S</tspan></text>
<text y="1111.9" font-size="12.5" fill="#262626"><tspan x="406.0">18</tspan><tspan x="420.5" y="1107.6" font-size="11.5">&#176;</tspan><tspan x="429.5" y="1111.9">E</tspan></text>
<text y="1111.6" font-size="12.5" fill="#262626"><tspan x="464.5">20</tspan><tspan x="479.0" y="1107.3" font-size="11.5">&#176;</tspan><tspan x="488.0" y="1111.6">E</tspan></text>
<text y="1111.8" font-size="12.5" fill="#262626"><tspan x="523.0">22</tspan><tspan x="537.5" y="1107.5" font-size="11.5">&#176;</tspan><tspan x="546.5" y="1111.8">E</tspan></text>
<text y="1112.6" font-size="12.5" fill="#262626"><tspan x="581.5">24</tspan><tspan x="596.0" y="1108.3" font-size="11.5">&#176;</tspan><tspan x="605.0" y="1112.6">E</tspan></text>
<text y="1113.7" font-size="12.5" fill="#262626"><tspan x="640.0">26</tspan><tspan x="654.5" y="1109.4" font-size="11.5">&#176;</tspan><tspan x="663.5" y="1113.7">E</tspan></text>
<text x="866.1" y="773.3" font-size="15" font-weight="bold" fill="#000" text-anchor="middle" textLength="120.8" lengthAdjust="spacingAndGlyphs">Albedo (1 km)</text>
<text x="866.1" y="792.1" font-size="15" font-weight="bold" fill="#000" text-anchor="middle" textLength="202.2" lengthAdjust="spacingAndGlyphs">Mar 14 2015 (16:00:00)</text>
<text y="806.1" font-size="12.5" fill="#262626"><tspan x="696.4">10</tspan><tspan x="710.6" y="801.8" font-size="11.5">&#176;</tspan><tspan x="719.7" y="806.1">S</tspan></text>
<text y="867.6" font-size="12.5" fill="#262626"><tspan x="697.3">12</tspan><tspan x="711.5" y="863.3" font-size="11.5">&#176;</tspan><tspan x="720.6" y="867.6">S</tspan></text>
<text y="929.1" font-size="12.5" fill="#262626"><tspan x="698.3">14</tspan><tspan x="712.5" y="924.8" font-size="11.5">&#176;</tspan><tspan x="721.6" y="929.1">S</tspan></text>
<text y="990.6" font-size="12.5" fill="#262626"><tspan x="699.2">16</tspan><tspan x="713.4" y="986.3" font-size="11.5">&#176;</tspan><tspan x="722.5" y="990.6">S</tspan></text>
<text y="1052.1" font-size="12.5" fill="#262626"><tspan x="700.1">18</tspan><tspan x="714.3" y="1047.8" font-size="11.5">&#176;</tspan><tspan x="723.4" y="1052.1">S</tspan></text>
<text y="1111.9" font-size="12.5" fill="#262626"><tspan x="729.6">18</tspan><tspan x="744.1" y="1107.6" font-size="11.5">&#176;</tspan><tspan x="753.1" y="1111.9">E</tspan></text>
<text y="1111.6" font-size="12.5" fill="#262626"><tspan x="788.1">20</tspan><tspan x="802.6" y="1107.3" font-size="11.5">&#176;</tspan><tspan x="811.6" y="1111.6">E</tspan></text>
<text y="1111.8" font-size="12.5" fill="#262626"><tspan x="846.6">22</tspan><tspan x="861.1" y="1107.5" font-size="11.5">&#176;</tspan><tspan x="870.1" y="1111.8">E</tspan></text>
<text y="1112.6" font-size="12.5" fill="#262626"><tspan x="905.1">24</tspan><tspan x="919.6" y="1108.3" font-size="11.5">&#176;</tspan><tspan x="928.6" y="1112.6">E</tspan></text>
<text y="1113.7" font-size="12.5" fill="#262626"><tspan x="963.6">26</tspan><tspan x="978.1" y="1109.4" font-size="11.5">&#176;</tspan><tspan x="987.1" y="1113.7">E</tspan></text>
<rect x="1005.3" y="798.8" width="19.3" height="286.7" fill="url(#cb)" stroke="#555" stroke-width="0.8"/>
<text x="1030.2" y="803.1" font-size="12.5" fill="#262626" textLength="27.3" lengthAdjust="spacingAndGlyphs">0.25</text>
<line x1="1021" y1="870.5" x2="1024.6" y2="870.5" stroke="#444" stroke-width="0.8"/>
<text x="1030.2" y="874.8" font-size="12.5" fill="#262626" textLength="19.2" lengthAdjust="spacingAndGlyphs">0.2</text>
<line x1="1021" y1="942.2" x2="1024.6" y2="942.2" stroke="#444" stroke-width="0.8"/>
<text x="1030.2" y="946.5" font-size="12.5" fill="#262626" textLength="27.3" lengthAdjust="spacingAndGlyphs">0.15</text>
<line x1="1021" y1="1013.9" x2="1024.6" y2="1013.9" stroke="#444" stroke-width="0.8"/>
<text x="1030.2" y="1018.2" font-size="12.5" fill="#262626" textLength="19.2" lengthAdjust="spacingAndGlyphs">0.1</text>
<text x="1030.2" y="1089.9" font-size="12.5" fill="#262626" textLength="27.3" lengthAdjust="spacingAndGlyphs">0.05</text>
<text transform="translate(1073.8,941.9) rotate(-90)" font-size="13" fill="#262626" text-anchor="middle" textLength="44" lengthAdjust="spacingAndGlyphs">Albedo</text>
<text transform="translate(22.6,1156.5) scale(0.84,1)" font-size="26" font-weight="bold" fill="#000">d</text>
<text x="38.1" y="1155.8" font-size="25.6" font-weight="bold" fill="#000">)</text>
<text transform="translate(35.2,1311.9) rotate(-90)" font-size="16" fill="#262626" text-anchor="middle" textLength="61" lengthAdjust="spacingAndGlyphs">Latitude</text>
<text x="218.7" y="1143.0" font-size="15" font-weight="bold" fill="#000" text-anchor="middle" textLength="120.8" lengthAdjust="spacingAndGlyphs">Albedo (1 km)</text>
<text x="218.7" y="1161.8" font-size="15" font-weight="bold" fill="#000" text-anchor="middle" textLength="192.3" lengthAdjust="spacingAndGlyphs">Jul 28 2015 (08:00:00)</text>
<text y="1175.8" font-size="12.5" fill="#262626"><tspan x="49.0">10</tspan><tspan x="63.2" y="1171.5" font-size="11.5">&#176;</tspan><tspan x="72.3" y="1175.8">S</tspan></text>
<text y="1237.3" font-size="12.5" fill="#262626"><tspan x="49.9">12</tspan><tspan x="64.1" y="1233.0" font-size="11.5">&#176;</tspan><tspan x="73.2" y="1237.3">S</tspan></text>
<text y="1298.8" font-size="12.5" fill="#262626"><tspan x="50.9">14</tspan><tspan x="65.1" y="1294.5" font-size="11.5">&#176;</tspan><tspan x="74.2" y="1298.8">S</tspan></text>
<text y="1360.3" font-size="12.5" fill="#262626"><tspan x="51.8">16</tspan><tspan x="66.0" y="1356.0" font-size="11.5">&#176;</tspan><tspan x="75.1" y="1360.3">S</tspan></text>
<text y="1421.8" font-size="12.5" fill="#262626"><tspan x="52.7">18</tspan><tspan x="66.9" y="1417.5" font-size="11.5">&#176;</tspan><tspan x="76.0" y="1421.8">S</tspan></text>
<text y="1481.6" font-size="12.5" fill="#262626"><tspan x="82.2">18</tspan><tspan x="96.7" y="1477.3" font-size="11.5">&#176;</tspan><tspan x="105.7" y="1481.6">E</tspan></text>
<text y="1481.3" font-size="12.5" fill="#262626"><tspan x="140.7">20</tspan><tspan x="155.2" y="1477.0" font-size="11.5">&#176;</tspan><tspan x="164.2" y="1481.3">E</tspan></text>
<text y="1481.5" font-size="12.5" fill="#262626"><tspan x="199.2">22</tspan><tspan x="213.7" y="1477.2" font-size="11.5">&#176;</tspan><tspan x="222.7" y="1481.5">E</tspan></text>
<text y="1482.3" font-size="12.5" fill="#262626"><tspan x="257.7">24</tspan><tspan x="272.2" y="1478.0" font-size="11.5">&#176;</tspan><tspan x="281.2" y="1482.3">E</tspan></text>
<text y="1483.4" font-size="12.5" fill="#262626"><tspan x="316.2">26</tspan><tspan x="330.7" y="1479.1" font-size="11.5">&#176;</tspan><tspan x="339.7" y="1483.4">E</tspan></text>
<text x="542.5" y="1143.0" font-size="15" font-weight="bold" fill="#000" text-anchor="middle" textLength="120.8" lengthAdjust="spacingAndGlyphs">Albedo (1 km)</text>
<text x="542.5" y="1161.8" font-size="15" font-weight="bold" fill="#000" text-anchor="middle" textLength="192.3" lengthAdjust="spacingAndGlyphs">Jul 28 2015 (12:00:00)</text>
<text y="1175.8" font-size="12.5" fill="#262626"><tspan x="372.8">10</tspan><tspan x="387.0" y="1171.5" font-size="11.5">&#176;</tspan><tspan x="396.1" y="1175.8">S</tspan></text>
<text y="1237.3" font-size="12.5" fill="#262626"><tspan x="373.7">12</tspan><tspan x="387.9" y="1233.0" font-size="11.5">&#176;</tspan><tspan x="397.0" y="1237.3">S</tspan></text>
<text y="1298.8" font-size="12.5" fill="#262626"><tspan x="374.7">14</tspan><tspan x="388.9" y="1294.5" font-size="11.5">&#176;</tspan><tspan x="398.0" y="1298.8">S</tspan></text>
<text y="1360.3" font-size="12.5" fill="#262626"><tspan x="375.6">16</tspan><tspan x="389.8" y="1356.0" font-size="11.5">&#176;</tspan><tspan x="398.9" y="1360.3">S</tspan></text>
<text y="1421.8" font-size="12.5" fill="#262626"><tspan x="376.5">18</tspan><tspan x="390.7" y="1417.5" font-size="11.5">&#176;</tspan><tspan x="399.8" y="1421.8">S</tspan></text>
<text y="1481.6" font-size="12.5" fill="#262626"><tspan x="406.0">18</tspan><tspan x="420.5" y="1477.3" font-size="11.5">&#176;</tspan><tspan x="429.5" y="1481.6">E</tspan></text>
<text y="1481.3" font-size="12.5" fill="#262626"><tspan x="464.5">20</tspan><tspan x="479.0" y="1477.0" font-size="11.5">&#176;</tspan><tspan x="488.0" y="1481.3">E</tspan></text>
<text y="1481.5" font-size="12.5" fill="#262626"><tspan x="523.0">22</tspan><tspan x="537.5" y="1477.2" font-size="11.5">&#176;</tspan><tspan x="546.5" y="1481.5">E</tspan></text>
<text y="1482.3" font-size="12.5" fill="#262626"><tspan x="581.5">24</tspan><tspan x="596.0" y="1478.0" font-size="11.5">&#176;</tspan><tspan x="605.0" y="1482.3">E</tspan></text>
<text y="1483.4" font-size="12.5" fill="#262626"><tspan x="640.0">26</tspan><tspan x="654.5" y="1479.1" font-size="11.5">&#176;</tspan><tspan x="663.5" y="1483.4">E</tspan></text>
<text x="866.1" y="1143.0" font-size="15" font-weight="bold" fill="#000" text-anchor="middle" textLength="120.8" lengthAdjust="spacingAndGlyphs">Albedo (1 km)</text>
<text x="866.1" y="1161.8" font-size="15" font-weight="bold" fill="#000" text-anchor="middle" textLength="192.3" lengthAdjust="spacingAndGlyphs">Jul 28 2015 (16:00:00)</text>
<text y="1175.8" font-size="12.5" fill="#262626"><tspan x="696.4">10</tspan><tspan x="710.6" y="1171.5" font-size="11.5">&#176;</tspan><tspan x="719.7" y="1175.8">S</tspan></text>
<text y="1237.3" font-size="12.5" fill="#262626"><tspan x="697.3">12</tspan><tspan x="711.5" y="1233.0" font-size="11.5">&#176;</tspan><tspan x="720.6" y="1237.3">S</tspan></text>
<text y="1298.8" font-size="12.5" fill="#262626"><tspan x="698.3">14</tspan><tspan x="712.5" y="1294.5" font-size="11.5">&#176;</tspan><tspan x="721.6" y="1298.8">S</tspan></text>
<text y="1360.3" font-size="12.5" fill="#262626"><tspan x="699.2">16</tspan><tspan x="713.4" y="1356.0" font-size="11.5">&#176;</tspan><tspan x="722.5" y="1360.3">S</tspan></text>
<text y="1421.8" font-size="12.5" fill="#262626"><tspan x="700.1">18</tspan><tspan x="714.3" y="1417.5" font-size="11.5">&#176;</tspan><tspan x="723.4" y="1421.8">S</tspan></text>
<text y="1481.6" font-size="12.5" fill="#262626"><tspan x="729.6">18</tspan><tspan x="744.1" y="1477.3" font-size="11.5">&#176;</tspan><tspan x="753.1" y="1481.6">E</tspan></text>
<text y="1481.3" font-size="12.5" fill="#262626"><tspan x="788.1">20</tspan><tspan x="802.6" y="1477.0" font-size="11.5">&#176;</tspan><tspan x="811.6" y="1481.3">E</tspan></text>
<text y="1481.5" font-size="12.5" fill="#262626"><tspan x="846.6">22</tspan><tspan x="861.1" y="1477.2" font-size="11.5">&#176;</tspan><tspan x="870.1" y="1481.5">E</tspan></text>
<text y="1482.3" font-size="12.5" fill="#262626"><tspan x="905.1">24</tspan><tspan x="919.6" y="1478.0" font-size="11.5">&#176;</tspan><tspan x="928.6" y="1482.3">E</tspan></text>
<text y="1483.4" font-size="12.5" fill="#262626"><tspan x="963.6">26</tspan><tspan x="978.1" y="1479.1" font-size="11.5">&#176;</tspan><tspan x="987.1" y="1483.4">E</tspan></text>
<rect x="1005.3" y="1168.7" width="19.3" height="286.7" fill="url(#cb)" stroke="#555" stroke-width="0.8"/>
<text x="1030.2" y="1173.0" font-size="12.5" fill="#262626" textLength="27.3" lengthAdjust="spacingAndGlyphs">0.25</text>
<line x1="1021" y1="1240.4" x2="1024.6" y2="1240.4" stroke="#444" stroke-width="0.8"/>
<text x="1030.2" y="1244.7" font-size="12.5" fill="#262626" textLength="19.2" lengthAdjust="spacingAndGlyphs">0.2</text>
<line x1="1021" y1="1312.1" x2="1024.6" y2="1312.1" stroke="#444" stroke-width="0.8"/>
<text x="1030.2" y="1316.4" font-size="12.5" fill="#262626" textLength="27.3" lengthAdjust="spacingAndGlyphs">0.15</text>
<line x1="1021" y1="1383.8" x2="1024.6" y2="1383.8" stroke="#444" stroke-width="0.8"/>
<text x="1030.2" y="1388.1" font-size="12.5" fill="#262626" textLength="19.2" lengthAdjust="spacingAndGlyphs">0.1</text>
<text x="1030.2" y="1459.8" font-size="12.5" fill="#262626" textLength="27.3" lengthAdjust="spacingAndGlyphs">0.05</text>
<text transform="translate(1073.8,1311.6) rotate(-90)" font-size="13" fill="#262626" text-anchor="middle" textLength="44" lengthAdjust="spacingAndGlyphs">Albedo</text>
<text x="213.2" y="1513.5" font-size="16" fill="#262626" text-anchor="middle" textLength="75.6" lengthAdjust="spacingAndGlyphs">Longitude</text>
<text x="535.0" y="1513.5" font-size="16" fill="#262626" text-anchor="middle" textLength="75.6" lengthAdjust="spacingAndGlyphs">Longitude</text>
<text x="854.8" y="1513.5" font-size="16" fill="#262626" text-anchor="middle" textLength="75.6" lengthAdjust="spacingAndGlyphs">Longitude</text>
</svg></body></html>
